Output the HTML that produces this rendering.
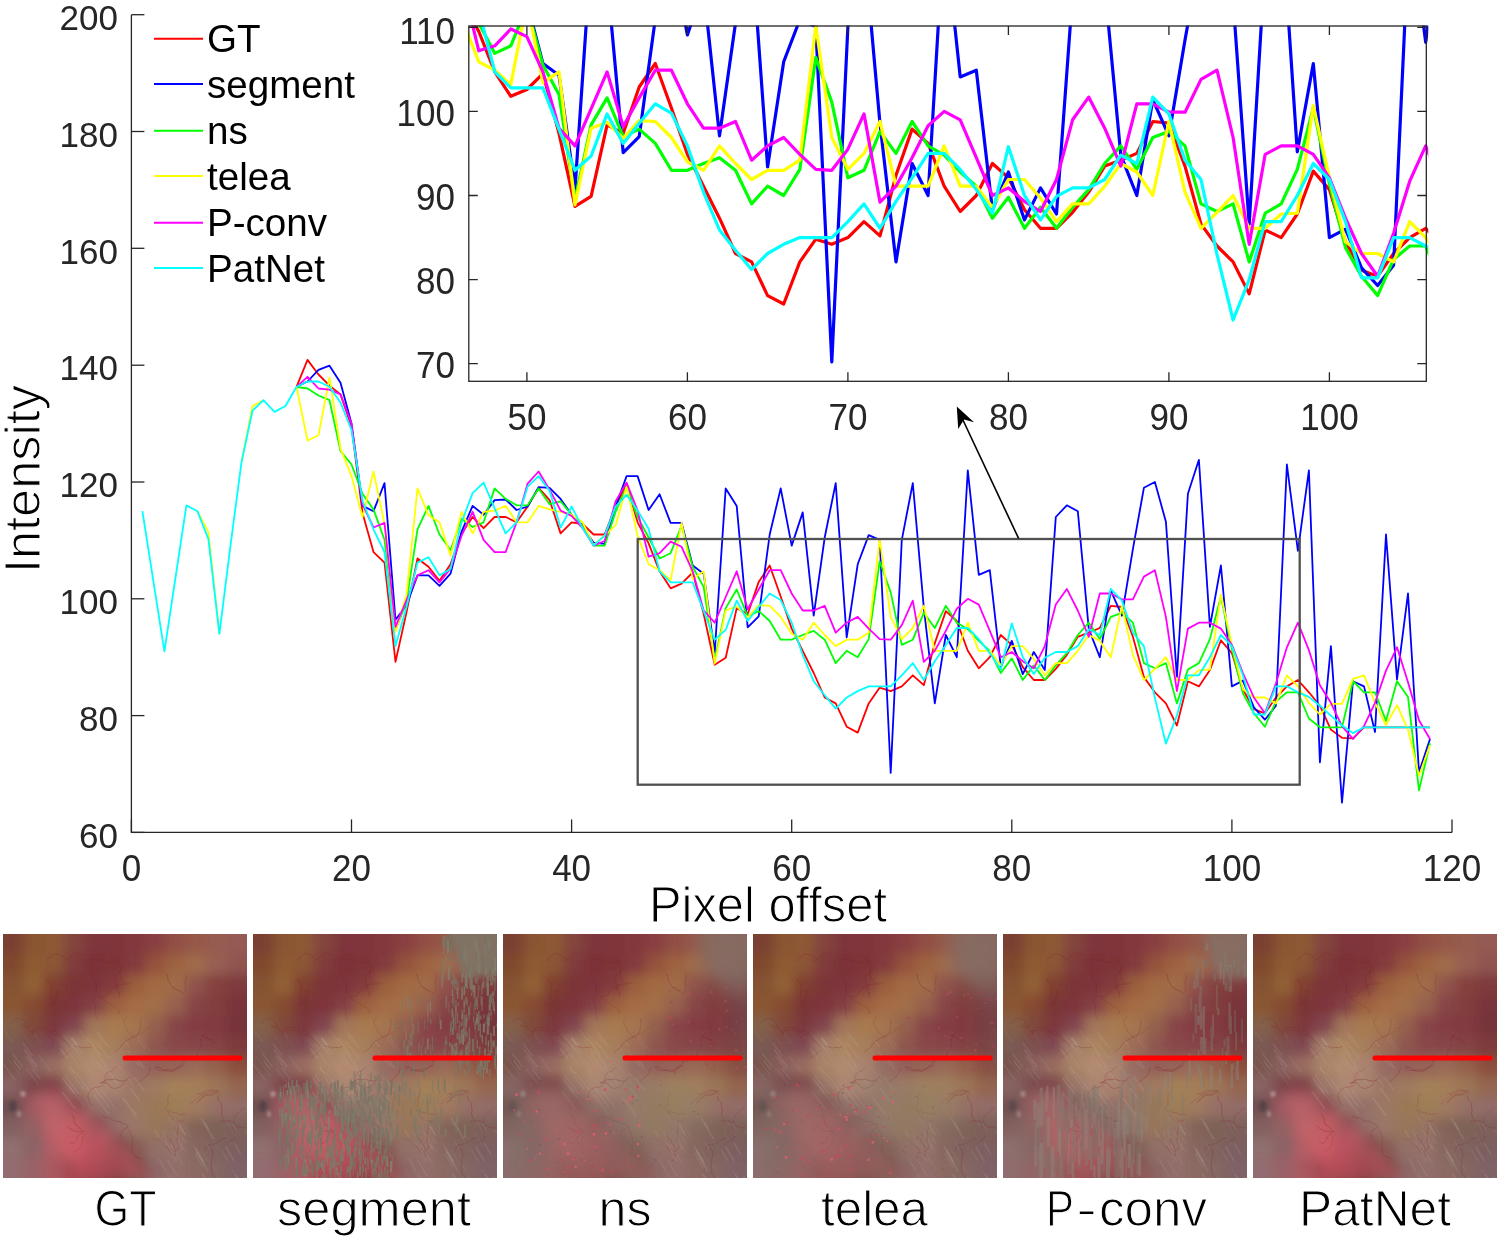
<!DOCTYPE html>
<html><head><meta charset="utf-8"><style>
html,body{margin:0;padding:0;background:#fff;}
svg{display:block;will-change:transform;}
</style></head><body>
<svg width="1500" height="1238" viewBox="0 0 1500 1238">
<defs>

<filter id="gb" x="-10%" y="-10%" width="120%" height="120%"><feGaussianBlur stdDeviation="6"/></filter>
<filter id="gb3" x="-20%" y="-20%" width="140%" height="140%"><feGaussianBlur stdDeviation="3"/></filter>
<filter id="gb2" x="-20%" y="-20%" width="140%" height="140%"><feGaussianBlur stdDeviation="1.5"/></filter>
<filter id="gb05" x="-5%" y="-5%" width="110%" height="110%"><feGaussianBlur stdDeviation="0.4"/></filter>
<filter id="gb6" x="-20%" y="-20%" width="140%" height="140%"><feGaussianBlur stdDeviation="6"/></filter>
<filter id="gb10" x="-30%" y="-30%" width="160%" height="160%"><feGaussianBlur stdDeviation="10"/></filter>
<clipPath id="tc"><rect x="0" y="0" width="244" height="244"/></clipPath>
<linearGradient id="pinkg" x1="0" y1="0" x2="0.6" y2="1"><stop offset="0" stop-color="#b8646c"/><stop offset="0.6" stop-color="#d2606a"/><stop offset="1" stop-color="#c45060"/></linearGradient>
<g id="tissue" clip-path="url(#tc)"><use href="#tissuebase"/><g filter="url(#gb6)"><path d="M28,160 L52,153 L105,196 L150,244 L80,244 L50,210 Z" fill="url(#pinkg)" opacity="0.5"/><path d="M46,150 L104,192 L152,244" stroke="#7e3440" stroke-width="5" fill="none" opacity="0.45"/><path d="M18,152 L45,205 L72,244" stroke="#8a4050" stroke-width="3" fill="none" opacity="0.4"/></g><path d="M80.9,105.6 l11.4,15.3" stroke="#f0e6e6" stroke-width="0.9" opacity="0.08"/><path d="M84.3,99.1 l10.0,13.3" stroke="#f0e6e6" stroke-width="0.8" opacity="0.07"/><path d="M60.6,101.3 l9.1,12.2" stroke="#f0e6e6" stroke-width="1.8" opacity="0.05"/><path d="M72.9,138.9 l14.5,19.3" stroke="#f0e6e6" stroke-width="1.5" opacity="0.07"/><path d="M133.1,98.3 l13.6,18.1" stroke="#f0e6e6" stroke-width="1.1" opacity="0.05"/><path d="M64.4,116.6 l13.1,17.5" stroke="#f0e6e6" stroke-width="1.0" opacity="0.08"/><path d="M106.1,121.1 l10.4,13.8" stroke="#f0e6e6" stroke-width="0.9" opacity="0.04"/><path d="M71.5,142.6 l9.2,12.2" stroke="#f0e6e6" stroke-width="1.2" opacity="0.08"/><path d="M91.3,116.0 l12.9,17.2" stroke="#f0e6e6" stroke-width="1.6" opacity="0.06"/><path d="M101.0,131.8 l13.7,18.3" stroke="#f0e6e6" stroke-width="1.7" opacity="0.06"/><path d="M133.4,103.3 l9.1,12.1" stroke="#f0e6e6" stroke-width="1.7" opacity="0.05"/><path d="M94.1,97.7 l11.6,15.5" stroke="#f0e6e6" stroke-width="1.7" opacity="0.08"/><path d="M125.0,117.0 l11.9,15.9" stroke="#f0e6e6" stroke-width="1.5" opacity="0.08"/><path d="M91.5,153.8 l14.4,19.2" stroke="#f0e6e6" stroke-width="1.4" opacity="0.09"/><path d="M59.9,144.1 l11.4,15.2" stroke="#f0e6e6" stroke-width="2.0" opacity="0.10"/><path d="M77.8,122.0 l11.6,15.5" stroke="#f0e6e6" stroke-width="0.8" opacity="0.07"/><path d="M68.4,103.2 l5.4,7.2" stroke="#f0e6e6" stroke-width="1.7" opacity="0.05"/><path d="M74.8,122.4 l13.7,18.3" stroke="#f0e6e6" stroke-width="0.9" opacity="0.07"/><path d="M99.0,156.8 l13.2,17.5" stroke="#f0e6e6" stroke-width="1.8" opacity="0.06"/><path d="M88.2,120.1 l13.8,18.4" stroke="#f0e6e6" stroke-width="1.9" opacity="0.05"/><path d="M69.1,111.2 l7.2,9.6" stroke="#f0e6e6" stroke-width="1.4" opacity="0.08"/><path d="M76.0,95.3 l9.1,12.1" stroke="#f0e6e6" stroke-width="1.2" opacity="0.08"/><path d="M131.2,143.3 l10.1,13.4" stroke="#f0e6e6" stroke-width="1.5" opacity="0.09"/><path d="M59.3,158.0 l12.8,17.0" stroke="#f0e6e6" stroke-width="1.8" opacity="0.10"/><path d="M86.4,122.9 l5.9,7.8" stroke="#f0e6e6" stroke-width="1.6" opacity="0.04"/><path d="M60.4,109.6 l6.5,8.6" stroke="#f0e6e6" stroke-width="1.2" opacity="0.04"/><path d="M55.0,105.6 l5.8,7.8" stroke="#f0e6e6" stroke-width="1.2" opacity="0.04"/><path d="M124.9,138.0 l6.3,8.4" stroke="#f0e6e6" stroke-width="1.1" opacity="0.06"/><path d="M84.1,103.6 l13.5,17.9" stroke="#f0e6e6" stroke-width="2.0" opacity="0.07"/><path d="M93.7,101.0 l5.8,7.8" stroke="#f0e6e6" stroke-width="1.2" opacity="0.06"/><path d="M121.3,106.3 l5.0,6.7" stroke="#f0e6e6" stroke-width="1.9" opacity="0.08"/><path d="M66.7,133.0 l5.1,6.8" stroke="#f0e6e6" stroke-width="1.4" opacity="0.11"/><path d="M124.1,143.7 l7.5,10.0" stroke="#f0e6e6" stroke-width="1.2" opacity="0.05"/><path d="M116.8,132.3 l12.7,17.0" stroke="#f0e6e6" stroke-width="1.2" opacity="0.06"/><path d="M119.9,163.9 l13.5,18.0" stroke="#f0e6e6" stroke-width="1.8" opacity="0.10"/><path d="M114.2,110.9 l10.1,13.4" stroke="#f0e6e6" stroke-width="1.2" opacity="0.04"/><path d="M57.2,114.6 l7.4,9.9" stroke="#f0e6e6" stroke-width="1.6" opacity="0.11"/><path d="M90.8,160.6 l14.9,19.8" stroke="#f0e6e6" stroke-width="1.9" opacity="0.07"/><path d="M72.6,110.9 l6.8,9.1" stroke="#f0e6e6" stroke-width="1.0" opacity="0.08"/><path d="M127.0,153.8 l9.7,12.9" stroke="#f0e6e6" stroke-width="1.6" opacity="0.10"/><path d="M61.8,141.2 l14.1,18.8" stroke="#f0e6e6" stroke-width="1.7" opacity="0.09"/><path d="M93.2,107.5 l12.8,17.1" stroke="#f0e6e6" stroke-width="1.2" opacity="0.10"/><path d="M132.7,122.7 l8.9,11.9" stroke="#f0e6e6" stroke-width="1.9" opacity="0.09"/><path d="M68.6,103.9 l6.3,8.5" stroke="#f0e6e6" stroke-width="1.9" opacity="0.10"/><path d="M66.7,152.9 l14.8,19.7" stroke="#f0e6e6" stroke-width="1.6" opacity="0.06"/><path d="M201.6,188.4 l4.1,7.0" stroke="#f0e6e6" stroke-width="2.0" opacity="0.09"/><path d="M199.5,239.8 l7.7,13.1" stroke="#f0e6e6" stroke-width="1.8" opacity="0.10"/><path d="M169.8,196.1 l6.5,11.0" stroke="#f0e6e6" stroke-width="1.1" opacity="0.08"/><path d="M174.4,206.8 l5.1,8.7" stroke="#f0e6e6" stroke-width="1.9" opacity="0.06"/><path d="M193.1,217.3 l11.7,19.9" stroke="#f0e6e6" stroke-width="1.3" opacity="0.10"/><path d="M197.2,214.0 l8.4,14.4" stroke="#f0e6e6" stroke-width="0.8" opacity="0.07"/><path d="M167.2,180.3 l10.8,18.3" stroke="#f0e6e6" stroke-width="1.0" opacity="0.07"/><path d="M218.2,215.6 l6.8,11.5" stroke="#f0e6e6" stroke-width="1.4" opacity="0.08"/><path d="M223.7,186.8 l8.8,14.9" stroke="#f0e6e6" stroke-width="1.1" opacity="0.06"/><path d="M222.6,212.5 l8.8,14.9" stroke="#f0e6e6" stroke-width="1.7" opacity="0.10"/><path d="M191.7,219.2 l8.3,14.1" stroke="#f0e6e6" stroke-width="1.4" opacity="0.09"/><path d="M192.5,214.1 l8.1,13.7" stroke="#f0e6e6" stroke-width="1.9" opacity="0.09"/><path d="M232.4,240.3 l6.2,10.6" stroke="#f0e6e6" stroke-width="1.5" opacity="0.11"/><path d="M229.0,188.8 l5.0,8.6" stroke="#f0e6e6" stroke-width="1.3" opacity="0.05"/><path d="M172.6,184.7 l9.7,16.5" stroke="#f0e6e6" stroke-width="1.7" opacity="0.10"/><path d="M164.5,225.8 l9.6,16.3" stroke="#f0e6e6" stroke-width="1.0" opacity="0.10"/><path d="M240.9,194.1 l12.1,20.6" stroke="#f0e6e6" stroke-width="1.3" opacity="0.07"/><path d="M243.0,233.3 l5.4,9.1" stroke="#f0e6e6" stroke-width="1.3" opacity="0.08"/><path d="M181.9,192.5 l6.7,11.4" stroke="#f0e6e6" stroke-width="1.7" opacity="0.04"/><path d="M202.1,208.2 l4.2,7.1" stroke="#f0e6e6" stroke-width="1.2" opacity="0.08"/><path d="M198.2,184.1 l12.4,21.0" stroke="#f0e6e6" stroke-width="1.7" opacity="0.11"/><path d="M159.8,197.0 l4.3,7.4" stroke="#f0e6e6" stroke-width="1.7" opacity="0.06"/><path d="M162.2,207.0 l11.7,20.0" stroke="#f0e6e6" stroke-width="1.8" opacity="0.06"/><path d="M164.0,238.8 l8.9,15.0" stroke="#f0e6e6" stroke-width="1.6" opacity="0.05"/><path d="M155.4,224.0 l7.6,12.9" stroke="#f0e6e6" stroke-width="0.9" opacity="0.11"/><path d="M209.6,231.3 l4.7,8.0" stroke="#f0e6e6" stroke-width="1.8" opacity="0.04"/><path d="M231.1,209.0 l6.9,11.7" stroke="#f0e6e6" stroke-width="1.5" opacity="0.10"/><path d="M175.2,188.3 l8.5,14.4" stroke="#f0e6e6" stroke-width="1.1" opacity="0.05"/><path d="M165.2,183.2 l5.7,9.7" stroke="#f0e6e6" stroke-width="1.2" opacity="0.06"/><path d="M221.4,198.6 l8.3,14.0" stroke="#f0e6e6" stroke-width="1.0" opacity="0.06"/><path d="M151.7,196.0 l4.1,7.0" stroke="#f0e6e6" stroke-width="1.7" opacity="0.08"/><path d="M167.8,210.4 l11.9,20.3" stroke="#f0e6e6" stroke-width="0.9" opacity="0.10"/><path d="M190.6,211.7 l11.1,18.9" stroke="#f0e6e6" stroke-width="1.3" opacity="0.08"/><path d="M214.6,242.9 l6.9,11.8" stroke="#f0e6e6" stroke-width="1.8" opacity="0.09"/><path d="M209.8,205.9 l7.0,11.8" stroke="#f0e6e6" stroke-width="0.9" opacity="0.05"/><path d="M156.6,227.4 l6.2,10.5" stroke="#f0e6e6" stroke-width="1.0" opacity="0.05"/><path d="M229.1,235.7 l9.7,16.5" stroke="#f0e6e6" stroke-width="1.1" opacity="0.06"/><path d="M177.5,209.4 l5.3,9.1" stroke="#f0e6e6" stroke-width="1.3" opacity="0.06"/><path d="M240.4,242.2 l8.7,14.7" stroke="#f0e6e6" stroke-width="1.1" opacity="0.11"/><path d="M179.1,202.8 l4.0,6.8" stroke="#f0e6e6" stroke-width="1.3" opacity="0.07"/><path d="M20.1,100.0 l9.9,13.3" stroke="#f0e6e6" stroke-width="0.8" opacity="0.06"/><path d="M3.6,110.0 l5.2,7.0" stroke="#f0e6e6" stroke-width="0.8" opacity="0.06"/><path d="M9.3,119.3 l10.2,13.6" stroke="#f0e6e6" stroke-width="1.7" opacity="0.09"/><path d="M28.6,134.0 l8.8,11.7" stroke="#f0e6e6" stroke-width="1.2" opacity="0.11"/><path d="M6.0,126.2 l11.4,15.1" stroke="#f0e6e6" stroke-width="0.9" opacity="0.10"/><path d="M35.7,121.4 l12.3,16.4" stroke="#f0e6e6" stroke-width="1.8" opacity="0.05"/><path d="M21.0,115.2 l13.3,17.8" stroke="#f0e6e6" stroke-width="1.8" opacity="0.10"/><path d="M23.4,134.6 l11.8,15.7" stroke="#f0e6e6" stroke-width="1.6" opacity="0.06"/><path d="M1.2,96.7 l8.5,11.3" stroke="#f0e6e6" stroke-width="0.9" opacity="0.10"/><path d="M22.3,121.4 l11.2,14.9" stroke="#f0e6e6" stroke-width="1.6" opacity="0.07"/><path d="M0.1,129.9 l12.4,16.6" stroke="#f0e6e6" stroke-width="1.4" opacity="0.08"/><path d="M26.4,93.3 l12.3,16.4" stroke="#f0e6e6" stroke-width="1.1" opacity="0.05"/><path d="M10.6,126.5 l6.9,9.2" stroke="#f0e6e6" stroke-width="1.7" opacity="0.11"/><path d="M19.8,109.1 l9.7,12.9" stroke="#f0e6e6" stroke-width="1.6" opacity="0.09"/><path d="M24.7,122.1 l5.6,7.5" stroke="#f0e6e6" stroke-width="1.0" opacity="0.06"/><g filter="url(#gb05)"><path d="M130.7,102.8 L128.1,101.0 L125.3,97.9 L123.8,95.0 L122.1,91.7 L120.8,89.3 L120.9,86.3 L124.0,82.6" stroke="#80202c" stroke-width="0.51" fill="none" stroke-linejoin="round" opacity="0.29"/><path d="M132.8,104.7 L134.1,100.1 L136.2,98.4 L137.5,94.2 L137.5,90.8 L138.0,86.8 L137.4,84.0" stroke="#80202c" stroke-width="0.68" fill="none" stroke-linejoin="round" opacity="0.30"/><path d="M129.4,103.0 L132.4,101.2 L135.9,100.5 L138.5,99.4 L141.2,97.5 L143.5,94.9 L146.4,94.2 L149.1,90.8" stroke="#80202c" stroke-width="0.63" fill="none" stroke-linejoin="round" opacity="0.21"/><path d="M132.2,102.5 L127.8,104.0 L125.7,105.5 L122.0,107.2 L118.9,111.1 L117.1,113.8 L113.5,116.4 L111.5,118.0" stroke="#80202c" stroke-width="0.88" fill="none" stroke-linejoin="round" opacity="0.28"/><path d="M216.3,157.3 L212.3,156.6 L207.9,158.0 L203.4,159.6 L200.6,160.4 L197.6,161.6 L194.4,164.5 L191.3,166.3 L189.0,169.2 L186.8,170.9" stroke="#80202c" stroke-width="0.82" fill="none" stroke-linejoin="round" opacity="0.22"/><path d="M216.9,160.3 L212.7,157.6 L210.2,156.2 L207.5,156.0 L204.8,156.4 L202.0,158.0 L197.7,159.9 L194.2,160.1" stroke="#80202c" stroke-width="0.71" fill="none" stroke-linejoin="round" opacity="0.30"/><path d="M214.0,157.4 L211.4,159.5 L207.9,161.0 L203.2,161.0 L199.2,163.6 L196.2,166.3 L194.0,168.8" stroke="#80202c" stroke-width="0.91" fill="none" stroke-linejoin="round" opacity="0.39"/><path d="M214.6,161.6 L215.0,165.3 L218.1,168.9 L218.6,172.7 L219.1,176.3 L218.4,179.3 L219.6,184.1 L222.9,187.2" stroke="#80202c" stroke-width="0.85" fill="none" stroke-linejoin="round" opacity="0.37"/><path d="M71.7,112.0 L76.4,112.8 L79.4,113.9 L82.5,113.4 L86.8,113.6 L89.1,112.3" stroke="#80202c" stroke-width="0.76" fill="none" stroke-linejoin="round" opacity="0.32"/><path d="M68.3,115.6 L64.4,118.6 L62.5,121.3 L59.7,122.8 L56.3,124.5" stroke="#80202c" stroke-width="0.51" fill="none" stroke-linejoin="round" opacity="0.28"/><path d="M67.3,113.2 L66.2,110.7 L63.7,108.2 L60.5,106.2 L57.7,102.9 L55.0,100.8 L51.7,100.9 L49.4,99.7 L46.7,98.4 L44.6,96.2" stroke="#80202c" stroke-width="0.73" fill="none" stroke-linejoin="round" opacity="0.25"/><path d="M165.7,175.7 L169.5,178.6 L173.5,178.8 L175.6,180.3 L179.6,180.2 L183.8,179.6" stroke="#80202c" stroke-width="0.59" fill="none" stroke-linejoin="round" opacity="0.29"/><path d="M163.9,172.7 L165.1,169.6 L164.7,164.7 L165.4,162.3 L167.1,159.2" stroke="#80202c" stroke-width="0.69" fill="none" stroke-linejoin="round" opacity="0.27"/><path d="M162.0,173.7 L164.8,177.5 L167.0,181.3 L169.8,184.7 L173.6,187.2 L177.8,187.3 L181.4,185.8" stroke="#80202c" stroke-width="0.72" fill="none" stroke-linejoin="round" opacity="0.26"/><path d="M97.2,149.5 L99.7,148.8 L101.3,146.6 L104.3,145.6 L109.0,145.6 L112.1,145.0 L115.8,146.6 L120.1,147.0 L123.2,146.5 L126.1,143.2" stroke="#80202c" stroke-width="0.96" fill="none" stroke-linejoin="round" opacity="0.33"/><path d="M97.1,148.4 L100.8,148.2 L105.0,149.7 L107.8,153.2 L111.3,154.7 L115.9,153.3 L119.5,151.0 L121.0,148.3" stroke="#80202c" stroke-width="0.93" fill="none" stroke-linejoin="round" opacity="0.29"/><path d="M100.6,150.1 L102.2,147.4 L102.1,144.9 L102.2,141.5 L105.3,138.0 L108.4,137.4 L110.4,135.5 L113.4,132.5" stroke="#80202c" stroke-width="0.72" fill="none" stroke-linejoin="round" opacity="0.25"/><path d="M100.7,151.0 L96.8,153.0 L92.3,153.5 L89.4,154.7 L87.0,156.8 L85.3,159.9 L85.0,163.0 L86.1,167.7 L87.7,169.8 L90.4,171.4" stroke="#80202c" stroke-width="0.76" fill="none" stroke-linejoin="round" opacity="0.33"/><path d="M47.9,67.6 L47.7,64.5 L47.2,61.1 L48.4,58.3 L47.4,54.4 L48.0,51.5 L46.6,48.0 L43.7,45.3" stroke="#80202c" stroke-width="0.89" fill="none" stroke-linejoin="round" opacity="0.33"/><path d="M45.8,71.3 L49.0,70.1 L51.0,67.8 L52.4,64.1 L54.1,61.6 L53.8,58.2 L54.2,55.3" stroke="#80202c" stroke-width="0.66" fill="none" stroke-linejoin="round" opacity="0.24"/><path d="M177.4,57.6 L174.9,56.1 L171.4,53.9 L168.6,52.5 L166.7,48.8 L165.3,46.6 L164.3,42.0 L163.4,39.6" stroke="#80202c" stroke-width="0.88" fill="none" stroke-linejoin="round" opacity="0.36"/><path d="M179.3,59.4 L177.4,57.3 L174.7,56.6 L171.6,55.3 L169.5,53.4" stroke="#80202c" stroke-width="0.53" fill="none" stroke-linejoin="round" opacity="0.23"/><path d="M179.4,60.4 L181.2,58.2 L182.6,55.6 L182.6,52.9 L182.0,48.6 L183.1,44.2 L183.0,39.6" stroke="#80202c" stroke-width="0.52" fill="none" stroke-linejoin="round" opacity="0.38"/><path d="M152.6,134.3 L156.6,136.5 L161.0,136.7 L164.3,135.4 L168.8,136.0 L171.7,135.0 L175.1,133.3 L177.4,131.7 L179.8,128.1 L182.2,127.1" stroke="#80202c" stroke-width="0.78" fill="none" stroke-linejoin="round" opacity="0.35"/><path d="M152.0,132.7 L156.6,133.5 L160.1,135.7 L163.0,136.7 L166.4,137.1 L169.3,137.6 L173.6,135.0 L176.6,133.0 L180.7,131.1" stroke="#80202c" stroke-width="0.92" fill="none" stroke-linejoin="round" opacity="0.36"/><path d="M147.4,134.2 L146.1,137.5 L145.1,139.9 L143.6,142.2 L140.1,144.9 L138.0,146.5 L135.3,148.6" stroke="#80202c" stroke-width="0.98" fill="none" stroke-linejoin="round" opacity="0.23"/><path d="M61.4,26.9 L65.4,24.5 L68.5,21.1 L72.3,19.4 L75.3,19.0 L79.1,20.4" stroke="#80202c" stroke-width="0.63" fill="none" stroke-linejoin="round" opacity="0.26"/><path d="M62.4,24.7 L58.8,21.6 L55.8,20.6 L52.7,19.6 L49.9,20.6 L46.5,24.1 L42.5,26.6" stroke="#80202c" stroke-width="0.58" fill="none" stroke-linejoin="round" opacity="0.36"/><path d="M202.3,217.1 L203.0,213.3 L204.9,211.2 L208.9,210.6 L213.2,209.3 L217.2,206.3 L220.2,204.6 L223.7,204.1" stroke="#80202c" stroke-width="0.59" fill="none" stroke-linejoin="round" opacity="0.35"/><path d="M206.9,213.5 L209.6,217.3 L209.7,222.1 L208.4,226.2 L208.6,229.5 L208.3,233.0 L208.5,235.6 L208.9,239.6 L210.7,241.5 L212.7,244.1" stroke="#80202c" stroke-width="0.76" fill="none" stroke-linejoin="round" opacity="0.31"/><path d="M125.5,193.2 L123.9,190.8 L119.6,189.5 L116.6,187.4 L113.8,187.5 L110.7,186.8 L106.8,183.8 L102.2,183.7 L98.9,181.5" stroke="#80202c" stroke-width="0.79" fill="none" stroke-linejoin="round" opacity="0.32"/><path d="M125.0,193.0 L121.6,194.9 L119.2,196.8 L117.9,201.1 L119.4,204.7" stroke="#80202c" stroke-width="0.97" fill="none" stroke-linejoin="round" opacity="0.23"/><path d="M125.6,195.0 L127.4,198.7 L128.4,201.1 L129.7,206.0 L129.4,209.6 L129.0,213.1 L128.9,217.8 L131.0,221.3 L135.3,224.0 L139.3,224.9" stroke="#80202c" stroke-width="0.56" fill="none" stroke-linejoin="round" opacity="0.38"/><path d="M28.6,97.3 L32.0,96.3 L35.8,96.8 L39.8,95.9 L42.6,97.2 L44.0,99.3 L46.5,101.2 L49.2,105.2 L50.0,108.4 L49.1,111.6" stroke="#80202c" stroke-width="0.62" fill="none" stroke-linejoin="round" opacity="0.38"/><path d="M31.2,101.0 L27.9,97.8 L25.6,93.7 L23.1,90.2 L21.6,87.3 L18.4,84.8 L13.6,84.5 L11.3,85.5 L8.6,89.5" stroke="#80202c" stroke-width="0.67" fill="none" stroke-linejoin="round" opacity="0.23"/><path d="M27.2,101.2 L29.6,100.0 L31.8,95.8 L34.0,93.9 L37.8,93.5 L42.5,94.1 L46.2,96.2 L49.2,97.2 L51.8,97.0 L55.8,99.5" stroke="#80202c" stroke-width="0.88" fill="none" stroke-linejoin="round" opacity="0.22"/><path d="M30.8,99.9 L28.5,96.1 L25.8,94.3 L23.5,93.0 L20.4,92.5 L17.3,91.0" stroke="#80202c" stroke-width="0.66" fill="none" stroke-linejoin="round" opacity="0.39"/><path d="M93.7,61.5 L91.1,64.2 L90.4,67.8 L92.0,71.4 L92.6,75.9 L92.7,79.1 L93.1,82.9 L94.9,86.9" stroke="#80202c" stroke-width="0.53" fill="none" stroke-linejoin="round" opacity="0.27"/><path d="M96.2,62.0 L99.8,65.2 L102.7,67.9 L107.1,69.1 L109.0,71.5 L113.4,73.5 L116.0,76.2 L116.4,80.1" stroke="#80202c" stroke-width="0.55" fill="none" stroke-linejoin="round" opacity="0.27"/><path d="M97.6,62.4 L102.3,62.4 L104.7,60.6 L107.4,56.7 L109.3,53.8 L112.1,52.5 L115.5,50.7 L119.8,50.1 L123.2,50.3 L126.0,49.8" stroke="#80202c" stroke-width="0.92" fill="none" stroke-linejoin="round" opacity="0.33"/><path d="M93.0,59.6 L93.2,56.8 L93.2,52.1 L92.2,49.3 L89.6,45.9 L89.2,43.0 L87.3,40.5" stroke="#80202c" stroke-width="0.66" fill="none" stroke-linejoin="round" opacity="0.30"/><path d="M202.7,98.6 L201.1,100.9 L198.9,103.0 L197.9,105.7 L197.7,108.9 L198.4,111.6 L197.4,114.6 L194.6,117.0 L193.8,121.6 L193.5,124.6" stroke="#80202c" stroke-width="0.99" fill="none" stroke-linejoin="round" opacity="0.26"/><path d="M198.5,101.4 L202.8,103.6 L206.4,105.1 L209.1,107.4 L213.1,108.9" stroke="#80202c" stroke-width="0.94" fill="none" stroke-linejoin="round" opacity="0.35"/><path d="M118.4,28.1 L115.4,26.6 L113.2,25.0 L109.4,22.7 L106.6,19.7" stroke="#80202c" stroke-width="0.63" fill="none" stroke-linejoin="round" opacity="0.28"/><path d="M120.7,29.5 L116.1,29.7 L113.1,28.1 L108.6,29.0 L106.1,28.0 L103.0,27.9 L98.4,26.2 L95.1,26.5 L91.7,25.1 L88.0,25.1" stroke="#80202c" stroke-width="0.51" fill="none" stroke-linejoin="round" opacity="0.36"/><path d="M119.1,31.5 L117.6,35.4 L116.8,39.7 L118.4,44.4 L119.7,46.7 L122.3,49.0 L125.9,49.1 L130.1,48.8" stroke="#80202c" stroke-width="0.68" fill="none" stroke-linejoin="round" opacity="0.25"/><path d="M121.4,32.6 L119.1,37.0 L115.7,38.5 L112.7,42.3 L112.4,46.8 L113.8,50.6 L114.1,55.2 L116.2,58.7 L116.6,63.2" stroke="#80202c" stroke-width="0.71" fill="none" stroke-linejoin="round" opacity="0.40"/><path d="M231.7,189.8 L228.9,187.8 L225.4,186.9 L223.0,187.3 L219.8,186.9 L216.6,187.6" stroke="#80202c" stroke-width="0.74" fill="none" stroke-linejoin="round" opacity="0.29"/><path d="M231.0,189.2 L230.4,186.6 L231.6,182.0 L233.3,179.7 L236.9,177.9 L238.0,175.6 L241.6,173.6" stroke="#80202c" stroke-width="0.63" fill="none" stroke-linejoin="round" opacity="0.22"/><path d="M228.4,191.7 L229.2,194.6 L230.8,198.1 L231.8,202.2 L230.8,204.7 L227.6,206.8 L224.6,208.1" stroke="#80202c" stroke-width="0.75" fill="none" stroke-linejoin="round" opacity="0.24"/><path d="M232.0,191.0 L234.7,192.7 L237.5,193.3 L240.1,193.8 L242.9,194.2" stroke="#80202c" stroke-width="0.75" fill="none" stroke-linejoin="round" opacity="0.30"/><path d="M81.4,198.0 L78.1,195.8 L75.0,192.5 L72.1,190.4 L71.4,187.8 L71.0,183.7 L68.2,180.8" stroke="#80202c" stroke-width="0.84" fill="none" stroke-linejoin="round" opacity="0.39"/><path d="M82.9,200.1 L80.7,201.9 L79.1,205.1 L79.3,207.8 L78.7,211.1 L76.7,214.4 L73.8,215.8 L71.3,217.7" stroke="#80202c" stroke-width="0.53" fill="none" stroke-linejoin="round" opacity="0.26"/><path d="M80.0,199.0 L76.9,200.3 L74.3,203.0 L73.6,205.9 L72.1,208.3 L69.6,209.3 L66.3,208.2" stroke="#80202c" stroke-width="0.78" fill="none" stroke-linejoin="round" opacity="0.28"/><path d="M79.4,197.7 L74.6,197.5 L70.5,196.7 L66.5,194.1 L63.6,191.4" stroke="#80202c" stroke-width="0.81" fill="none" stroke-linejoin="round" opacity="0.34"/><path d="M172.5,217.2 L175.5,214.0 L176.0,211.1 L174.0,207.1 L174.4,203.0 L174.1,198.4 L175.3,194.7 L175.3,191.5 L174.9,188.2 L174.0,184.2" stroke="#80202c" stroke-width="0.97" fill="none" stroke-linejoin="round" opacity="0.21"/><path d="M172.2,217.7 L168.1,215.3 L165.8,214.2 L162.0,213.0 L159.0,209.1 L156.7,206.4 L152.8,205.1 L149.9,205.4" stroke="#80202c" stroke-width="0.51" fill="none" stroke-linejoin="round" opacity="0.20"/><path d="M172.7,222.8 L170.7,220.9 L168.3,218.8 L165.8,216.1 L163.9,211.7" stroke="#80202c" stroke-width="0.68" fill="none" stroke-linejoin="round" opacity="0.35"/><path d="M172.9,221.6 L172.2,217.3 L171.1,212.6 L168.5,208.5 L167.8,206.0 L164.5,203.6 L163.2,201.2" stroke="#80202c" stroke-width="0.66" fill="none" stroke-linejoin="round" opacity="0.35"/></g><g filter="url(#gb2)" opacity="0.45"><ellipse cx="10" cy="172" rx="4" ry="6" fill="#3e3040"/><ellipse cx="20" cy="160" rx="2.5" ry="3" fill="#e8d8e0"/><ellipse cx="16" cy="180" rx="2" ry="3" fill="#d8c8d0"/></g></g>
<g id="tissuebase"><g filter="url(#gb)"><rect x="-20.33" y="-20.33" width="20.93" height="20.93" fill="#7a4030"/><rect x="0.00" y="-20.33" width="20.93" height="20.93" fill="#7a4030"/><rect x="20.33" y="-20.33" width="20.93" height="20.93" fill="#8a5530"/><rect x="40.67" y="-20.33" width="20.93" height="20.93" fill="#8e5834"/><rect x="61.00" y="-20.33" width="20.93" height="20.93" fill="#84443c"/><rect x="81.33" y="-20.33" width="20.93" height="20.93" fill="#7e363a"/><rect x="101.67" y="-20.33" width="20.93" height="20.93" fill="#80363b"/><rect x="122.00" y="-20.33" width="20.93" height="20.93" fill="#84383e"/><rect x="142.33" y="-20.33" width="20.93" height="20.93" fill="#8a4040"/><rect x="162.67" y="-20.33" width="20.93" height="20.93" fill="#925044"/><rect x="183.00" y="-20.33" width="20.93" height="20.93" fill="#96584a"/><rect x="203.33" y="-20.33" width="20.93" height="20.93" fill="#965c50"/><rect x="223.67" y="-20.33" width="20.93" height="20.93" fill="#945a52"/><rect x="244.00" y="-20.33" width="20.93" height="20.93" fill="#945a52"/><rect x="-20.33" y="0.00" width="20.93" height="20.93" fill="#7a4030"/><rect x="0.00" y="0.00" width="20.93" height="20.93" fill="#7a4030"/><rect x="20.33" y="0.00" width="20.93" height="20.93" fill="#8a5530"/><rect x="40.67" y="0.00" width="20.93" height="20.93" fill="#8e5834"/><rect x="61.00" y="0.00" width="20.93" height="20.93" fill="#84443c"/><rect x="81.33" y="0.00" width="20.93" height="20.93" fill="#7e363a"/><rect x="101.67" y="0.00" width="20.93" height="20.93" fill="#80363b"/><rect x="122.00" y="0.00" width="20.93" height="20.93" fill="#84383e"/><rect x="142.33" y="0.00" width="20.93" height="20.93" fill="#8a4040"/><rect x="162.67" y="0.00" width="20.93" height="20.93" fill="#925044"/><rect x="183.00" y="0.00" width="20.93" height="20.93" fill="#96584a"/><rect x="203.33" y="0.00" width="20.93" height="20.93" fill="#965c50"/><rect x="223.67" y="0.00" width="20.93" height="20.93" fill="#945a52"/><rect x="244.00" y="0.00" width="20.93" height="20.93" fill="#945a52"/><rect x="-20.33" y="20.33" width="20.93" height="20.93" fill="#80482e"/><rect x="0.00" y="20.33" width="20.93" height="20.93" fill="#80482e"/><rect x="20.33" y="20.33" width="20.93" height="20.93" fill="#8e5a32"/><rect x="40.67" y="20.33" width="20.93" height="20.93" fill="#8c5636"/><rect x="61.00" y="20.33" width="20.93" height="20.93" fill="#803a3a"/><rect x="81.33" y="20.33" width="20.93" height="20.93" fill="#7c3238"/><rect x="101.67" y="20.33" width="20.93" height="20.93" fill="#7e3439"/><rect x="122.00" y="20.33" width="20.93" height="20.93" fill="#843a3e"/><rect x="142.33" y="20.33" width="20.93" height="20.93" fill="#94523e"/><rect x="162.67" y="20.33" width="20.93" height="20.93" fill="#9e6440"/><rect x="183.00" y="20.33" width="20.93" height="20.93" fill="#a06c4c"/><rect x="203.33" y="20.33" width="20.93" height="20.93" fill="#985e52"/><rect x="223.67" y="20.33" width="20.93" height="20.93" fill="#905450"/><rect x="244.00" y="20.33" width="20.93" height="20.93" fill="#905450"/><rect x="-20.33" y="40.67" width="20.93" height="20.93" fill="#865230"/><rect x="0.00" y="40.67" width="20.93" height="20.93" fill="#865230"/><rect x="20.33" y="40.67" width="20.93" height="20.93" fill="#926034"/><rect x="40.67" y="40.67" width="20.93" height="20.93" fill="#804032"/><rect x="61.00" y="40.67" width="20.93" height="20.93" fill="#7c3438"/><rect x="81.33" y="40.67" width="20.93" height="20.93" fill="#7e343a"/><rect x="101.67" y="40.67" width="20.93" height="20.93" fill="#843a3e"/><rect x="122.00" y="40.67" width="20.93" height="20.93" fill="#9a5e3c"/><rect x="142.33" y="40.67" width="20.93" height="20.93" fill="#a26a42"/><rect x="162.67" y="40.67" width="20.93" height="20.93" fill="#a06c48"/><rect x="183.00" y="40.67" width="20.93" height="20.93" fill="#90524c"/><rect x="203.33" y="40.67" width="20.93" height="20.93" fill="#84403e"/><rect x="223.67" y="40.67" width="20.93" height="20.93" fill="#7e3a3c"/><rect x="244.00" y="40.67" width="20.93" height="20.93" fill="#7e3a3c"/><rect x="-20.33" y="61.00" width="20.93" height="20.93" fill="#8a5632"/><rect x="0.00" y="61.00" width="20.93" height="20.93" fill="#8a5632"/><rect x="20.33" y="61.00" width="20.93" height="20.93" fill="#864c32"/><rect x="40.67" y="61.00" width="20.93" height="20.93" fill="#7a3434"/><rect x="61.00" y="61.00" width="20.93" height="20.93" fill="#7e363a"/><rect x="81.33" y="61.00" width="20.93" height="20.93" fill="#844044"/><rect x="101.67" y="61.00" width="20.93" height="20.93" fill="#9c6040"/><rect x="122.00" y="61.00" width="20.93" height="20.93" fill="#a46c44"/><rect x="142.33" y="61.00" width="20.93" height="20.93" fill="#a26e48"/><rect x="162.67" y="61.00" width="20.93" height="20.93" fill="#96604e"/><rect x="183.00" y="61.00" width="20.93" height="20.93" fill="#864446"/><rect x="203.33" y="61.00" width="20.93" height="20.93" fill="#823c3e"/><rect x="223.67" y="61.00" width="20.93" height="20.93" fill="#78363a"/><rect x="244.00" y="61.00" width="20.93" height="20.93" fill="#78363a"/><rect x="-20.33" y="81.33" width="20.93" height="20.93" fill="#846048"/><rect x="0.00" y="81.33" width="20.93" height="20.93" fill="#846048"/><rect x="20.33" y="81.33" width="20.93" height="20.93" fill="#80483a"/><rect x="40.67" y="81.33" width="20.93" height="20.93" fill="#7c383c"/><rect x="61.00" y="81.33" width="20.93" height="20.93" fill="#824450"/><rect x="81.33" y="81.33" width="20.93" height="20.93" fill="#a2765a"/><rect x="101.67" y="81.33" width="20.93" height="20.93" fill="#a87a50"/><rect x="122.00" y="81.33" width="20.93" height="20.93" fill="#a47650"/><rect x="142.33" y="81.33" width="20.93" height="20.93" fill="#94604e"/><rect x="162.67" y="81.33" width="20.93" height="20.93" fill="#884448"/><rect x="183.00" y="81.33" width="20.93" height="20.93" fill="#843e42"/><rect x="203.33" y="81.33" width="20.93" height="20.93" fill="#823a40"/><rect x="223.67" y="81.33" width="20.93" height="20.93" fill="#76343a"/><rect x="244.00" y="81.33" width="20.93" height="20.93" fill="#76343a"/><rect x="-20.33" y="101.67" width="20.93" height="20.93" fill="#7a5a52"/><rect x="0.00" y="101.67" width="20.93" height="20.93" fill="#7a5a52"/><rect x="20.33" y="101.67" width="20.93" height="20.93" fill="#7e5050"/><rect x="40.67" y="101.67" width="20.93" height="20.93" fill="#804a52"/><rect x="61.00" y="101.67" width="20.93" height="20.93" fill="#a6806a"/><rect x="81.33" y="101.67" width="20.93" height="20.93" fill="#aa845e"/><rect x="101.67" y="101.67" width="20.93" height="20.93" fill="#a67e5c"/><rect x="122.00" y="101.67" width="20.93" height="20.93" fill="#9c6c56"/><rect x="142.33" y="101.67" width="20.93" height="20.93" fill="#8e5650"/><rect x="162.67" y="101.67" width="20.93" height="20.93" fill="#88464a"/><rect x="183.00" y="101.67" width="20.93" height="20.93" fill="#86444a"/><rect x="203.33" y="101.67" width="20.93" height="20.93" fill="#844244"/><rect x="223.67" y="101.67" width="20.93" height="20.93" fill="#7e3a3e"/><rect x="244.00" y="101.67" width="20.93" height="20.93" fill="#7e3a3e"/><rect x="-20.33" y="122.00" width="20.93" height="20.93" fill="#7a5650"/><rect x="0.00" y="122.00" width="20.93" height="20.93" fill="#7a5650"/><rect x="20.33" y="122.00" width="20.93" height="20.93" fill="#8c625e"/><rect x="40.67" y="122.00" width="20.93" height="20.93" fill="#9a6e62"/><rect x="61.00" y="122.00" width="20.93" height="20.93" fill="#aa8468"/><rect x="81.33" y="122.00" width="20.93" height="20.93" fill="#b38b6f"/><rect x="101.67" y="122.00" width="20.93" height="20.93" fill="#ab836f"/><rect x="122.00" y="122.00" width="20.93" height="20.93" fill="#966a62"/><rect x="142.33" y="122.00" width="20.93" height="20.93" fill="#945e58"/><rect x="162.67" y="122.00" width="20.93" height="20.93" fill="#966458"/><rect x="183.00" y="122.00" width="20.93" height="20.93" fill="#9a6a58"/><rect x="203.33" y="122.00" width="20.93" height="20.93" fill="#94604c"/><rect x="223.67" y="122.00" width="20.93" height="20.93" fill="#8c4e3c"/><rect x="244.00" y="122.00" width="20.93" height="20.93" fill="#8c4e3c"/><rect x="-20.33" y="142.33" width="20.93" height="20.93" fill="#8a6464"/><rect x="0.00" y="142.33" width="20.93" height="20.93" fill="#8a6464"/><rect x="20.33" y="142.33" width="20.93" height="20.93" fill="#7c4448"/><rect x="40.67" y="142.33" width="20.93" height="20.93" fill="#7e4246"/><rect x="61.00" y="142.33" width="20.93" height="20.93" fill="#9c7668"/><rect x="81.33" y="142.33" width="20.93" height="20.93" fill="#ad8773"/><rect x="101.67" y="142.33" width="20.93" height="20.93" fill="#a98371"/><rect x="122.00" y="142.33" width="20.93" height="20.93" fill="#9c7464"/><rect x="142.33" y="142.33" width="20.93" height="20.93" fill="#a07a60"/><rect x="162.67" y="142.33" width="20.93" height="20.93" fill="#a48058"/><rect x="183.00" y="142.33" width="20.93" height="20.93" fill="#a47e58"/><rect x="203.33" y="142.33" width="20.93" height="20.93" fill="#9c7656"/><rect x="223.67" y="142.33" width="20.93" height="20.93" fill="#946650"/><rect x="244.00" y="142.33" width="20.93" height="20.93" fill="#946650"/><rect x="-20.33" y="162.67" width="20.93" height="20.93" fill="#705050"/><rect x="0.00" y="162.67" width="20.93" height="20.93" fill="#705050"/><rect x="20.33" y="162.67" width="20.93" height="20.93" fill="#a05c62"/><rect x="40.67" y="162.67" width="20.93" height="20.93" fill="#a85c62"/><rect x="61.00" y="162.67" width="20.93" height="20.93" fill="#844a50"/><rect x="81.33" y="162.67" width="20.93" height="20.93" fill="#98746c"/><rect x="101.67" y="162.67" width="20.93" height="20.93" fill="#947068"/><rect x="122.00" y="162.67" width="20.93" height="20.93" fill="#9c7864"/><rect x="142.33" y="162.67" width="20.93" height="20.93" fill="#9a7856"/><rect x="162.67" y="162.67" width="20.93" height="20.93" fill="#9e7e56"/><rect x="183.00" y="162.67" width="20.93" height="20.93" fill="#a07a5e"/><rect x="203.33" y="162.67" width="20.93" height="20.93" fill="#967068"/><rect x="223.67" y="162.67" width="20.93" height="20.93" fill="#926c68"/><rect x="244.00" y="162.67" width="20.93" height="20.93" fill="#926c68"/><rect x="-20.33" y="183.00" width="20.93" height="20.93" fill="#846060"/><rect x="0.00" y="183.00" width="20.93" height="20.93" fill="#846060"/><rect x="20.33" y="183.00" width="20.93" height="20.93" fill="#946264"/><rect x="40.67" y="183.00" width="20.93" height="20.93" fill="#b66468"/><rect x="61.00" y="183.00" width="20.93" height="20.93" fill="#b8585e"/><rect x="81.33" y="183.00" width="20.93" height="20.93" fill="#824c50"/><rect x="101.67" y="183.00" width="20.93" height="20.93" fill="#94706a"/><rect x="122.00" y="183.00" width="20.93" height="20.93" fill="#9a7668"/><rect x="142.33" y="183.00" width="20.93" height="20.93" fill="#98765a"/><rect x="162.67" y="183.00" width="20.93" height="20.93" fill="#947262"/><rect x="183.00" y="183.00" width="20.93" height="20.93" fill="#846458"/><rect x="203.33" y="183.00" width="20.93" height="20.93" fill="#7e6256"/><rect x="223.67" y="183.00" width="20.93" height="20.93" fill="#7e605a"/><rect x="244.00" y="183.00" width="20.93" height="20.93" fill="#7e605a"/><rect x="-20.33" y="203.33" width="20.93" height="20.93" fill="#907070"/><rect x="0.00" y="203.33" width="20.93" height="20.93" fill="#907070"/><rect x="20.33" y="203.33" width="20.93" height="20.93" fill="#8c6266"/><rect x="40.67" y="203.33" width="20.93" height="20.93" fill="#b46066"/><rect x="61.00" y="203.33" width="20.93" height="20.93" fill="#c0585e"/><rect x="81.33" y="203.33" width="20.93" height="20.93" fill="#a84a52"/><rect x="101.67" y="203.33" width="20.93" height="20.93" fill="#7e4b46"/><rect x="122.00" y="203.33" width="20.93" height="20.93" fill="#885d52"/><rect x="142.33" y="203.33" width="20.93" height="20.93" fill="#927068"/><rect x="162.67" y="203.33" width="20.93" height="20.93" fill="#94726a"/><rect x="183.00" y="203.33" width="20.93" height="20.93" fill="#86665e"/><rect x="203.33" y="203.33" width="20.93" height="20.93" fill="#80625e"/><rect x="223.67" y="203.33" width="20.93" height="20.93" fill="#7c5e5e"/><rect x="244.00" y="203.33" width="20.93" height="20.93" fill="#7c5e5e"/><rect x="-20.33" y="223.67" width="20.93" height="20.93" fill="#926c70"/><rect x="0.00" y="223.67" width="20.93" height="20.93" fill="#926c70"/><rect x="20.33" y="223.67" width="20.93" height="20.93" fill="#9a6268"/><rect x="40.67" y="223.67" width="20.93" height="20.93" fill="#aa5860"/><rect x="61.00" y="223.67" width="20.93" height="20.93" fill="#a84850"/><rect x="81.33" y="223.67" width="20.93" height="20.93" fill="#96424a"/><rect x="101.67" y="223.67" width="20.93" height="20.93" fill="#7e413c"/><rect x="122.00" y="223.67" width="20.93" height="20.93" fill="#80534a"/><rect x="142.33" y="223.67" width="20.93" height="20.93" fill="#8e6a68"/><rect x="162.67" y="223.67" width="20.93" height="20.93" fill="#926e6a"/><rect x="183.00" y="223.67" width="20.93" height="20.93" fill="#8a6a62"/><rect x="203.33" y="223.67" width="20.93" height="20.93" fill="#846662"/><rect x="223.67" y="223.67" width="20.93" height="20.93" fill="#7e6266"/><rect x="244.00" y="223.67" width="20.93" height="20.93" fill="#7e6266"/><rect x="-20.33" y="244.00" width="20.93" height="20.93" fill="#926c70"/><rect x="0.00" y="244.00" width="20.93" height="20.93" fill="#926c70"/><rect x="20.33" y="244.00" width="20.93" height="20.93" fill="#9a6268"/><rect x="40.67" y="244.00" width="20.93" height="20.93" fill="#aa5860"/><rect x="61.00" y="244.00" width="20.93" height="20.93" fill="#a84850"/><rect x="81.33" y="244.00" width="20.93" height="20.93" fill="#96424a"/><rect x="101.67" y="244.00" width="20.93" height="20.93" fill="#7e413c"/><rect x="122.00" y="244.00" width="20.93" height="20.93" fill="#80534a"/><rect x="142.33" y="244.00" width="20.93" height="20.93" fill="#8e6a68"/><rect x="162.67" y="244.00" width="20.93" height="20.93" fill="#926e6a"/><rect x="183.00" y="244.00" width="20.93" height="20.93" fill="#8a6a62"/><rect x="203.33" y="244.00" width="20.93" height="20.93" fill="#846662"/><rect x="223.67" y="244.00" width="20.93" height="20.93" fill="#7e6266"/><rect x="244.00" y="244.00" width="20.93" height="20.93" fill="#7e6266"/></g></g>
</defs>
<rect width="1500" height="1238" fill="#fff"/>
<g fill="none" stroke-width="1.8" stroke-linejoin="round">
<polyline stroke="#ff0000" points="296.5,386.8 307.5,359.9 318.5,374.5 329.5,385.6 340.5,394.4 351.5,426.5 362.5,512.9 373.5,552.1 384.5,562.6 395.5,661.9 406.5,612.2 417.5,558.5 428.5,566.7 439.5,580.7 450.5,564.3 461.6,533.4 472.6,517.0 483.6,528.1 494.6,517.0 505.6,517.0 516.6,522.3 527.6,506.5 538.6,487.8 549.6,500.1 560.6,533.4 571.6,522.3 582.6,524.0 593.6,534.5 604.6,534.5 615.6,506.5 626.6,483.7 637.6,522.3 648.6,543.3 659.6,571.3 670.6,588.3 681.6,583.6 692.7,572.5 703.7,614.0 714.7,664.8 725.7,657.8 736.7,608.1 747.7,614.0 758.7,581.9 769.7,565.5 780.7,596.5 791.7,628.6 802.7,650.8 813.7,673.0 824.7,697.5 835.7,703.4 846.7,726.7 857.7,732.6 868.7,703.4 879.7,687.6 890.7,691.1 901.8,686.4 912.8,675.3 923.8,685.2 934.8,643.2 945.8,611.1 956.8,621.0 967.8,650.8 978.8,668.3 989.8,657.2 1000.8,635.0 1011.8,644.9 1022.8,667.1 1033.8,680.0 1044.8,680.0 1055.8,668.9 1066.8,654.9 1077.8,636.8 1088.8,632.7 1099.8,628.0 1110.8,605.8 1121.9,607.0 1132.9,636.8 1143.9,677.1 1154.9,692.3 1165.9,703.4 1176.9,725.5 1187.9,681.2 1198.9,686.4 1209.9,670.1 1220.9,640.3 1231.9,653.1 1242.9,689.3 1253.9,709.2 1264.9,713.3 1275.9,697.5 1286.9,686.4 1297.9,680.0 1308.9,692.3 1319.9,705.7 1330.9,729.6 1342.0,737.8 1353.0,738.4 1364.0,727.3 1375.0,727.3 1386.0,727.3 1397.0,727.3 1408.0,727.3 1419.0,727.3 1430.0,727.3"/>
<polyline stroke="#0000ff" points="296.5,386.8 307.5,381.5 318.5,369.8 329.5,365.7 340.5,382.7 351.5,423.6 362.5,505.9 373.5,511.2 384.5,483.1 395.5,619.8 406.5,605.2 417.5,575.4 428.5,575.4 439.5,585.9 450.5,573.7 461.6,531.6 472.6,505.9 483.6,514.7 494.6,500.1 505.6,499.5 516.6,510.0 527.6,506.5 538.6,487.2 549.6,487.8 560.6,498.9 571.6,514.7 582.6,526.4 593.6,542.7 604.6,543.9 615.6,506.5 626.6,476.1 637.6,476.1 648.6,510.0 659.6,494.2 670.6,522.9 681.6,522.9 692.7,565.5 703.7,573.7 714.7,652.5 725.7,488.4 736.7,505.9 747.7,627.4 758.7,616.3 769.7,534.5 780.7,488.4 791.7,545.6 802.7,512.4 813.7,615.7 824.7,537.5 835.7,483.1 846.7,637.4 857.7,564.3 868.7,535.1 879.7,539.8 890.7,772.9 901.8,539.8 912.8,483.1 923.8,607.6 934.8,703.4 945.8,635.0 956.8,657.2 967.8,470.3 978.8,574.9 989.8,570.2 1000.8,667.1 1011.8,640.9 1022.8,674.1 1033.8,652.0 1044.8,670.1 1055.8,517.0 1066.8,505.3 1077.8,511.2 1088.8,629.2 1099.8,657.2 1110.8,590.6 1121.9,615.7 1132.9,549.2 1143.9,487.8 1154.9,482.0 1165.9,521.7 1176.9,677.1 1187.9,493.7 1198.9,459.8 1209.9,626.8 1220.9,565.5 1231.9,686.4 1242.9,680.6 1253.9,707.4 1264.9,719.7 1275.9,705.7 1286.9,464.5 1297.9,550.9 1308.9,470.3 1319.9,762.3 1330.9,646.1 1342.0,802.7 1353.0,681.2 1364.0,686.4 1375.0,732.0 1386.0,534.5 1397.0,679.4 1408.0,593.5 1419.0,772.3 1430.0,739.0"/>
<polyline stroke="#00ff00" points="296.5,386.8 307.5,388.5 318.5,395.5 329.5,400.2 340.5,451.0 351.5,464.5 362.5,493.7 373.5,509.4 384.5,539.8 395.5,630.3 406.5,601.7 417.5,529.3 428.5,505.9 439.5,534.5 450.5,550.3 461.6,518.8 472.6,527.0 483.6,522.3 494.6,488.4 505.6,498.9 516.6,505.3 527.6,505.3 538.6,488.4 549.6,504.2 560.6,501.3 571.6,514.7 582.6,526.4 593.6,545.6 604.6,545.6 615.6,511.8 626.6,486.7 637.6,517.0 648.6,537.5 659.6,558.5 670.6,553.2 681.6,525.8 692.7,566.7 703.7,587.1 714.7,660.1 725.7,608.1 736.7,589.5 747.7,616.3 758.7,611.1 769.7,621.0 780.7,639.7 791.7,639.7 802.7,635.0 813.7,630.9 824.7,639.7 835.7,663.1 846.7,650.8 857.7,657.2 868.7,639.1 879.7,561.4 890.7,592.4 901.8,644.9 912.8,639.7 923.8,612.8 934.8,628.0 945.8,605.8 956.8,622.7 967.8,629.2 978.8,640.9 989.8,650.8 1000.8,673.0 1011.8,658.4 1022.8,680.0 1033.8,665.4 1044.8,680.0 1055.8,665.4 1066.8,653.1 1077.8,635.0 1088.8,622.7 1099.8,639.1 1110.8,616.9 1121.9,612.8 1132.9,622.7 1143.9,663.1 1154.9,668.3 1165.9,663.1 1176.9,703.4 1187.9,669.5 1198.9,663.1 1209.9,639.1 1220.9,596.5 1231.9,649.0 1242.9,693.4 1253.9,713.3 1264.9,726.7 1275.9,701.6 1286.9,692.3 1297.9,692.3 1308.9,718.5 1319.9,727.3 1330.9,727.3 1342.0,727.3 1353.0,681.2 1364.0,692.3 1375.0,692.3 1386.0,720.9 1397.0,681.2 1408.0,696.9 1419.0,790.4 1430.0,743.1"/>
<polyline stroke="#ffff00" points="197.4,511.2 208.4,532.2 219.4,633.8"/>
<polyline stroke="#ffff00" points="241.5,462.1 252.5,406.0 263.5,400.2"/>
<polyline stroke="#ffff00" points="296.5,386.8 307.5,440.5 318.5,435.3 329.5,377.4 340.5,448.7 351.5,476.1 362.5,517.0 373.5,471.5 384.5,524.0 395.5,632.1 406.5,594.7 417.5,488.4 428.5,515.3 439.5,522.3 450.5,555.6 461.6,511.8 472.6,533.4 483.6,511.8 494.6,510.6 505.6,505.9 516.6,522.3 527.6,522.3 538.6,505.9 549.6,509.4 560.6,511.8 571.6,514.7 582.6,522.3 593.6,545.1 604.6,535.7 615.6,525.2 626.6,486.7 637.6,535.7 648.6,564.3 659.6,570.2 670.6,580.1 681.6,522.9 692.7,578.9 703.7,571.3 714.7,663.6 725.7,610.5 736.7,606.4 747.7,617.5 758.7,605.2 769.7,605.8 780.7,616.9 791.7,633.8 802.7,639.7 813.7,622.7 824.7,635.0 835.7,646.1 846.7,639.7 857.7,639.7 868.7,632.7 879.7,539.2 890.7,616.9 901.8,639.1 912.8,628.0 923.8,605.8 934.8,650.8 945.8,650.8 956.8,650.8 967.8,622.7 978.8,650.8 989.8,650.8 1000.8,665.4 1011.8,646.1 1022.8,646.1 1033.8,659.0 1044.8,675.3 1055.8,663.1 1066.8,663.1 1077.8,650.8 1088.8,635.0 1099.8,640.9 1110.8,657.2 1121.9,605.8 1132.9,654.9 1143.9,680.0 1154.9,668.9 1165.9,657.2 1176.9,680.0 1187.9,680.0 1198.9,670.1 1209.9,669.5 1220.9,594.7 1231.9,644.9 1242.9,689.3 1253.9,697.5 1264.9,697.5 1275.9,703.4 1286.9,675.3 1297.9,686.4 1308.9,702.8 1319.9,714.5 1330.9,703.9 1342.0,703.9 1353.0,678.8 1364.0,675.3 1375.0,702.8 1386.0,725.0 1397.0,705.1 1408.0,729.6 1419.0,775.8 1430.0,745.4"/>
<polyline stroke="#ff00ff" points="296.5,386.8 307.5,376.8 318.5,388.5 329.5,389.7 340.5,394.4 351.5,423.6 362.5,504.2 373.5,527.5 384.5,522.9 395.5,626.8 406.5,600.0 417.5,575.4 428.5,570.2 439.5,582.4 450.5,568.4 461.6,535.7 472.6,511.8 483.6,539.8 494.6,552.1 505.6,552.1 516.6,522.3 527.6,483.7 538.6,471.5 549.6,489.6 560.6,510.6 571.6,515.9 582.6,528.1 593.6,545.6 604.6,541.0 615.6,501.3 626.6,482.6 637.6,510.6 648.6,556.7 659.6,553.2 670.6,541.6 681.6,546.8 692.7,571.3 703.7,610.5 714.7,622.7 725.7,597.0 736.7,571.3 747.7,609.3 758.7,589.5 769.7,570.2 780.7,570.2 791.7,593.5 802.7,610.5 813.7,610.5 824.7,605.8 835.7,632.7 846.7,622.7 857.7,616.9 868.7,628.6 879.7,639.1 890.7,639.7 901.8,625.1 912.8,600.6 923.8,661.9 934.8,650.8 945.8,630.9 956.8,608.7 967.8,598.8 978.8,604.6 989.8,630.9 1000.8,657.2 1011.8,652.0 1022.8,661.3 1033.8,668.3 1044.8,646.1 1055.8,604.6 1066.8,588.9 1077.8,610.5 1088.8,636.8 1099.8,593.5 1110.8,593.5 1121.9,599.4 1132.9,599.4 1143.9,576.6 1154.9,570.2 1165.9,616.9 1176.9,691.1 1187.9,628.6 1198.9,622.7 1209.9,622.7 1220.9,628.6 1231.9,644.9 1242.9,673.0 1253.9,697.5 1264.9,713.3 1275.9,683.5 1286.9,647.3 1297.9,622.7 1308.9,650.2 1319.9,685.2 1330.9,702.8 1342.0,726.1 1353.0,739.0 1364.0,726.1 1375.0,702.8 1386.0,670.6 1397.0,647.3 1408.0,682.3 1419.0,720.3 1430.0,739.0"/>
<polyline stroke="#00ffff" points="142.4,511.2 153.4,581.3 164.4,651.4 175.4,578.4 186.4,505.3 197.4,511.2 208.4,539.2 219.4,633.8 230.4,546.2 241.5,462.1 252.5,410.7 263.5,400.2 274.5,411.9 285.5,406.0 296.5,386.8 307.5,381.5 318.5,381.5 329.5,386.8 340.5,402.5 351.5,430.0 362.5,500.7 373.5,529.3 384.5,552.1 395.5,646.1 406.5,607.0 417.5,562.6 428.5,557.3 439.5,575.4 450.5,569.0 461.6,522.3 472.6,493.1 483.6,482.6 494.6,508.3 505.6,533.4 516.6,522.3 527.6,486.7 538.6,476.1 549.6,490.7 560.6,527.5 571.6,506.5 582.6,528.1 593.6,545.6 604.6,535.7 615.6,506.5 626.6,494.8 637.6,510.6 648.6,528.7 659.6,571.3 670.6,582.4 681.6,582.4 692.7,582.4 703.7,611.1 714.7,639.7 725.7,629.8 736.7,600.6 747.7,621.0 758.7,607.0 769.7,593.5 780.7,600.0 791.7,622.7 802.7,654.9 813.7,681.2 824.7,695.2 835.7,708.6 846.7,697.5 857.7,691.1 868.7,686.4 879.7,686.4 890.7,686.4 901.8,675.3 912.8,663.1 923.8,680.0 934.8,661.3 945.8,644.9 956.8,628.0 967.8,628.0 978.8,639.1 989.8,653.1 1000.8,669.5 1011.8,623.3 1022.8,657.2 1033.8,674.1 1044.8,657.8 1055.8,652.0 1066.8,652.0 1077.8,646.1 1088.8,629.2 1099.8,635.0 1110.8,588.9 1121.9,600.6 1132.9,632.7 1143.9,646.1 1154.9,698.1 1165.9,743.7 1176.9,715.6 1187.9,675.3 1198.9,675.3 1209.9,657.2 1220.9,635.0 1231.9,646.1 1242.9,675.3 1253.9,714.5 1264.9,714.5 1275.9,686.4 1286.9,686.4 1297.9,692.3 1308.9,696.9 1319.9,705.7 1330.9,715.6 1342.0,725.5 1353.0,733.1 1364.0,727.3 1375.0,727.3 1386.0,727.3 1397.0,727.3 1408.0,727.3 1419.0,727.3 1430.0,727.3"/>
</g>
<g stroke="#262626" stroke-width="1.3" fill="none">
<path d="M131.4,14.7 V832.4 H1452.0"/>
<path d="M131.4,832.4 h13"/>
<path d="M131.4,715.6 h13"/>
<path d="M131.4,598.8 h13"/>
<path d="M131.4,482.0 h13"/>
<path d="M131.4,365.2 h13"/>
<path d="M131.4,248.3 h13"/>
<path d="M131.4,131.5 h13"/>
<path d="M131.4,14.7 h13"/>
<path d="M131.4,832.4 v-13"/>
<path d="M351.5,832.4 v-13"/>
<path d="M571.6,832.4 v-13"/>
<path d="M791.7,832.4 v-13"/>
<path d="M1011.8,832.4 v-13"/>
<path d="M1231.9,832.4 v-13"/>
<path d="M1452.0,832.4 v-13"/>
</g>
<g fill="#262626" font-size="34" font-family="'Liberation Sans', sans-serif">
<text transform="translate(117.9,847.6) scale(1.03,1.05)" text-anchor="end">60</text>
<text transform="translate(117.9,730.8) scale(1.03,1.05)" text-anchor="end">80</text>
<text transform="translate(117.9,614.0) scale(1.03,1.05)" text-anchor="end">100</text>
<text transform="translate(117.9,497.2) scale(1.03,1.05)" text-anchor="end">120</text>
<text transform="translate(117.9,380.4) scale(1.03,1.05)" text-anchor="end">140</text>
<text transform="translate(117.9,263.5) scale(1.03,1.05)" text-anchor="end">160</text>
<text transform="translate(117.9,146.7) scale(1.03,1.05)" text-anchor="end">180</text>
<text transform="translate(117.9,29.9) scale(1.03,1.05)" text-anchor="end">200</text>
<text transform="translate(131.4,880.6) scale(1.03,1.06)" text-anchor="middle">0</text>
<text transform="translate(351.5,880.6) scale(1.03,1.06)" text-anchor="middle">20</text>
<text transform="translate(571.6,880.6) scale(1.03,1.06)" text-anchor="middle">40</text>
<text transform="translate(791.7,880.6) scale(1.03,1.06)" text-anchor="middle">60</text>
<text transform="translate(1011.8,880.6) scale(1.03,1.06)" text-anchor="middle">80</text>
<text transform="translate(1231.9,880.6) scale(1.03,1.06)" text-anchor="middle">100</text>
<text transform="translate(1452.0,880.6) scale(1.03,1.06)" text-anchor="middle">120</text>
</g>
<text x="649" y="922.2" font-size="50" fill="#000" stroke="#fff" stroke-width="1.1" font-family="'Liberation Sans', sans-serif" textLength="238" lengthAdjust="spacingAndGlyphs">Pixel offset</text>
<text transform="translate(40,573) rotate(-90)" font-size="50" fill="#000" stroke="#fff" stroke-width="1.1" font-family="'Liberation Sans', sans-serif" textLength="188" lengthAdjust="spacingAndGlyphs">Intensity</text>
<g stroke-width="1.9">
<path stroke="#ff0000" d="M154,38.7 H203"/>
<path stroke="#0000ff" d="M154,84 H203"/>
<path stroke="#00ff00" d="M154,130.7 H203"/>
<path stroke="#ffff00" d="M154,176 H203"/>
<path stroke="#ff00ff" d="M154,222.7 H203"/>
<path stroke="#00ffff" d="M154,268 H203"/>
</g>
<g fill="#000" font-size="38.6" font-family="'Liberation Sans', sans-serif">
<text x="207" y="52">GT</text>
<text x="207" y="97.5">segment</text>
<text x="207" y="144">ns</text>
<text x="207" y="189.5">telea</text>
<text x="207" y="236">P-conv</text>
<text x="207" y="281.5">PatNet</text>
</g>
<rect x="637.7" y="539" width="662" height="245.7" fill="none" stroke="#505050" stroke-width="2.3"/>
<path d="M1018.6,538.4 L962,418" stroke="#000" stroke-width="1.6" fill="none"/>
<path d="M956.8,406.5 L974,422.3 L964,419.5 L958.2,429.1 Z" fill="#000"/>
<rect x="468.8" y="26.0" width="957.5" height="355.3" fill="#fff"/>
<clipPath id="ic"><rect x="467.8" y="25.5" width="960.5" height="356.8"/></clipPath>
<g fill="none" stroke-width="3.2" stroke-linejoin="round" clip-path="url(#ic)">
<polyline stroke="#ff0000" points="446.6,-54.3 462.7,1.2 478.8,31.5 494.8,71.9 510.8,96.3 526.9,89.5 542.9,73.6 559.0,133.3 575.0,206.4 591.1,196.3 607.1,124.9 623.2,133.3 639.2,87.0 655.3,63.5 671.4,108.0 687.4,154.3 703.5,186.2 719.5,218.2 735.5,253.5 751.6,261.9 767.6,295.6 783.7,304.0 799.8,261.9 815.8,239.2 831.8,244.3 847.9,237.6 864.0,221.6 880.0,235.9 896.0,175.3 912.1,129.1 928.1,143.4 944.2,186.2 960.2,211.5 976.3,195.5 992.4,163.5 1008.4,177.8 1024.5,209.8 1040.5,228.3 1056.5,228.3 1072.6,212.3 1088.7,192.1 1104.7,166.1 1120.8,160.2 1136.8,153.4 1152.8,121.5 1168.9,123.2 1185.0,166.1 1201.0,224.1 1217.0,246.0 1233.1,261.9 1249.2,293.9 1265.2,230.0 1281.2,237.6 1297.3,214.0 1313.3,171.1 1329.4,189.6 1345.5,241.8 1361.5,270.3 1377.6,276.2 1393.6,253.5 1409.7,237.6 1425.7,228.3 1441.8,246.0"/>
<polyline stroke="#0000ff" points="446.6,-65.2 462.7,-65.2 478.8,-16.4 494.8,-39.1 510.8,2.1 526.9,2.1 542.9,63.5 559.0,75.2 575.0,188.8 591.1,-47.5 607.1,-22.3 623.2,152.6 639.2,136.6 655.3,18.9 671.4,-47.5 687.4,34.9 703.5,-13.1 719.5,135.8 735.5,23.1 751.6,-55.1 767.6,166.9 783.7,61.8 799.8,19.7 815.8,26.5 831.8,362.0 847.9,26.5 864.0,-55.1 880.0,124.0 896.0,261.9 912.1,163.5 928.1,195.5 944.2,-73.6 960.2,76.9 976.3,70.2 992.4,209.8 1008.4,172.0 1024.5,219.9 1040.5,187.9 1056.5,214.0 1072.6,-6.3 1088.7,-23.2 1104.7,-14.8 1120.8,155.1 1136.8,195.5 1152.8,99.6 1168.9,135.8 1185.0,39.9 1201.0,-48.4 1217.0,-56.8 1233.1,0.4 1249.2,224.1 1265.2,-40.0 1281.2,-88.8 1297.3,151.8 1313.3,63.5 1329.4,237.6 1345.5,229.1 1361.5,267.8 1377.6,285.5 1393.6,265.3 1409.7,-82.0 1425.7,42.4 1441.8,-73.6"/>
<polyline stroke="#00ff00" points="446.6,-50.1 462.7,-6.3 478.8,23.1 494.8,53.4 510.8,45.8 526.9,6.3 542.9,65.1 559.0,94.6 575.0,199.7 591.1,124.9 607.1,97.9 623.2,136.6 639.2,129.1 655.3,143.4 671.4,170.3 687.4,170.3 703.5,163.5 719.5,157.7 735.5,170.3 751.6,203.9 767.6,186.2 783.7,195.5 799.8,169.4 815.8,57.6 831.8,102.1 847.9,177.8 864.0,170.3 880.0,131.6 896.0,153.4 912.1,121.5 928.1,145.9 944.2,155.1 960.2,172.0 976.3,186.2 992.4,218.2 1008.4,197.2 1024.5,228.3 1040.5,207.3 1056.5,228.3 1072.6,207.3 1088.7,189.6 1104.7,163.5 1120.8,145.9 1136.8,169.4 1152.8,137.5 1168.9,131.6 1185.0,145.9 1201.0,203.9 1217.0,211.5 1233.1,203.9 1249.2,261.9 1265.2,213.2 1281.2,203.9 1297.3,169.4 1313.3,108.0 1329.4,183.7 1345.5,247.6 1361.5,276.2 1377.6,295.6 1393.6,259.4 1409.7,246.0 1425.7,246.0 1441.8,283.8"/>
<polyline stroke="#ffff00" points="446.6,-50.1 462.7,20.6 478.8,61.8 494.8,70.2 510.8,84.5 526.9,2.1 542.9,82.8 559.0,71.9 575.0,204.8 591.1,128.2 607.1,122.3 623.2,138.3 639.2,120.7 655.3,121.5 671.4,137.5 687.4,161.9 703.5,170.3 719.5,145.9 735.5,163.5 751.6,179.5 767.6,170.3 783.7,170.3 799.8,160.2 815.8,25.6 831.8,137.5 847.9,169.4 864.0,153.4 880.0,121.5 896.0,186.2 912.1,186.2 928.1,186.2 944.2,145.9 960.2,186.2 976.3,186.2 992.4,207.3 1008.4,179.5 1024.5,179.5 1040.5,198.0 1056.5,221.6 1072.6,203.9 1088.7,203.9 1104.7,186.2 1120.8,163.5 1136.8,172.0 1152.8,195.5 1168.9,121.5 1185.0,192.1 1201.0,228.3 1217.0,212.3 1233.1,195.5 1249.2,228.3 1265.2,228.3 1281.2,214.0 1297.3,213.2 1313.3,105.5 1329.4,177.8 1345.5,241.8 1361.5,253.5 1377.6,253.5 1393.6,261.9 1409.7,221.6 1425.7,237.6 1441.8,261.1"/>
<polyline stroke="#ff00ff" points="446.6,-56.0 462.7,-15.6 478.8,50.8 494.8,45.8 510.8,29.0 526.9,36.6 542.9,71.9 559.0,128.2 575.0,145.9 591.1,108.9 607.1,71.9 623.2,126.5 639.2,97.9 655.3,70.2 671.4,70.2 687.4,103.8 703.5,128.2 719.5,128.2 735.5,121.5 751.6,160.2 767.6,145.9 783.7,137.5 799.8,154.3 815.8,169.4 831.8,170.3 847.9,149.2 864.0,113.9 880.0,202.2 896.0,186.2 912.1,157.7 928.1,125.7 944.2,111.4 960.2,119.8 976.3,157.7 992.4,195.5 1008.4,187.9 1024.5,201.4 1040.5,211.5 1056.5,179.5 1072.6,119.8 1088.7,97.1 1104.7,128.2 1120.8,166.1 1136.8,103.8 1152.8,103.8 1168.9,112.2 1185.0,112.2 1201.0,79.4 1217.0,70.2 1233.1,137.5 1249.2,244.3 1265.2,154.3 1281.2,145.9 1297.3,145.9 1313.3,154.3 1329.4,177.8 1345.5,218.2 1361.5,253.5 1377.6,276.2 1393.6,233.3 1409.7,181.2 1425.7,145.9 1441.8,185.4"/>
<polyline stroke="#00ffff" points="446.6,-38.3 462.7,-15.6 478.8,10.5 494.8,71.9 510.8,87.9 526.9,87.9 542.9,87.9 559.0,129.1 575.0,170.3 591.1,156.0 607.1,113.9 623.2,143.4 639.2,123.2 655.3,103.8 671.4,113.1 687.4,145.9 703.5,192.1 719.5,230.0 735.5,250.2 751.6,269.5 767.6,253.5 783.7,244.3 799.8,237.6 815.8,237.6 831.8,237.6 847.9,221.6 864.0,203.9 880.0,228.3 896.0,201.4 912.1,177.8 928.1,153.4 944.2,153.4 960.2,169.4 976.3,189.6 992.4,213.2 1008.4,146.7 1024.5,195.5 1040.5,219.9 1056.5,196.3 1072.6,187.9 1088.7,187.9 1104.7,179.5 1120.8,155.1 1136.8,163.5 1152.8,97.1 1168.9,113.9 1185.0,160.2 1201.0,179.5 1217.0,254.4 1233.1,320.0 1249.2,279.6 1265.2,221.6 1281.2,221.6 1297.3,195.5 1313.3,163.5 1329.4,179.5 1345.5,221.6 1361.5,277.9 1377.6,277.9 1393.6,237.6 1409.7,237.6 1425.7,246.0 1441.8,252.7"/>
</g>
<g stroke="#262626" stroke-width="1.3" fill="none">
<rect x="468.8" y="26.0" width="957.5" height="355.3"/>
<path d="M468.8,363.7 h9 M1426.3,363.7 h-9"/>
<path d="M468.8,279.6 h9 M1426.3,279.6 h-9"/>
<path d="M468.8,195.5 h9 M1426.3,195.5 h-9"/>
<path d="M468.8,111.4 h9 M1426.3,111.4 h-9"/>
<path d="M468.8,27.3 h9 M1426.3,27.3 h-9"/>
<path d="M526.9,381.3 v-9 M526.9,26.0 v9"/>
<path d="M687.4,381.3 v-9 M687.4,26.0 v9"/>
<path d="M847.9,381.3 v-9 M847.9,26.0 v9"/>
<path d="M1008.4,381.3 v-9 M1008.4,26.0 v9"/>
<path d="M1168.9,381.3 v-9 M1168.9,26.0 v9"/>
<path d="M1329.4,381.3 v-9 M1329.4,26.0 v9"/>
</g>
<g fill="#262626" font-size="34" font-family="'Liberation Sans', sans-serif">
<text transform="translate(455,378.3) scale(1.03,1.07)" text-anchor="end">70</text>
<text transform="translate(455,294.2) scale(1.03,1.07)" text-anchor="end">80</text>
<text transform="translate(455,210.1) scale(1.03,1.07)" text-anchor="end">90</text>
<text transform="translate(455,126.0) scale(1.03,1.07)" text-anchor="end">100</text>
<text transform="translate(455,43.9) scale(1.03,1.07)" text-anchor="end">110</text>
<text transform="translate(526.9,430.2) scale(1.03,1.07)" text-anchor="middle">50</text>
<text transform="translate(687.4,430.2) scale(1.03,1.07)" text-anchor="middle">60</text>
<text transform="translate(847.9,430.2) scale(1.03,1.07)" text-anchor="middle">70</text>
<text transform="translate(1008.4,430.2) scale(1.03,1.07)" text-anchor="middle">80</text>
<text transform="translate(1168.9,430.2) scale(1.03,1.07)" text-anchor="middle">90</text>
<text transform="translate(1329.4,430.2) scale(1.03,1.07)" text-anchor="middle">100</text>
</g>
<g transform="translate(3,934)"><use href="#tissue"/><g clip-path="url(#tc)"></g></g>
<path d="M125,1058 H240" stroke="#ff0000" stroke-width="5" stroke-linecap="round"/>
<g transform="translate(253,934)"><use href="#tissue"/><g clip-path="url(#tc)"><g filter="url(#gb3)"><path d="M194,-5 L250,-5 L250,40 L212,44 Z" fill="#7e7666" opacity="0.85"/></g><rect x="240.4" y="43.8" width="1.6" height="5.1" fill="#767262" opacity="0.56"/><rect x="237.8" y="21.9" width="1.5" height="9.6" fill="#7a7666" opacity="0.66"/><rect x="195.1" y="21.0" width="1.4" height="5.8" fill="#7c786a" opacity="0.67"/><rect x="222.0" y="18.9" width="1.5" height="6.6" fill="#7a7666" opacity="0.56"/><rect x="222.9" y="29.6" width="1.5" height="5.3" fill="#827a6a" opacity="0.78"/><rect x="207.2" y="19.6" width="2.0" height="7.3" fill="#767262" opacity="0.81"/><rect x="198.3" y="4.1" width="1.4" height="12.6" fill="#7e7666" opacity="0.67"/><rect x="232.5" y="46.4" width="1.3" height="5.9" fill="#767262" opacity="0.61"/><rect x="225.1" y="34.7" width="0.9" height="4.7" fill="#827a6a" opacity="0.86"/><rect x="233.6" y="24.3" width="1.6" height="4.8" fill="#7a7666" opacity="0.79"/><rect x="190.7" y="1.6" width="1.8" height="3.1" fill="#827a6a" opacity="0.73"/><rect x="231.9" y="31.1" width="1.8" height="7.9" fill="#7c786a" opacity="0.82"/><rect x="193.9" y="7.9" width="1.9" height="11.7" fill="#7a7666" opacity="0.81"/><rect x="235.8" y="6.4" width="2.0" height="7.9" fill="#7a7666" opacity="0.86"/><rect x="217.1" y="33.2" width="1.3" height="3.7" fill="#827a6a" opacity="0.71"/><rect x="204.6" y="12.5" width="1.1" height="10.5" fill="#7a7666" opacity="0.63"/><rect x="241.8" y="43.1" width="1.1" height="4.2" fill="#827a6a" opacity="0.63"/><rect x="196.0" y="0.6" width="1.2" height="13.7" fill="#767262" opacity="0.85"/><rect x="231.5" y="10.8" width="1.4" height="9.3" fill="#827a6a" opacity="0.71"/><rect x="204.0" y="0.8" width="1.1" height="9.5" fill="#7a7666" opacity="0.64"/><rect x="208.5" y="2.4" width="1.8" height="12.8" fill="#7a7666" opacity="0.73"/><rect x="194.3" y="5.4" width="1.1" height="10.3" fill="#7e7666" opacity="0.70"/><rect x="224.7" y="16.3" width="1.7" height="10.4" fill="#86806e" opacity="0.77"/><rect x="217.6" y="13.8" width="1.1" height="8.0" fill="#827a6a" opacity="0.80"/><rect x="211.9" y="13.7" width="1.1" height="7.8" fill="#7e7666" opacity="0.63"/><rect x="235.6" y="20.4" width="1.6" height="6.8" fill="#7e7666" opacity="0.64"/><rect x="229.5" y="20.1" width="1.8" height="13.5" fill="#7c786a" opacity="0.87"/><rect x="211.8" y="12.7" width="0.9" height="7.5" fill="#7c786a" opacity="0.88"/><rect x="221.9" y="1.6" width="1.5" height="11.9" fill="#827a6a" opacity="0.76"/><rect x="221.6" y="21.6" width="1.0" height="3.9" fill="#7c786a" opacity="0.80"/><rect x="209.8" y="11.8" width="1.0" height="10.8" fill="#7a7666" opacity="0.67"/><rect x="241.2" y="33.4" width="1.7" height="8.8" fill="#86806e" opacity="0.60"/><rect x="223.3" y="40.8" width="1.8" height="9.5" fill="#767262" opacity="0.59"/><rect x="238.6" y="34.6" width="2.2" height="12.9" fill="#86806e" opacity="0.72"/><rect x="239.2" y="15.1" width="1.1" height="9.5" fill="#7c786a" opacity="0.87"/><rect x="193.3" y="5.1" width="1.6" height="8.3" fill="#7e7666" opacity="0.70"/><rect x="220.6" y="4.0" width="1.6" height="12.6" fill="#827a6a" opacity="0.69"/><rect x="202.4" y="25.6" width="1.0" height="3.7" fill="#7e7666" opacity="0.65"/><rect x="208.1" y="24.9" width="1.1" height="11.0" fill="#7a7666" opacity="0.83"/><rect x="225.7" y="28.3" width="2.0" height="10.8" fill="#86806e" opacity="0.55"/><rect x="212.7" y="8.7" width="1.2" height="12.9" fill="#7a7666" opacity="0.76"/><rect x="196.9" y="12.5" width="1.5" height="8.4" fill="#7e7666" opacity="0.81"/><rect x="198.8" y="23.2" width="1.1" height="11.6" fill="#7e7666" opacity="0.81"/><rect x="232.6" y="34.0" width="1.3" height="5.8" fill="#86806e" opacity="0.76"/><rect x="211.7" y="40.7" width="1.9" height="12.9" fill="#827a6a" opacity="0.85"/><rect x="191.2" y="29.6" width="0.9" height="10.4" fill="#827a6a" opacity="0.71"/><rect x="207.5" y="15.5" width="2.2" height="12.4" fill="#7a7666" opacity="0.54"/><rect x="233.6" y="39.5" width="1.0" height="13.8" fill="#7a7666" opacity="0.69"/><rect x="210.7" y="16.4" width="1.7" height="11.2" fill="#86806e" opacity="0.62"/><rect x="193.8" y="7.2" width="1.6" height="12.4" fill="#86806e" opacity="0.72"/><rect x="234.0" y="2.2" width="2.1" height="7.6" fill="#7c786a" opacity="0.58"/><rect x="213.5" y="20.3" width="1.8" height="11.3" fill="#827a6a" opacity="0.76"/><rect x="199.8" y="5.9" width="1.0" height="13.4" fill="#767262" opacity="0.81"/><rect x="213.3" y="45.0" width="1.3" height="9.8" fill="#7e7666" opacity="0.86"/><rect x="233.0" y="7.2" width="1.4" height="12.0" fill="#7e7666" opacity="0.74"/><rect x="242.9" y="23.9" width="1.1" height="11.3" fill="#767262" opacity="0.81"/><rect x="189.1" y="32.2" width="1.9" height="13.0" fill="#7c786a" opacity="0.58"/><rect x="195.0" y="5.6" width="1.0" height="12.0" fill="#86806e" opacity="0.64"/><rect x="241.3" y="24.1" width="1.6" height="12.7" fill="#86806e" opacity="0.79"/><rect x="196.7" y="23.0" width="1.1" height="3.6" fill="#7c786a" opacity="0.59"/><rect x="193.9" y="7.4" width="1.5" height="6.4" fill="#767262" opacity="0.71"/><rect x="236.6" y="26.5" width="0.9" height="6.9" fill="#7a7666" opacity="0.78"/><rect x="194.8" y="10.8" width="0.8" height="6.5" fill="#86806e" opacity="0.60"/><rect x="199.8" y="37.5" width="1.8" height="13.0" fill="#827a6a" opacity="0.59"/><rect x="238.5" y="39.8" width="2.1" height="6.7" fill="#767262" opacity="0.65"/><rect x="202.1" y="44.0" width="1.6" height="6.2" fill="#7a7666" opacity="0.78"/><rect x="207.5" y="22.8" width="1.0" height="13.8" fill="#7a7666" opacity="0.63"/><rect x="197.9" y="4.5" width="1.4" height="13.2" fill="#767262" opacity="0.86"/><rect x="229.7" y="14.0" width="1.9" height="7.4" fill="#7c786a" opacity="0.59"/><rect x="238.0" y="28.5" width="1.6" height="7.5" fill="#7c786a" opacity="0.57"/><rect x="217.7" y="29.7" width="1.0" height="11.7" fill="#827a6a" opacity="0.82"/><rect x="206.8" y="34.6" width="1.0" height="3.6" fill="#7a7666" opacity="0.83"/><rect x="215.8" y="30.7" width="1.7" height="12.2" fill="#7a7666" opacity="0.83"/><rect x="229.2" y="29.1" width="1.0" height="8.5" fill="#7a7666" opacity="0.65"/><rect x="223.8" y="17.1" width="1.4" height="3.8" fill="#7e7666" opacity="0.79"/><rect x="190.1" y="16.8" width="1.3" height="3.4" fill="#827a6a" opacity="0.89"/><rect x="212.7" y="13.2" width="0.9" height="11.7" fill="#827a6a" opacity="0.83"/><rect x="237.5" y="6.2" width="1.0" height="8.9" fill="#7c786a" opacity="0.64"/><rect x="235.6" y="6.5" width="1.9" height="9.4" fill="#86806e" opacity="0.76"/><rect x="223.4" y="26.9" width="2.1" height="9.7" fill="#827a6a" opacity="0.74"/><rect x="214.6" y="36.1" width="1.8" height="7.6" fill="#7a7666" opacity="0.70"/><rect x="242.8" y="9.2" width="0.9" height="6.4" fill="#827a6a" opacity="0.82"/><rect x="203.7" y="13.8" width="0.9" height="10.5" fill="#827a6a" opacity="0.59"/><rect x="226.2" y="25.0" width="0.8" height="5.4" fill="#827a6a" opacity="0.77"/><rect x="229.0" y="18.4" width="1.4" height="8.1" fill="#767262" opacity="0.68"/><rect x="189.9" y="4.8" width="2.1" height="11.0" fill="#827a6a" opacity="0.74"/><rect x="197.2" y="1.0" width="1.9" height="3.8" fill="#767262" opacity="0.60"/><rect x="238.1" y="26.2" width="0.9" height="11.7" fill="#7a7666" opacity="0.81"/><rect x="212.0" y="38.4" width="1.9" height="13.6" fill="#827a6a" opacity="0.66"/><rect x="194.8" y="32.5" width="2.2" height="13.5" fill="#86806e" opacity="0.77"/><rect x="188.3" y="41.0" width="1.8" height="12.4" fill="#86806e" opacity="0.61"/><rect x="189.1" y="1.4" width="2.2" height="11.1" fill="#7a7666" opacity="0.69"/><rect x="188.5" y="24.0" width="1.5" height="12.2" fill="#7a7666" opacity="0.61"/><rect x="210.2" y="17.6" width="0.9" height="7.3" fill="#7c786a" opacity="0.76"/><rect x="228.9" y="22.5" width="1.9" height="12.5" fill="#767262" opacity="0.59"/><rect x="223.2" y="7.1" width="1.7" height="10.3" fill="#86806e" opacity="0.63"/><rect x="192.9" y="4.9" width="1.6" height="8.0" fill="#767262" opacity="0.61"/><rect x="215.6" y="37.8" width="1.1" height="5.5" fill="#86806e" opacity="0.76"/><rect x="205.1" y="22.6" width="0.8" height="6.4" fill="#7e7666" opacity="0.56"/><rect x="200.1" y="37.6" width="1.1" height="11.3" fill="#767262" opacity="0.58"/><rect x="233.7" y="33.6" width="2.0" height="12.6" fill="#7a7666" opacity="0.65"/><rect x="211.3" y="8.2" width="1.0" height="9.7" fill="#827a6a" opacity="0.76"/><rect x="192.8" y="3.0" width="1.9" height="12.3" fill="#7a7666" opacity="0.89"/><rect x="208.3" y="38.7" width="1.8" height="9.8" fill="#827a6a" opacity="0.77"/><rect x="236.4" y="5.7" width="1.7" height="11.5" fill="#7c786a" opacity="0.58"/><rect x="231.7" y="36.5" width="1.4" height="6.0" fill="#827a6a" opacity="0.81"/><rect x="218.5" y="31.9" width="1.8" height="11.9" fill="#7a7666" opacity="0.66"/><rect x="210.2" y="33.4" width="1.0" height="9.9" fill="#86806e" opacity="0.55"/><rect x="231.1" y="1.8" width="1.7" height="5.5" fill="#767262" opacity="0.71"/><rect x="192.3" y="20.9" width="1.6" height="9.0" fill="#827a6a" opacity="0.67"/><rect x="213.3" y="97.9" width="1.2" height="5.7" fill="#827a6a" opacity="0.83"/><rect x="208.2" y="79.7" width="2.1" height="5.0" fill="#7c786a" opacity="0.69"/><rect x="205.8" y="102.0" width="1.9" height="8.5" fill="#827a6a" opacity="0.60"/><rect x="239.8" y="108.9" width="1.9" height="3.4" fill="#7a7666" opacity="0.65"/><rect x="238.9" y="57.3" width="1.8" height="5.8" fill="#7e7666" opacity="0.76"/><rect x="215.8" y="93.1" width="1.0" height="11.7" fill="#827a6a" opacity="0.83"/><rect x="211.0" y="53.1" width="0.9" height="4.2" fill="#7c786a" opacity="0.84"/><rect x="201.6" y="133.5" width="0.8" height="12.7" fill="#827a6a" opacity="0.60"/><rect x="241.4" y="46.4" width="1.2" height="10.6" fill="#767262" opacity="0.78"/><rect x="206.6" y="125.4" width="2.1" height="7.5" fill="#7c786a" opacity="0.71"/><rect x="237.3" y="98.9" width="1.4" height="9.2" fill="#827a6a" opacity="0.74"/><rect x="219.4" y="50.9" width="2.2" height="7.5" fill="#827a6a" opacity="0.80"/><rect x="202.2" y="65.9" width="1.5" height="11.9" fill="#767262" opacity="0.62"/><rect x="224.6" y="86.3" width="2.0" height="10.7" fill="#7a7666" opacity="0.78"/><rect x="224.7" y="51.4" width="1.0" height="13.1" fill="#7a7666" opacity="0.72"/><rect x="226.6" y="134.7" width="2.1" height="9.1" fill="#7c786a" opacity="0.65"/><rect x="211.5" y="88.4" width="1.9" height="13.8" fill="#7e7666" opacity="0.69"/><rect x="212.4" y="111.2" width="1.5" height="5.6" fill="#7a7666" opacity="0.77"/><rect x="235.5" y="71.1" width="2.1" height="5.8" fill="#827a6a" opacity="0.75"/><rect x="234.1" y="88.5" width="2.2" height="12.2" fill="#7c786a" opacity="0.70"/><rect x="210.6" y="56.2" width="1.8" height="4.7" fill="#7c786a" opacity="0.73"/><rect x="242.4" y="112.5" width="1.5" height="8.3" fill="#86806e" opacity="0.76"/><rect x="203.2" y="46.7" width="1.4" height="13.2" fill="#7e7666" opacity="0.59"/><rect x="200.6" y="110.0" width="1.1" height="11.6" fill="#7a7666" opacity="0.53"/><rect x="209.2" y="94.9" width="1.7" height="13.6" fill="#767262" opacity="0.53"/><rect x="221.9" y="44.5" width="1.3" height="4.5" fill="#7a7666" opacity="0.79"/><rect x="219.0" y="104.9" width="2.2" height="12.2" fill="#7a7666" opacity="0.72"/><rect x="225.6" y="51.2" width="0.9" height="5.3" fill="#7a7666" opacity="0.69"/><rect x="206.9" y="118.5" width="1.2" height="9.0" fill="#827a6a" opacity="0.65"/><rect x="207.9" y="88.8" width="1.1" height="3.7" fill="#7c786a" opacity="0.72"/><rect x="212.2" y="113.1" width="1.5" height="12.7" fill="#7c786a" opacity="0.79"/><rect x="210.4" y="65.4" width="1.7" height="13.3" fill="#767262" opacity="0.69"/><rect x="231.7" y="87.1" width="1.5" height="5.2" fill="#767262" opacity="0.53"/><rect x="198.4" y="75.3" width="1.7" height="7.9" fill="#86806e" opacity="0.66"/><rect x="210.5" y="67.8" width="1.4" height="5.5" fill="#7e7666" opacity="0.72"/><rect x="233.9" y="127.9" width="1.3" height="5.3" fill="#767262" opacity="0.71"/><rect x="207.8" y="95.3" width="1.8" height="13.6" fill="#7e7666" opacity="0.82"/><rect x="233.3" y="120.7" width="1.5" height="8.3" fill="#86806e" opacity="0.72"/><rect x="242.9" y="89.3" width="1.0" height="3.5" fill="#827a6a" opacity="0.63"/><rect x="226.7" y="127.0" width="1.0" height="4.6" fill="#7a7666" opacity="0.68"/><rect x="228.9" y="101.5" width="1.1" height="7.8" fill="#767262" opacity="0.84"/><rect x="231.0" y="114.5" width="2.0" height="13.6" fill="#7c786a" opacity="0.84"/><rect x="234.9" y="83.7" width="1.7" height="8.0" fill="#86806e" opacity="0.82"/><rect x="223.3" y="83.8" width="1.8" height="4.1" fill="#86806e" opacity="0.83"/><rect x="212.3" y="83.5" width="2.1" height="5.1" fill="#827a6a" opacity="0.78"/><rect x="202.6" y="108.8" width="1.9" height="12.0" fill="#7e7666" opacity="0.76"/><rect x="204.1" y="78.4" width="0.9" height="10.9" fill="#86806e" opacity="0.77"/><rect x="201.5" y="109.2" width="2.1" height="3.7" fill="#7e7666" opacity="0.63"/><rect x="202.4" y="71.8" width="1.1" height="9.7" fill="#86806e" opacity="0.75"/><rect x="208.6" y="122.7" width="1.8" height="5.0" fill="#7c786a" opacity="0.75"/><rect x="217.1" y="41.1" width="1.5" height="5.0" fill="#7c786a" opacity="0.73"/><rect x="210.7" y="135.2" width="1.9" height="5.7" fill="#86806e" opacity="0.55"/><rect x="225.0" y="76.8" width="1.7" height="10.5" fill="#827a6a" opacity="0.60"/><rect x="222.5" y="84.0" width="1.1" height="5.2" fill="#7c786a" opacity="0.64"/><rect x="209.4" y="100.3" width="1.6" height="10.5" fill="#86806e" opacity="0.84"/><rect x="213.8" y="65.6" width="0.9" height="6.7" fill="#7c786a" opacity="0.65"/><rect x="225.7" y="112.7" width="1.8" height="6.2" fill="#7e7666" opacity="0.66"/><rect x="235.7" y="134.9" width="2.0" height="7.8" fill="#7e7666" opacity="0.62"/><rect x="213.7" y="118.2" width="1.2" height="9.7" fill="#767262" opacity="0.70"/><rect x="236.7" y="40.6" width="1.0" height="6.6" fill="#86806e" opacity="0.78"/><rect x="227.4" y="61.8" width="1.7" height="9.1" fill="#827a6a" opacity="0.52"/><rect x="228.4" y="100.9" width="1.2" height="6.4" fill="#86806e" opacity="0.56"/><rect x="211.2" y="98.5" width="1.2" height="9.0" fill="#7a7666" opacity="0.67"/><rect x="201.8" y="91.9" width="2.0" height="4.2" fill="#7e7666" opacity="0.53"/><rect x="198.8" y="55.0" width="1.3" height="7.1" fill="#86806e" opacity="0.81"/><rect x="206.4" y="131.1" width="1.7" height="7.3" fill="#7e7666" opacity="0.74"/><rect x="237.1" y="120.8" width="1.2" height="5.6" fill="#7c786a" opacity="0.61"/><rect x="237.6" y="107.0" width="1.8" height="12.0" fill="#7e7666" opacity="0.78"/><rect x="223.2" y="78.0" width="1.0" height="13.0" fill="#767262" opacity="0.79"/><rect x="226.3" y="130.5" width="1.9" height="6.7" fill="#827a6a" opacity="0.68"/><rect x="220.4" y="51.1" width="2.1" height="13.2" fill="#86806e" opacity="0.62"/><rect x="207.6" y="116.4" width="2.1" height="11.8" fill="#827a6a" opacity="0.68"/><rect x="229.9" y="89.6" width="1.9" height="8.8" fill="#86806e" opacity="0.85"/><rect x="235.1" y="119.5" width="1.9" height="8.5" fill="#86806e" opacity="0.84"/><rect x="208.6" y="115.0" width="1.1" height="7.1" fill="#767262" opacity="0.52"/><rect x="212.3" y="80.4" width="2.0" height="12.7" fill="#7e7666" opacity="0.63"/><rect x="205.5" y="92.4" width="0.9" height="13.4" fill="#827a6a" opacity="0.75"/><rect x="228.3" y="126.3" width="1.9" height="9.3" fill="#7e7666" opacity="0.76"/><rect x="208.6" y="59.2" width="1.0" height="5.1" fill="#86806e" opacity="0.72"/><rect x="200.9" y="43.7" width="1.8" height="12.1" fill="#767262" opacity="0.68"/><rect x="201.8" y="81.4" width="1.5" height="10.3" fill="#7e7666" opacity="0.68"/><rect x="230.7" y="123.2" width="1.7" height="13.0" fill="#7a7666" opacity="0.76"/><rect x="218.0" y="58.4" width="1.4" height="3.6" fill="#7c786a" opacity="0.72"/><rect x="242.1" y="123.2" width="1.1" height="9.5" fill="#827a6a" opacity="0.74"/><rect x="216.3" y="41.4" width="2.0" height="13.1" fill="#7c786a" opacity="0.77"/><rect x="214.7" y="134.1" width="0.9" height="3.7" fill="#7a7666" opacity="0.56"/><rect x="233.6" y="92.5" width="1.5" height="8.7" fill="#827a6a" opacity="0.62"/><rect x="198.1" y="109.9" width="1.5" height="6.9" fill="#86806e" opacity="0.63"/><rect x="225.1" y="130.8" width="2.2" height="7.7" fill="#827a6a" opacity="0.56"/><rect x="228.3" y="49.4" width="1.2" height="11.1" fill="#7e7666" opacity="0.78"/><rect x="227.1" y="124.1" width="1.9" height="8.0" fill="#827a6a" opacity="0.85"/><rect x="237.3" y="44.6" width="1.0" height="7.3" fill="#7e7666" opacity="0.77"/><rect x="223.4" y="79.9" width="1.6" height="10.0" fill="#7e7666" opacity="0.77"/><rect x="210.5" y="52.4" width="1.4" height="8.9" fill="#827a6a" opacity="0.67"/><rect x="223.5" y="131.7" width="2.1" height="8.4" fill="#7c786a" opacity="0.60"/><rect x="202.2" y="116.0" width="1.1" height="10.8" fill="#86806e" opacity="0.81"/><rect x="210.0" y="93.0" width="1.5" height="6.6" fill="#7a7666" opacity="0.83"/><rect x="220.4" y="116.0" width="1.3" height="6.2" fill="#7a7666" opacity="0.74"/><rect x="236.8" y="65.8" width="1.3" height="8.1" fill="#767262" opacity="0.74"/><rect x="233.7" y="49.4" width="2.2" height="12.4" fill="#86806e" opacity="0.83"/><rect x="210.6" y="122.3" width="1.2" height="6.6" fill="#767262" opacity="0.66"/><rect x="213.4" y="44.1" width="1.5" height="11.0" fill="#7c786a" opacity="0.57"/><rect x="215.8" y="122.2" width="2.0" height="13.6" fill="#767262" opacity="0.84"/><rect x="212.3" y="62.5" width="2.0" height="8.0" fill="#827a6a" opacity="0.65"/><rect x="215.1" y="72.1" width="1.1" height="4.0" fill="#767262" opacity="0.77"/><rect x="228.5" y="62.8" width="1.4" height="13.8" fill="#86806e" opacity="0.56"/><rect x="220.5" y="70.6" width="0.9" height="10.6" fill="#767262" opacity="0.69"/><rect x="198.9" y="63.5" width="1.2" height="6.2" fill="#827a6a" opacity="0.55"/><rect x="223.6" y="64.9" width="1.5" height="10.6" fill="#7c786a" opacity="0.70"/><rect x="198.2" y="111.2" width="2.0" height="10.3" fill="#7e7666" opacity="0.82"/><rect x="206.3" y="99.5" width="1.1" height="9.4" fill="#86806e" opacity="0.52"/><rect x="222.6" y="62.7" width="1.5" height="9.3" fill="#7e7666" opacity="0.65"/><rect x="208.7" y="76.2" width="1.1" height="10.5" fill="#7e7666" opacity="0.74"/><rect x="239.8" y="106.4" width="2.0" height="6.8" fill="#7c786a" opacity="0.83"/><rect x="231.5" y="123.6" width="1.7" height="3.5" fill="#86806e" opacity="0.78"/><rect x="217.2" y="45.4" width="1.8" height="11.3" fill="#7a7666" opacity="0.67"/><rect x="229.9" y="133.1" width="1.1" height="12.2" fill="#86806e" opacity="0.77"/><rect x="205.9" y="87.0" width="1.2" height="7.2" fill="#7a7666" opacity="0.70"/><rect x="241.0" y="67.7" width="0.9" height="12.4" fill="#7e7666" opacity="0.62"/><rect x="215.2" y="104.5" width="2.2" height="13.6" fill="#7a7666" opacity="0.54"/><rect x="224.1" y="124.0" width="1.8" height="13.2" fill="#767262" opacity="0.72"/><rect x="220.1" y="82.5" width="1.0" height="5.3" fill="#827a6a" opacity="0.81"/><rect x="230.3" y="80.4" width="1.4" height="4.1" fill="#7c786a" opacity="0.66"/><rect x="241.2" y="121.6" width="1.4" height="13.6" fill="#86806e" opacity="0.66"/><rect x="240.3" y="57.2" width="1.5" height="4.4" fill="#7e7666" opacity="0.53"/><rect x="226.6" y="81.5" width="1.8" height="4.2" fill="#7c786a" opacity="0.65"/><rect x="221.3" y="64.9" width="1.7" height="10.9" fill="#767262" opacity="0.64"/><rect x="215.9" y="104.1" width="1.6" height="7.5" fill="#7a7666" opacity="0.64"/><rect x="217.1" y="68.3" width="1.1" height="4.6" fill="#7e7666" opacity="0.59"/><rect x="226.6" y="89.6" width="1.5" height="13.7" fill="#7a7666" opacity="0.76"/><rect x="223.5" y="136.7" width="1.6" height="3.4" fill="#86806e" opacity="0.75"/><rect x="208.5" y="75.7" width="1.8" height="6.1" fill="#767262" opacity="0.52"/><rect x="214.6" y="115.9" width="1.7" height="9.4" fill="#7a7666" opacity="0.61"/><rect x="235.7" y="61.9" width="2.1" height="10.2" fill="#7a7666" opacity="0.66"/><rect x="202.6" y="130.5" width="1.1" height="10.1" fill="#7a7666" opacity="0.85"/><rect x="237.4" y="76.9" width="1.4" height="4.7" fill="#767262" opacity="0.79"/><rect x="199.5" y="47.7" width="1.1" height="6.0" fill="#7a7666" opacity="0.78"/><rect x="210.5" y="80.1" width="1.4" height="12.1" fill="#767262" opacity="0.81"/><rect x="243.1" y="132.2" width="0.8" height="8.3" fill="#827a6a" opacity="0.64"/><rect x="204.9" y="46.6" width="1.4" height="9.2" fill="#7e7666" opacity="0.52"/><rect x="232.1" y="102.1" width="1.9" height="9.0" fill="#767262" opacity="0.66"/><rect x="208.7" y="51.8" width="1.0" height="12.9" fill="#86806e" opacity="0.73"/><rect x="215.2" y="73.2" width="2.2" height="8.2" fill="#7a7666" opacity="0.75"/><rect x="225.6" y="118.8" width="1.4" height="8.9" fill="#767262" opacity="0.70"/><rect x="213.7" y="108.2" width="1.9" height="7.2" fill="#86806e" opacity="0.54"/><rect x="208.1" y="87.6" width="2.2" height="4.9" fill="#767262" opacity="0.63"/><rect x="198.2" y="46.0" width="2.1" height="4.4" fill="#7c786a" opacity="0.68"/><rect x="233.9" y="120.3" width="1.3" height="13.0" fill="#7a7666" opacity="0.81"/><rect x="240.0" y="92.0" width="1.9" height="9.9" fill="#86806e" opacity="0.73"/><rect x="239.2" y="64.0" width="1.8" height="9.0" fill="#7a7666" opacity="0.78"/><rect x="235.1" y="106.4" width="1.0" height="5.9" fill="#86806e" opacity="0.81"/><rect x="205.1" y="117.1" width="1.3" height="7.1" fill="#767262" opacity="0.63"/><rect x="233.5" y="80.5" width="1.7" height="9.7" fill="#767262" opacity="0.70"/><rect x="236.1" y="66.0" width="1.3" height="8.5" fill="#7e7666" opacity="0.62"/><rect x="213.4" y="127.2" width="1.6" height="4.0" fill="#827a6a" opacity="0.70"/><rect x="233.9" y="41.6" width="2.0" height="10.9" fill="#7e7666" opacity="0.74"/><rect x="203.5" y="98.8" width="1.6" height="6.6" fill="#7a7666" opacity="0.82"/><rect x="229.5" y="47.5" width="1.9" height="6.7" fill="#86806e" opacity="0.61"/><rect x="222.3" y="95.9" width="1.0" height="9.6" fill="#7a7666" opacity="0.60"/><rect x="227.4" y="129.2" width="1.6" height="4.1" fill="#7e7666" opacity="0.59"/><rect x="204.0" y="124.3" width="0.9" height="8.2" fill="#767262" opacity="0.80"/><rect x="198.9" y="74.3" width="1.0" height="5.3" fill="#7e7666" opacity="0.73"/><rect x="213.5" y="116.6" width="0.8" height="11.9" fill="#86806e" opacity="0.57"/><rect x="239.9" y="73.0" width="2.0" height="3.9" fill="#827a6a" opacity="0.79"/><rect x="208.5" y="126.6" width="1.2" height="6.2" fill="#7a7666" opacity="0.79"/><rect x="237.2" y="59.6" width="2.1" height="9.2" fill="#767262" opacity="0.82"/><rect x="215.1" y="132.8" width="1.8" height="10.5" fill="#7a7666" opacity="0.55"/><rect x="205.4" y="123.9" width="1.1" height="6.5" fill="#86806e" opacity="0.74"/><rect x="221.4" y="87.3" width="1.7" height="8.4" fill="#7e7666" opacity="0.76"/><rect x="199.2" y="78.1" width="1.9" height="11.9" fill="#767262" opacity="0.56"/><rect x="238.1" y="48.0" width="1.9" height="3.5" fill="#86806e" opacity="0.65"/><rect x="234.7" y="107.9" width="1.2" height="10.1" fill="#7e7666" opacity="0.66"/><rect x="204.4" y="68.6" width="1.3" height="3.5" fill="#86806e" opacity="0.56"/><rect x="200.4" y="113.8" width="1.1" height="13.4" fill="#827a6a" opacity="0.78"/><rect x="242.0" y="115.3" width="1.0" height="12.7" fill="#767262" opacity="0.62"/><rect x="198.9" y="93.4" width="1.9" height="7.8" fill="#7e7666" opacity="0.84"/><rect x="233.9" y="83.5" width="1.1" height="8.1" fill="#827a6a" opacity="0.60"/><rect x="200.0" y="61.2" width="1.6" height="11.5" fill="#767262" opacity="0.64"/><rect x="208.3" y="54.3" width="1.4" height="11.8" fill="#7c786a" opacity="0.80"/><rect x="232.0" y="128.4" width="1.6" height="6.5" fill="#827a6a" opacity="0.72"/><rect x="204.1" y="53.7" width="1.2" height="11.1" fill="#86806e" opacity="0.83"/><rect x="234.9" y="78.3" width="2.0" height="8.2" fill="#827a6a" opacity="0.59"/><rect x="199.9" y="83.9" width="1.4" height="10.7" fill="#7c786a" opacity="0.84"/><rect x="237.7" y="74.2" width="0.8" height="12.5" fill="#7e7666" opacity="0.59"/><rect x="229.8" y="43.7" width="0.9" height="9.7" fill="#7a7666" opacity="0.73"/><rect x="236.2" y="116.6" width="1.8" height="7.4" fill="#767262" opacity="0.80"/><rect x="215.3" y="78.0" width="1.2" height="7.7" fill="#7a7666" opacity="0.75"/><rect x="218.4" y="45.8" width="1.5" height="9.3" fill="#86806e" opacity="0.58"/><rect x="232.7" y="133.8" width="2.2" height="5.6" fill="#86806e" opacity="0.79"/><rect x="223.5" y="105.7" width="1.4" height="8.7" fill="#7a7666" opacity="0.77"/><rect x="159.8" y="127.9" width="0.8" height="10.3" fill="#827a6a" opacity="0.62"/><rect x="157.8" y="97.1" width="2.1" height="8.2" fill="#767262" opacity="0.75"/><rect x="156.6" y="99.7" width="1.9" height="11.2" fill="#86806e" opacity="0.47"/><rect x="168.1" y="110.5" width="0.9" height="12.0" fill="#7c786a" opacity="0.64"/><rect x="159.2" y="90.0" width="2.0" height="10.4" fill="#86806e" opacity="0.50"/><rect x="153.4" y="111.7" width="2.0" height="13.0" fill="#86806e" opacity="0.70"/><rect x="165.2" y="107.8" width="1.5" height="9.2" fill="#7a7666" opacity="0.61"/><rect x="196.8" y="90.1" width="1.1" height="12.0" fill="#767262" opacity="0.57"/><rect x="171.9" y="113.3" width="1.3" height="6.9" fill="#86806e" opacity="0.58"/><rect x="192.5" y="107.0" width="1.9" height="4.2" fill="#767262" opacity="0.74"/><rect x="157.7" y="107.6" width="1.8" height="4.7" fill="#827a6a" opacity="0.73"/><rect x="187.6" y="126.2" width="1.0" height="4.6" fill="#86806e" opacity="0.54"/><rect x="155.6" y="64.6" width="2.2" height="12.3" fill="#827a6a" opacity="0.58"/><rect x="144.4" y="121.3" width="0.8" height="13.7" fill="#86806e" opacity="0.46"/><rect x="144.3" y="107.0" width="1.0" height="12.6" fill="#7e7666" opacity="0.69"/><rect x="140.8" y="102.1" width="1.3" height="3.9" fill="#7c786a" opacity="0.73"/><rect x="158.3" y="79.7" width="1.2" height="12.2" fill="#7c786a" opacity="0.73"/><rect x="156.3" y="118.6" width="2.0" height="8.5" fill="#86806e" opacity="0.70"/><rect x="152.4" y="96.9" width="1.6" height="9.4" fill="#86806e" opacity="0.55"/><rect x="178.9" y="102.8" width="1.2" height="13.9" fill="#7a7666" opacity="0.61"/><rect x="147.0" y="66.8" width="1.1" height="11.0" fill="#86806e" opacity="0.54"/><rect x="183.4" y="133.2" width="0.9" height="3.8" fill="#767262" opacity="0.49"/><rect x="159.9" y="131.5" width="2.2" height="8.9" fill="#767262" opacity="0.70"/><rect x="155.3" y="106.2" width="1.1" height="7.5" fill="#827a6a" opacity="0.64"/><rect x="170.3" y="129.8" width="1.8" height="13.7" fill="#767262" opacity="0.66"/><rect x="164.4" y="86.6" width="1.4" height="12.5" fill="#7e7666" opacity="0.56"/><rect x="190.7" y="114.8" width="1.4" height="10.1" fill="#7c786a" opacity="0.48"/><rect x="192.3" y="102.6" width="1.3" height="7.2" fill="#7e7666" opacity="0.73"/><rect x="169.4" y="102.8" width="1.1" height="8.4" fill="#7e7666" opacity="0.49"/><rect x="143.1" y="123.2" width="2.2" height="11.5" fill="#7e7666" opacity="0.73"/><rect x="153.3" y="111.3" width="2.1" height="12.6" fill="#7e7666" opacity="0.75"/><rect x="176.6" y="67.4" width="1.5" height="10.1" fill="#86806e" opacity="0.71"/><rect x="149.2" y="126.0" width="0.9" height="10.7" fill="#7c786a" opacity="0.46"/><rect x="173.9" y="104.5" width="1.9" height="11.1" fill="#86806e" opacity="0.67"/><rect x="196.0" y="108.4" width="2.0" height="4.5" fill="#7a7666" opacity="0.61"/><rect x="156.1" y="62.6" width="1.4" height="5.9" fill="#7e7666" opacity="0.55"/><rect x="197.4" y="86.9" width="1.4" height="10.6" fill="#7a7666" opacity="0.73"/><rect x="154.2" y="61.5" width="1.3" height="11.8" fill="#86806e" opacity="0.49"/><rect x="150.2" y="106.0" width="2.0" height="8.7" fill="#7e7666" opacity="0.74"/><rect x="192.5" y="61.4" width="1.7" height="12.2" fill="#86806e" opacity="0.54"/><rect x="195.4" y="67.8" width="0.9" height="11.1" fill="#7e7666" opacity="0.63"/><rect x="173.6" y="92.2" width="0.8" height="3.4" fill="#7c786a" opacity="0.45"/><rect x="158.0" y="120.1" width="1.8" height="5.8" fill="#767262" opacity="0.67"/><rect x="171.0" y="84.9" width="1.2" height="10.4" fill="#767262" opacity="0.54"/><rect x="150.5" y="111.6" width="1.8" height="12.8" fill="#767262" opacity="0.46"/><rect x="186.3" y="78.8" width="1.1" height="10.6" fill="#7e7666" opacity="0.45"/><rect x="149.6" y="129.6" width="1.5" height="14.0" fill="#767262" opacity="0.66"/><rect x="191.6" y="106.9" width="0.9" height="11.4" fill="#767262" opacity="0.65"/><rect x="150.1" y="67.8" width="1.7" height="4.9" fill="#827a6a" opacity="0.49"/><rect x="177.2" y="109.9" width="0.9" height="13.7" fill="#7a7666" opacity="0.58"/><rect x="147.4" y="85.9" width="1.2" height="9.2" fill="#767262" opacity="0.70"/><rect x="187.4" y="132.3" width="2.0" height="3.0" fill="#7a7666" opacity="0.53"/><rect x="142.2" y="88.3" width="1.8" height="8.2" fill="#767262" opacity="0.72"/><rect x="174.5" y="81.7" width="1.0" height="6.2" fill="#7c786a" opacity="0.57"/><rect x="151.6" y="85.6" width="1.0" height="11.7" fill="#7e7666" opacity="0.62"/><rect x="174.3" y="132.7" width="1.0" height="3.3" fill="#827a6a" opacity="0.53"/><rect x="177.0" y="85.4" width="1.4" height="4.3" fill="#827a6a" opacity="0.68"/><rect x="166.6" y="62.2" width="1.8" height="8.4" fill="#7e7666" opacity="0.55"/><rect x="174.1" y="69.2" width="1.1" height="13.2" fill="#86806e" opacity="0.62"/><rect x="186.8" y="86.1" width="1.9" height="9.2" fill="#86806e" opacity="0.69"/><rect x="126.4" y="138.4" width="1.5" height="7.3" fill="#7c786a" opacity="0.73"/><rect x="123.8" y="140.8" width="1.8" height="5.8" fill="#7c786a" opacity="0.73"/><rect x="93.6" y="155.8" width="1.4" height="11.9" fill="#86806e" opacity="0.63"/><rect x="143.3" y="193.5" width="1.7" height="9.1" fill="#767262" opacity="0.49"/><rect x="134.7" y="187.5" width="1.6" height="3.0" fill="#7a7666" opacity="0.62"/><rect x="206.5" y="151.1" width="1.0" height="9.8" fill="#827a6a" opacity="0.47"/><rect x="123.9" y="147.9" width="1.7" height="7.1" fill="#827a6a" opacity="0.54"/><rect x="149.4" y="168.0" width="1.1" height="6.1" fill="#7c786a" opacity="0.65"/><rect x="114.2" y="155.6" width="2.1" height="8.6" fill="#86806e" opacity="0.56"/><rect x="165.7" y="144.5" width="1.1" height="9.4" fill="#827a6a" opacity="0.54"/><rect x="173.4" y="160.5" width="1.9" height="10.5" fill="#827a6a" opacity="0.66"/><rect x="96.4" y="177.7" width="1.8" height="9.7" fill="#827a6a" opacity="0.73"/><rect x="156.3" y="154.4" width="1.2" height="10.2" fill="#767262" opacity="0.58"/><rect x="164.4" y="174.6" width="2.1" height="10.9" fill="#86806e" opacity="0.56"/><rect x="119.8" y="176.4" width="1.5" height="3.9" fill="#7e7666" opacity="0.60"/><rect x="203.3" y="181.8" width="1.1" height="13.2" fill="#827a6a" opacity="0.55"/><rect x="100.4" y="170.7" width="1.9" height="10.7" fill="#7c786a" opacity="0.64"/><rect x="185.8" y="188.6" width="1.0" height="11.0" fill="#86806e" opacity="0.71"/><rect x="98.2" y="171.8" width="1.4" height="10.9" fill="#7e7666" opacity="0.66"/><rect x="161.4" y="190.4" width="1.2" height="9.3" fill="#767262" opacity="0.53"/><rect x="96.6" y="196.6" width="1.7" height="4.9" fill="#86806e" opacity="0.59"/><rect x="132.8" y="146.4" width="1.3" height="13.8" fill="#767262" opacity="0.61"/><rect x="110.1" y="196.1" width="1.1" height="7.9" fill="#7c786a" opacity="0.57"/><rect x="103.2" y="192.7" width="1.8" height="13.3" fill="#7a7666" opacity="0.53"/><rect x="153.6" y="135.5" width="1.8" height="3.4" fill="#7a7666" opacity="0.45"/><rect x="186.4" y="183.6" width="1.4" height="5.6" fill="#7a7666" opacity="0.61"/><rect x="103.6" y="156.2" width="1.4" height="4.1" fill="#767262" opacity="0.59"/><rect x="130.7" y="178.1" width="1.5" height="5.5" fill="#7c786a" opacity="0.45"/><rect x="201.7" y="149.8" width="1.6" height="13.8" fill="#827a6a" opacity="0.58"/><rect x="169.2" y="189.8" width="1.2" height="6.5" fill="#86806e" opacity="0.64"/><rect x="211.2" y="190.2" width="1.6" height="13.9" fill="#86806e" opacity="0.69"/><rect x="125.5" y="194.0" width="2.0" height="7.2" fill="#7a7666" opacity="0.67"/><rect x="117.1" y="165.9" width="1.7" height="3.9" fill="#86806e" opacity="0.64"/><rect x="177.1" y="164.5" width="1.0" height="5.6" fill="#7e7666" opacity="0.63"/><rect x="122.7" y="176.4" width="1.3" height="6.8" fill="#767262" opacity="0.61"/><rect x="123.7" y="155.5" width="1.4" height="5.3" fill="#86806e" opacity="0.52"/><rect x="157.0" y="172.9" width="1.2" height="7.9" fill="#827a6a" opacity="0.65"/><rect x="111.9" y="170.8" width="1.5" height="4.5" fill="#827a6a" opacity="0.70"/><rect x="145.2" y="159.4" width="1.4" height="12.3" fill="#767262" opacity="0.62"/><rect x="202.2" y="191.7" width="2.1" height="7.5" fill="#7a7666" opacity="0.55"/><rect x="202.1" y="182.1" width="1.7" height="7.2" fill="#7c786a" opacity="0.56"/><rect x="163.5" y="192.6" width="2.0" height="8.8" fill="#86806e" opacity="0.56"/><rect x="157.1" y="153.6" width="1.8" height="12.4" fill="#86806e" opacity="0.54"/><rect x="163.9" y="147.0" width="1.7" height="7.1" fill="#827a6a" opacity="0.47"/><rect x="203.7" y="179.9" width="1.8" height="8.5" fill="#86806e" opacity="0.72"/><rect x="106.0" y="140.5" width="1.6" height="11.1" fill="#7c786a" opacity="0.62"/><rect x="118.8" y="188.7" width="2.2" height="13.4" fill="#767262" opacity="0.73"/><rect x="144.9" y="147.9" width="1.5" height="11.1" fill="#86806e" opacity="0.61"/><rect x="151.6" y="148.3" width="1.7" height="13.4" fill="#7c786a" opacity="0.60"/><rect x="143.5" y="176.7" width="1.6" height="6.4" fill="#7a7666" opacity="0.59"/><rect x="133.2" y="178.9" width="0.9" height="10.5" fill="#827a6a" opacity="0.68"/><rect x="136.2" y="178.7" width="1.0" height="11.7" fill="#767262" opacity="0.56"/><rect x="206.7" y="193.7" width="1.1" height="6.0" fill="#7e7666" opacity="0.45"/><rect x="98.1" y="178.4" width="1.6" height="3.1" fill="#7a7666" opacity="0.71"/><rect x="136.6" y="189.4" width="2.1" height="8.1" fill="#767262" opacity="0.65"/><rect x="149.3" y="183.5" width="0.9" height="5.7" fill="#7a7666" opacity="0.65"/><rect x="141.4" y="149.6" width="2.0" height="8.5" fill="#86806e" opacity="0.61"/><rect x="202.5" y="177.2" width="1.6" height="13.3" fill="#827a6a" opacity="0.65"/><rect x="184.8" y="142.9" width="1.4" height="13.2" fill="#7c786a" opacity="0.70"/><rect x="111.1" y="193.2" width="1.2" height="12.1" fill="#767262" opacity="0.60"/><rect x="128.0" y="192.6" width="2.0" height="4.7" fill="#827a6a" opacity="0.50"/><rect x="188.9" y="150.5" width="1.7" height="5.0" fill="#7c786a" opacity="0.49"/><rect x="184.4" y="161.2" width="1.1" height="9.0" fill="#7a7666" opacity="0.49"/><rect x="135.9" y="175.8" width="1.2" height="6.6" fill="#86806e" opacity="0.49"/><rect x="128.8" y="160.4" width="0.9" height="10.4" fill="#827a6a" opacity="0.72"/><rect x="209.7" y="155.7" width="1.2" height="5.1" fill="#827a6a" opacity="0.50"/><rect x="184.6" y="146.3" width="0.8" height="9.5" fill="#7e7666" opacity="0.68"/><rect x="185.9" y="156.8" width="1.4" height="3.4" fill="#767262" opacity="0.51"/><rect x="155.0" y="135.3" width="2.1" height="3.4" fill="#7a7666" opacity="0.55"/><rect x="134.9" y="163.4" width="1.4" height="11.3" fill="#86806e" opacity="0.67"/><rect x="182.3" y="173.7" width="1.4" height="9.7" fill="#7e7666" opacity="0.52"/><rect x="131.9" y="137.0" width="1.0" height="13.7" fill="#827a6a" opacity="0.68"/><rect x="147.0" y="136.2" width="1.8" height="8.6" fill="#827a6a" opacity="0.53"/><rect x="207.6" y="163.8" width="0.9" height="11.2" fill="#827a6a" opacity="0.65"/><rect x="122.7" y="163.9" width="2.2" height="12.9" fill="#86806e" opacity="0.51"/><rect x="148.8" y="145.9" width="1.0" height="12.2" fill="#827a6a" opacity="0.75"/><rect x="109.5" y="150.1" width="1.7" height="9.5" fill="#767262" opacity="0.54"/><rect x="134.6" y="166.1" width="2.2" height="12.2" fill="#7c786a" opacity="0.73"/><rect x="116.9" y="139.1" width="2.0" height="8.4" fill="#7e7666" opacity="0.60"/><rect x="140.4" y="175.4" width="2.1" height="11.4" fill="#86806e" opacity="0.49"/><rect x="139.7" y="165.7" width="1.0" height="13.1" fill="#767262" opacity="0.57"/><rect x="138.9" y="187.5" width="0.8" height="10.9" fill="#7a7666" opacity="0.49"/><rect x="188.5" y="184.0" width="0.9" height="7.4" fill="#86806e" opacity="0.50"/><rect x="126.9" y="181.6" width="2.0" height="11.0" fill="#7e7666" opacity="0.52"/><rect x="141.2" y="158.2" width="1.4" height="6.8" fill="#767262" opacity="0.71"/><rect x="155.4" y="161.7" width="1.3" height="7.1" fill="#86806e" opacity="0.67"/><rect x="139.9" y="147.7" width="1.5" height="4.3" fill="#86806e" opacity="0.45"/><rect x="181.5" y="182.7" width="1.0" height="10.9" fill="#7e7666" opacity="0.67"/><rect x="147.0" y="152.7" width="1.3" height="7.7" fill="#7e7666" opacity="0.52"/><rect x="109.0" y="181.0" width="1.8" height="13.2" fill="#86806e" opacity="0.72"/><rect x="107.4" y="201.0" width="1.1" height="6.4" fill="#827a6a" opacity="0.62"/><rect x="94.1" y="184.9" width="1.3" height="3.7" fill="#827a6a" opacity="0.45"/><rect x="109.5" y="193.2" width="1.6" height="11.8" fill="#7e7666" opacity="0.73"/><rect x="144.1" y="188.5" width="1.4" height="11.7" fill="#767262" opacity="0.48"/><rect x="181.1" y="194.3" width="1.0" height="3.5" fill="#827a6a" opacity="0.69"/><rect x="161.2" y="166.4" width="1.4" height="4.8" fill="#7c786a" opacity="0.58"/><rect x="179.1" y="146.4" width="1.4" height="12.4" fill="#7e7666" opacity="0.47"/><rect x="173.7" y="165.5" width="2.0" height="13.8" fill="#7a7666" opacity="0.65"/><rect x="187.6" y="178.0" width="1.4" height="11.2" fill="#827a6a" opacity="0.51"/><rect x="97.9" y="162.8" width="1.8" height="10.3" fill="#7e7666" opacity="0.49"/><rect x="190.9" y="143.2" width="1.2" height="6.1" fill="#767262" opacity="0.74"/><rect x="180.3" y="163.1" width="1.0" height="13.9" fill="#7e7666" opacity="0.52"/><rect x="168.6" y="165.7" width="2.0" height="3.9" fill="#86806e" opacity="0.73"/><rect x="177.0" y="158.3" width="1.3" height="6.8" fill="#827a6a" opacity="0.46"/><rect x="165.9" y="157.4" width="1.5" height="6.3" fill="#7c786a" opacity="0.72"/><rect x="188.9" y="172.9" width="0.9" height="10.7" fill="#7e7666" opacity="0.47"/><rect x="198.5" y="180.8" width="1.2" height="11.3" fill="#827a6a" opacity="0.49"/><rect x="92.6" y="180.4" width="1.9" height="10.5" fill="#86806e" opacity="0.75"/><rect x="117.9" y="160.7" width="2.0" height="6.5" fill="#7a7666" opacity="0.60"/><rect x="130.7" y="160.0" width="1.5" height="11.5" fill="#7a7666" opacity="0.66"/><rect x="197.0" y="159.6" width="1.8" height="7.2" fill="#7e7666" opacity="0.72"/><rect x="149.8" y="174.7" width="0.8" height="9.1" fill="#827a6a" opacity="0.62"/><rect x="189.5" y="198.6" width="0.8" height="9.1" fill="#7e7666" opacity="0.52"/><rect x="153.2" y="188.8" width="0.9" height="3.9" fill="#7e7666" opacity="0.51"/><rect x="107.1" y="136.3" width="1.3" height="11.6" fill="#7e7666" opacity="0.70"/><rect x="109.7" y="161.7" width="1.9" height="7.4" fill="#7c786a" opacity="0.66"/><rect x="108.0" y="168.1" width="1.0" height="6.6" fill="#7e7666" opacity="0.46"/><rect x="178.7" y="181.3" width="1.8" height="6.3" fill="#827a6a" opacity="0.49"/><rect x="191.6" y="194.8" width="2.2" height="7.5" fill="#86806e" opacity="0.60"/><rect x="115.9" y="183.5" width="1.4" height="10.1" fill="#7c786a" opacity="0.67"/><rect x="118.5" y="185.7" width="1.4" height="10.3" fill="#7a7666" opacity="0.59"/><rect x="139.1" y="174.6" width="1.8" height="12.5" fill="#86806e" opacity="0.65"/><rect x="112.3" y="156.3" width="0.9" height="13.8" fill="#7a7666" opacity="0.73"/><rect x="103.7" y="153.1" width="1.1" height="10.6" fill="#86806e" opacity="0.53"/><rect x="97.1" y="145.3" width="1.8" height="10.9" fill="#767262" opacity="0.64"/><rect x="111.1" y="173.1" width="0.8" height="12.5" fill="#7a7666" opacity="0.61"/><rect x="100.2" y="136.9" width="1.9" height="14.0" fill="#86806e" opacity="0.73"/><rect x="126.2" y="168.7" width="1.1" height="11.7" fill="#827a6a" opacity="0.75"/><rect x="182.9" y="183.0" width="1.6" height="10.7" fill="#7e7666" opacity="0.48"/><rect x="166.3" y="192.4" width="1.4" height="6.9" fill="#86806e" opacity="0.47"/><rect x="199.6" y="202.6" width="1.0" height="3.2" fill="#767262" opacity="0.52"/><rect x="126.0" y="159.7" width="1.5" height="11.1" fill="#86806e" opacity="0.69"/><rect x="118.4" y="192.8" width="2.1" height="13.5" fill="#7e7666" opacity="0.59"/><rect x="134.4" y="171.3" width="1.4" height="11.2" fill="#7a7666" opacity="0.56"/><rect x="100.7" y="183.1" width="1.6" height="10.7" fill="#86806e" opacity="0.49"/><rect x="177.4" y="186.4" width="2.0" height="5.4" fill="#767262" opacity="0.53"/><rect x="121.2" y="141.9" width="1.6" height="4.3" fill="#7c786a" opacity="0.68"/><rect x="141.9" y="157.4" width="1.8" height="4.7" fill="#86806e" opacity="0.46"/><rect x="190.8" y="147.1" width="2.1" height="11.7" fill="#767262" opacity="0.53"/><rect x="125.3" y="165.0" width="1.0" height="10.7" fill="#767262" opacity="0.63"/><rect x="205.1" y="156.3" width="1.7" height="12.2" fill="#7c786a" opacity="0.54"/><rect x="197.3" y="158.2" width="0.9" height="9.5" fill="#7a7666" opacity="0.61"/><rect x="166.5" y="154.1" width="1.0" height="3.3" fill="#767262" opacity="0.71"/><rect x="162.4" y="195.6" width="2.0" height="12.8" fill="#827a6a" opacity="0.51"/><rect x="152.0" y="141.8" width="2.1" height="13.1" fill="#827a6a" opacity="0.49"/><rect x="176.3" y="186.2" width="0.8" height="6.6" fill="#767262" opacity="0.50"/><rect x="202.6" y="135.3" width="1.5" height="10.5" fill="#7e7666" opacity="0.56"/><rect x="160.5" y="182.4" width="2.0" height="11.3" fill="#7c786a" opacity="0.72"/><rect x="145.6" y="151.1" width="1.4" height="7.2" fill="#767262" opacity="0.74"/><rect x="162.2" y="191.9" width="1.9" height="3.5" fill="#827a6a" opacity="0.65"/><rect x="149.8" y="147.5" width="1.7" height="13.9" fill="#827a6a" opacity="0.51"/><rect x="184.3" y="187.5" width="2.0" height="13.2" fill="#7c786a" opacity="0.45"/><rect x="160.7" y="157.0" width="1.9" height="6.8" fill="#827a6a" opacity="0.45"/><rect x="157.1" y="175.2" width="1.7" height="6.0" fill="#767262" opacity="0.55"/><rect x="165.1" y="172.2" width="1.9" height="7.0" fill="#7c786a" opacity="0.55"/><rect x="124.5" y="152.8" width="1.5" height="11.8" fill="#767262" opacity="0.75"/><rect x="166.7" y="174.2" width="0.8" height="11.8" fill="#7e7666" opacity="0.62"/><rect x="137.8" y="151.9" width="1.6" height="3.5" fill="#7c786a" opacity="0.70"/><rect x="142.8" y="192.0" width="1.9" height="13.4" fill="#7c786a" opacity="0.66"/><rect x="187.4" y="173.7" width="1.3" height="6.3" fill="#7a7666" opacity="0.72"/><rect x="90.2" y="204.7" width="1.4" height="12.8" fill="#86806e" opacity="0.93"/><rect x="62.3" y="189.9" width="2.1" height="4.5" fill="#767262" opacity="0.84"/><rect x="25.4" y="159.1" width="1.2" height="8.5" fill="#767262" opacity="0.78"/><rect x="98.0" y="184.6" width="1.1" height="8.9" fill="#827a6a" opacity="0.65"/><rect x="45.5" y="190.5" width="0.9" height="7.5" fill="#7c786a" opacity="0.74"/><rect x="108.0" y="156.8" width="1.0" height="9.3" fill="#767262" opacity="0.79"/><rect x="28.8" y="223.1" width="1.0" height="5.9" fill="#767262" opacity="0.65"/><rect x="70.0" y="175.1" width="1.9" height="5.0" fill="#767262" opacity="0.87"/><rect x="117.1" y="173.0" width="1.2" height="3.9" fill="#767262" opacity="0.81"/><rect x="83.3" y="154.9" width="2.1" height="6.5" fill="#827a6a" opacity="0.60"/><rect x="120.9" y="229.6" width="2.1" height="7.3" fill="#7a7666" opacity="0.88"/><rect x="114.2" y="210.5" width="0.9" height="4.7" fill="#767262" opacity="0.82"/><rect x="127.8" y="183.8" width="1.4" height="4.3" fill="#7a7666" opacity="0.90"/><rect x="67.0" y="203.7" width="1.8" height="11.1" fill="#767262" opacity="0.74"/><rect x="57.8" y="200.1" width="1.7" height="13.5" fill="#827a6a" opacity="0.83"/><rect x="84.3" y="238.5" width="1.9" height="6.2" fill="#86806e" opacity="0.68"/><rect x="63.7" y="184.0" width="1.7" height="6.5" fill="#7a7666" opacity="0.68"/><rect x="75.9" y="216.2" width="1.2" height="6.9" fill="#86806e" opacity="0.88"/><rect x="39.9" y="183.8" width="1.2" height="7.8" fill="#7e7666" opacity="0.60"/><rect x="49.1" y="221.2" width="1.4" height="5.9" fill="#7c786a" opacity="0.83"/><rect x="126.3" y="189.5" width="1.8" height="6.7" fill="#767262" opacity="0.88"/><rect x="32.2" y="219.8" width="1.3" height="13.7" fill="#86806e" opacity="0.80"/><rect x="102.7" y="158.6" width="1.7" height="4.4" fill="#7c786a" opacity="0.90"/><rect x="77.6" y="231.3" width="1.3" height="11.9" fill="#7c786a" opacity="0.58"/><rect x="134.1" y="199.6" width="1.9" height="12.9" fill="#767262" opacity="0.89"/><rect x="81.9" y="170.2" width="2.0" height="12.3" fill="#827a6a" opacity="0.93"/><rect x="97.8" y="199.4" width="1.7" height="6.4" fill="#827a6a" opacity="0.90"/><rect x="28.1" y="229.5" width="1.3" height="5.8" fill="#7c786a" opacity="0.68"/><rect x="53.2" y="230.2" width="1.8" height="8.5" fill="#86806e" opacity="0.68"/><rect x="108.4" y="158.6" width="0.8" height="10.5" fill="#86806e" opacity="0.58"/><rect x="136.4" y="218.6" width="1.2" height="4.5" fill="#827a6a" opacity="0.60"/><rect x="122.8" y="221.9" width="1.3" height="12.3" fill="#767262" opacity="0.77"/><rect x="102.6" y="192.7" width="1.4" height="7.4" fill="#7c786a" opacity="0.89"/><rect x="50.3" y="188.6" width="1.1" height="6.1" fill="#7c786a" opacity="0.94"/><rect x="97.5" y="198.6" width="1.4" height="6.8" fill="#7c786a" opacity="0.66"/><rect x="137.3" y="151.2" width="0.8" height="9.9" fill="#7a7666" opacity="0.79"/><rect x="30.3" y="179.9" width="1.9" height="10.7" fill="#7a7666" opacity="0.86"/><rect x="63.2" y="200.0" width="2.1" height="9.5" fill="#827a6a" opacity="0.90"/><rect x="41.1" y="156.3" width="1.7" height="4.2" fill="#86806e" opacity="0.58"/><rect x="40.7" y="183.7" width="2.1" height="8.0" fill="#767262" opacity="0.75"/><rect x="118.5" y="205.8" width="0.9" height="7.3" fill="#86806e" opacity="0.59"/><rect x="132.6" y="152.8" width="1.1" height="6.3" fill="#7a7666" opacity="0.74"/><rect x="97.2" y="223.5" width="2.1" height="11.7" fill="#7e7666" opacity="0.71"/><rect x="70.2" y="185.5" width="1.3" height="7.0" fill="#7e7666" opacity="0.68"/><rect x="95.1" y="211.4" width="1.4" height="7.5" fill="#827a6a" opacity="0.95"/><rect x="131.3" y="235.1" width="1.2" height="8.4" fill="#7e7666" opacity="0.77"/><rect x="126.8" y="205.9" width="1.5" height="6.7" fill="#827a6a" opacity="0.57"/><rect x="101.5" y="189.7" width="1.2" height="12.3" fill="#7c786a" opacity="0.68"/><rect x="107.4" y="161.4" width="1.6" height="7.3" fill="#7e7666" opacity="0.66"/><rect x="128.0" y="233.2" width="1.4" height="10.2" fill="#827a6a" opacity="0.64"/><rect x="51.1" y="236.0" width="2.1" height="6.3" fill="#86806e" opacity="0.86"/><rect x="26.9" y="158.2" width="2.1" height="5.9" fill="#7c786a" opacity="0.86"/><rect x="117.2" y="182.8" width="0.9" height="7.5" fill="#7e7666" opacity="0.62"/><rect x="33.3" y="178.3" width="2.0" height="6.5" fill="#7a7666" opacity="0.70"/><rect x="89.0" y="169.7" width="1.5" height="5.2" fill="#86806e" opacity="0.61"/><rect x="31.0" y="164.9" width="2.2" height="9.0" fill="#827a6a" opacity="0.65"/><rect x="25.2" y="220.8" width="2.0" height="9.7" fill="#767262" opacity="0.78"/><rect x="43.4" y="224.1" width="0.9" height="4.3" fill="#7e7666" opacity="0.81"/><rect x="25.9" y="158.2" width="1.6" height="11.1" fill="#767262" opacity="0.62"/><rect x="96.6" y="175.9" width="1.5" height="11.9" fill="#7c786a" opacity="0.95"/><rect x="94.9" y="193.0" width="1.9" height="7.6" fill="#827a6a" opacity="0.90"/><rect x="46.4" y="192.9" width="1.0" height="4.9" fill="#7a7666" opacity="0.66"/><rect x="82.5" y="176.8" width="1.6" height="11.8" fill="#7a7666" opacity="0.78"/><rect x="70.8" y="160.4" width="1.6" height="10.7" fill="#86806e" opacity="0.90"/><rect x="86.9" y="194.9" width="1.5" height="10.8" fill="#7c786a" opacity="0.87"/><rect x="105.3" y="172.9" width="0.9" height="3.1" fill="#767262" opacity="0.61"/><rect x="115.2" y="199.5" width="1.0" height="9.6" fill="#827a6a" opacity="0.87"/><rect x="44.6" y="150.7" width="1.9" height="7.6" fill="#86806e" opacity="0.71"/><rect x="32.0" y="178.6" width="2.0" height="5.0" fill="#86806e" opacity="0.90"/><rect x="120.7" y="146.5" width="1.8" height="8.0" fill="#827a6a" opacity="0.71"/><rect x="61.1" y="190.8" width="1.9" height="11.9" fill="#827a6a" opacity="0.60"/><rect x="122.7" y="201.3" width="1.0" height="11.0" fill="#7e7666" opacity="0.85"/><rect x="76.4" y="236.5" width="1.9" height="7.6" fill="#767262" opacity="0.74"/><rect x="30.8" y="182.1" width="0.8" height="5.9" fill="#86806e" opacity="0.94"/><rect x="101.7" y="216.2" width="1.6" height="6.8" fill="#7a7666" opacity="0.72"/><rect x="37.8" y="201.3" width="1.8" height="5.1" fill="#767262" opacity="0.86"/><rect x="105.5" y="214.1" width="1.3" height="13.2" fill="#827a6a" opacity="0.70"/><rect x="38.1" y="214.9" width="0.9" height="5.9" fill="#7e7666" opacity="0.79"/><rect x="132.2" y="206.4" width="0.9" height="10.2" fill="#767262" opacity="0.91"/><rect x="36.8" y="155.5" width="1.9" height="12.7" fill="#827a6a" opacity="0.86"/><rect x="130.6" y="169.0" width="1.4" height="11.6" fill="#827a6a" opacity="0.69"/><rect x="105.5" y="166.0" width="1.1" height="8.7" fill="#767262" opacity="0.77"/><rect x="64.6" y="172.9" width="0.9" height="3.9" fill="#767262" opacity="0.88"/><rect x="130.1" y="214.6" width="0.8" height="13.8" fill="#7e7666" opacity="0.61"/><rect x="125.8" y="162.9" width="1.2" height="11.7" fill="#7e7666" opacity="0.91"/><rect x="51.5" y="229.5" width="1.5" height="10.3" fill="#767262" opacity="0.92"/><rect x="57.4" y="178.6" width="0.9" height="13.5" fill="#7a7666" opacity="0.73"/><rect x="31.6" y="150.1" width="2.1" height="3.7" fill="#827a6a" opacity="0.70"/><rect x="70.7" y="224.4" width="2.0" height="4.3" fill="#86806e" opacity="0.66"/><rect x="120.7" y="197.2" width="2.1" height="11.5" fill="#767262" opacity="0.89"/><rect x="133.2" y="148.7" width="1.6" height="4.5" fill="#827a6a" opacity="0.64"/><rect x="34.7" y="218.7" width="1.4" height="3.7" fill="#86806e" opacity="0.60"/><rect x="67.8" y="159.9" width="2.1" height="3.4" fill="#767262" opacity="0.84"/><rect x="53.2" y="218.5" width="1.5" height="6.0" fill="#767262" opacity="0.79"/><rect x="66.9" y="170.1" width="1.8" height="9.8" fill="#827a6a" opacity="0.82"/><rect x="96.8" y="167.0" width="2.0" height="10.9" fill="#767262" opacity="0.63"/><rect x="91.1" y="206.0" width="2.0" height="4.3" fill="#767262" opacity="0.77"/><rect x="126.0" y="163.8" width="1.9" height="3.8" fill="#767262" opacity="0.65"/><rect x="133.0" y="212.1" width="1.0" height="12.0" fill="#7e7666" opacity="0.63"/><rect x="125.2" y="238.9" width="1.8" height="7.1" fill="#827a6a" opacity="0.94"/><rect x="26.8" y="224.9" width="2.1" height="11.3" fill="#7e7666" opacity="0.61"/><rect x="115.0" y="164.2" width="1.0" height="5.0" fill="#827a6a" opacity="0.65"/><rect x="40.4" y="174.0" width="1.2" height="13.9" fill="#7e7666" opacity="0.71"/><rect x="133.5" y="241.5" width="1.9" height="5.0" fill="#7c786a" opacity="0.76"/><rect x="112.6" y="236.5" width="1.4" height="11.3" fill="#7e7666" opacity="0.66"/><rect x="42.2" y="212.4" width="1.0" height="5.7" fill="#7a7666" opacity="0.86"/><rect x="106.0" y="232.4" width="2.1" height="9.0" fill="#7c786a" opacity="0.89"/><rect x="83.1" y="214.1" width="1.1" height="5.3" fill="#827a6a" opacity="0.72"/><rect x="107.4" y="153.9" width="1.4" height="12.5" fill="#7c786a" opacity="0.67"/><rect x="97.0" y="182.0" width="1.8" height="5.2" fill="#7c786a" opacity="0.65"/><rect x="132.5" y="207.1" width="1.4" height="4.4" fill="#7c786a" opacity="0.85"/><rect x="96.2" y="210.8" width="1.6" height="3.4" fill="#827a6a" opacity="0.76"/><rect x="41.9" y="160.3" width="0.9" height="11.4" fill="#827a6a" opacity="0.70"/><rect x="83.2" y="228.0" width="1.8" height="3.9" fill="#7e7666" opacity="0.82"/><rect x="109.7" y="168.7" width="1.1" height="8.9" fill="#7c786a" opacity="0.77"/><rect x="125.7" y="151.9" width="1.8" height="4.2" fill="#767262" opacity="0.59"/><rect x="33.0" y="170.1" width="1.4" height="5.1" fill="#7c786a" opacity="0.77"/><rect x="106.5" y="185.5" width="1.6" height="12.8" fill="#7e7666" opacity="0.80"/><rect x="125.7" y="149.6" width="1.4" height="10.2" fill="#7a7666" opacity="0.69"/><rect x="111.8" y="233.4" width="1.7" height="4.2" fill="#86806e" opacity="0.61"/><rect x="85.7" y="155.1" width="0.9" height="10.5" fill="#86806e" opacity="0.91"/><rect x="116.7" y="216.0" width="2.0" height="12.0" fill="#7e7666" opacity="0.60"/><rect x="114.6" y="224.8" width="1.1" height="11.0" fill="#7a7666" opacity="0.86"/><rect x="99.6" y="220.0" width="1.2" height="12.8" fill="#827a6a" opacity="0.70"/><rect x="77.4" y="225.5" width="1.7" height="9.6" fill="#86806e" opacity="0.92"/><rect x="57.0" y="171.4" width="1.4" height="5.8" fill="#7e7666" opacity="0.82"/><rect x="74.7" y="190.0" width="2.2" height="10.9" fill="#767262" opacity="0.89"/><rect x="47.4" y="160.1" width="1.9" height="11.0" fill="#827a6a" opacity="0.84"/><rect x="98.5" y="184.4" width="2.1" height="8.8" fill="#827a6a" opacity="0.86"/><rect x="32.4" y="197.7" width="1.6" height="12.4" fill="#767262" opacity="0.75"/><rect x="137.0" y="199.5" width="1.3" height="12.0" fill="#7c786a" opacity="0.93"/><rect x="66.1" y="177.0" width="1.2" height="3.8" fill="#827a6a" opacity="0.59"/><rect x="109.2" y="229.9" width="1.6" height="7.9" fill="#7e7666" opacity="0.82"/><rect x="96.5" y="148.8" width="1.4" height="7.8" fill="#7e7666" opacity="0.71"/><rect x="82.6" y="212.7" width="0.8" height="3.4" fill="#7c786a" opacity="0.90"/><rect x="74.5" y="215.1" width="1.1" height="9.4" fill="#827a6a" opacity="0.82"/><rect x="88.0" y="161.8" width="0.9" height="7.4" fill="#7c786a" opacity="0.71"/><rect x="133.0" y="193.9" width="2.2" height="6.8" fill="#7e7666" opacity="0.82"/><rect x="68.7" y="173.5" width="1.0" height="12.0" fill="#7a7666" opacity="0.79"/><rect x="90.5" y="153.5" width="0.9" height="9.0" fill="#767262" opacity="0.72"/><rect x="63.9" y="227.7" width="2.0" height="8.9" fill="#7e7666" opacity="0.92"/><rect x="96.1" y="160.8" width="1.8" height="8.1" fill="#827a6a" opacity="0.69"/><rect x="129.0" y="195.5" width="1.9" height="4.6" fill="#86806e" opacity="0.67"/><rect x="40.0" y="231.8" width="1.2" height="9.4" fill="#767262" opacity="0.75"/><rect x="69.9" y="151.5" width="1.4" height="6.5" fill="#7e7666" opacity="0.93"/><rect x="50.6" y="212.9" width="0.8" height="10.2" fill="#827a6a" opacity="0.90"/><rect x="81.6" y="191.8" width="1.3" height="9.3" fill="#7c786a" opacity="0.64"/><rect x="51.1" y="182.7" width="1.4" height="6.6" fill="#7a7666" opacity="0.73"/><rect x="47.7" y="170.7" width="0.9" height="8.7" fill="#7e7666" opacity="0.90"/><rect x="91.8" y="178.3" width="1.4" height="7.6" fill="#827a6a" opacity="0.88"/><rect x="64.3" y="229.3" width="2.0" height="6.8" fill="#7c786a" opacity="0.89"/><rect x="101.0" y="227.7" width="1.5" height="5.3" fill="#767262" opacity="0.81"/><rect x="42.5" y="223.4" width="1.5" height="12.2" fill="#86806e" opacity="0.89"/><rect x="108.1" y="176.0" width="1.3" height="7.9" fill="#7c786a" opacity="0.85"/><rect x="121.4" y="194.3" width="1.5" height="8.1" fill="#767262" opacity="0.76"/><rect x="101.6" y="208.0" width="1.2" height="12.1" fill="#767262" opacity="0.90"/><rect x="132.2" y="195.2" width="0.8" height="11.7" fill="#7c786a" opacity="0.76"/><rect x="38.1" y="185.1" width="0.9" height="8.6" fill="#827a6a" opacity="0.81"/><rect x="78.3" y="205.9" width="1.5" height="11.4" fill="#86806e" opacity="0.66"/><rect x="63.8" y="226.9" width="2.1" height="4.5" fill="#7e7666" opacity="0.93"/><rect x="55.6" y="190.3" width="1.3" height="9.1" fill="#86806e" opacity="0.85"/><rect x="136.2" y="180.8" width="1.3" height="5.1" fill="#827a6a" opacity="0.68"/><rect x="33.2" y="183.3" width="1.9" height="12.1" fill="#7a7666" opacity="0.89"/><rect x="83.3" y="216.5" width="1.7" height="5.2" fill="#827a6a" opacity="0.77"/><rect x="34.1" y="215.1" width="1.9" height="11.4" fill="#827a6a" opacity="0.88"/><rect x="83.3" y="184.8" width="1.4" height="3.2" fill="#7c786a" opacity="0.94"/><rect x="72.5" y="216.8" width="2.2" height="7.5" fill="#827a6a" opacity="0.74"/><rect x="26.1" y="193.6" width="0.9" height="12.2" fill="#86806e" opacity="0.91"/><rect x="41.3" y="161.1" width="0.8" height="6.2" fill="#86806e" opacity="0.87"/><rect x="74.0" y="219.4" width="1.1" height="12.0" fill="#827a6a" opacity="0.86"/><rect x="111.5" y="172.8" width="1.5" height="10.5" fill="#86806e" opacity="0.61"/><rect x="123.9" y="206.6" width="1.5" height="8.1" fill="#86806e" opacity="0.77"/><rect x="122.7" y="201.7" width="2.1" height="7.9" fill="#827a6a" opacity="0.83"/><rect x="123.3" y="223.9" width="1.2" height="8.0" fill="#7a7666" opacity="0.90"/><rect x="25.4" y="201.3" width="0.9" height="9.9" fill="#827a6a" opacity="0.88"/><rect x="130.8" y="219.5" width="1.5" height="6.8" fill="#7a7666" opacity="0.87"/><rect x="83.9" y="145.8" width="1.8" height="9.0" fill="#767262" opacity="0.89"/><rect x="27.0" y="152.7" width="0.8" height="10.7" fill="#86806e" opacity="0.66"/><rect x="42.2" y="174.4" width="0.9" height="5.9" fill="#86806e" opacity="0.91"/><rect x="66.3" y="192.7" width="0.9" height="10.9" fill="#7c786a" opacity="0.72"/><rect x="116.1" y="165.4" width="2.2" height="9.0" fill="#86806e" opacity="0.95"/><rect x="137.6" y="201.5" width="2.2" height="3.6" fill="#86806e" opacity="0.89"/><rect x="55.7" y="233.4" width="1.7" height="5.3" fill="#827a6a" opacity="0.60"/><rect x="137.7" y="147.5" width="1.1" height="13.5" fill="#767262" opacity="0.94"/><rect x="48.3" y="179.8" width="2.1" height="7.0" fill="#7a7666" opacity="0.79"/><rect x="120.9" y="234.6" width="1.5" height="12.5" fill="#7c786a" opacity="0.64"/><rect x="60.9" y="218.4" width="1.4" height="5.7" fill="#827a6a" opacity="0.58"/><rect x="100.2" y="176.0" width="2.1" height="8.9" fill="#7c786a" opacity="0.81"/><rect x="112.3" y="158.8" width="1.3" height="13.5" fill="#7a7666" opacity="0.80"/><rect x="70.5" y="230.9" width="1.5" height="9.6" fill="#7e7666" opacity="0.83"/><rect x="56.5" y="222.4" width="1.1" height="8.7" fill="#7e7666" opacity="0.93"/><rect x="103.2" y="194.8" width="2.1" height="5.4" fill="#7e7666" opacity="0.72"/><rect x="111.2" y="155.7" width="1.6" height="12.3" fill="#7c786a" opacity="0.92"/><rect x="85.9" y="199.5" width="1.2" height="13.9" fill="#7a7666" opacity="0.71"/><rect x="54.4" y="152.8" width="0.8" height="12.9" fill="#827a6a" opacity="0.81"/><rect x="101.1" y="146.9" width="1.7" height="13.1" fill="#7e7666" opacity="0.74"/><rect x="125.8" y="145.1" width="2.0" height="10.5" fill="#7a7666" opacity="0.78"/><rect x="62.5" y="183.6" width="1.6" height="13.4" fill="#767262" opacity="0.70"/><rect x="110.0" y="215.4" width="1.1" height="10.6" fill="#7c786a" opacity="0.72"/><rect x="85.0" y="170.1" width="1.9" height="11.6" fill="#7a7666" opacity="0.79"/><rect x="30.1" y="184.8" width="2.0" height="6.4" fill="#7e7666" opacity="0.64"/><rect x="128.0" y="222.0" width="1.9" height="7.4" fill="#827a6a" opacity="0.58"/><rect x="104.6" y="165.8" width="1.6" height="8.4" fill="#7e7666" opacity="0.72"/><rect x="40.3" y="181.7" width="1.7" height="7.7" fill="#86806e" opacity="0.87"/><rect x="80.3" y="148.6" width="1.8" height="7.3" fill="#7c786a" opacity="0.79"/><rect x="118.3" y="230.3" width="1.0" height="5.3" fill="#86806e" opacity="0.79"/><rect x="81.4" y="239.5" width="1.0" height="5.0" fill="#86806e" opacity="0.87"/><rect x="118.3" y="170.1" width="0.9" height="4.3" fill="#7e7666" opacity="0.71"/><rect x="98.8" y="189.7" width="2.0" height="9.2" fill="#767262" opacity="0.91"/><rect x="98.9" y="172.2" width="0.8" height="12.6" fill="#7a7666" opacity="0.62"/><rect x="86.7" y="236.1" width="1.7" height="10.1" fill="#86806e" opacity="0.58"/><rect x="138.2" y="187.2" width="0.8" height="10.2" fill="#7c786a" opacity="0.60"/><rect x="62.4" y="216.1" width="1.8" height="6.0" fill="#767262" opacity="0.85"/><rect x="83.1" y="172.5" width="1.7" height="3.2" fill="#767262" opacity="0.94"/><rect x="80.1" y="208.3" width="1.7" height="7.7" fill="#767262" opacity="0.62"/><rect x="126.4" y="166.0" width="2.2" height="6.0" fill="#7e7666" opacity="0.82"/><rect x="74.6" y="162.8" width="1.3" height="4.5" fill="#7a7666" opacity="0.62"/><rect x="130.2" y="221.5" width="2.2" height="3.2" fill="#7e7666" opacity="0.83"/><rect x="113.8" y="182.1" width="2.0" height="7.7" fill="#7a7666" opacity="0.57"/><rect x="67.9" y="203.8" width="1.8" height="4.6" fill="#767262" opacity="0.62"/><rect x="121.9" y="192.4" width="1.5" height="6.1" fill="#7e7666" opacity="0.61"/><rect x="74.8" y="182.9" width="2.0" height="12.9" fill="#86806e" opacity="0.83"/><rect x="108.5" y="187.6" width="1.7" height="5.5" fill="#7c786a" opacity="0.88"/><rect x="124.8" y="158.1" width="1.3" height="13.9" fill="#86806e" opacity="0.93"/><rect x="76.5" y="158.2" width="1.6" height="8.3" fill="#827a6a" opacity="0.71"/><rect x="54.1" y="162.6" width="0.9" height="10.9" fill="#7c786a" opacity="0.78"/><rect x="132.9" y="145.7" width="1.1" height="7.7" fill="#7c786a" opacity="0.79"/><rect x="75.5" y="211.5" width="1.7" height="10.2" fill="#7c786a" opacity="0.61"/><rect x="87.3" y="226.1" width="1.3" height="13.7" fill="#767262" opacity="0.92"/><rect x="93.2" y="185.8" width="1.7" height="13.6" fill="#827a6a" opacity="0.63"/><rect x="68.3" y="214.5" width="1.0" height="8.1" fill="#827a6a" opacity="0.91"/><rect x="87.2" y="178.6" width="1.2" height="8.7" fill="#827a6a" opacity="0.64"/><rect x="111.8" y="176.0" width="1.4" height="9.0" fill="#7c786a" opacity="0.63"/><rect x="123.7" y="199.5" width="1.0" height="9.0" fill="#86806e" opacity="0.62"/><rect x="116.7" y="151.2" width="1.0" height="6.3" fill="#7a7666" opacity="0.93"/><rect x="88.2" y="155.8" width="2.1" height="8.8" fill="#86806e" opacity="0.58"/><rect x="87.7" y="198.5" width="1.4" height="8.7" fill="#86806e" opacity="0.93"/><rect x="37.1" y="189.6" width="0.8" height="5.1" fill="#7e7666" opacity="0.79"/><rect x="81.3" y="147.8" width="1.5" height="5.8" fill="#767262" opacity="0.84"/><rect x="94.0" y="190.8" width="1.6" height="6.3" fill="#7e7666" opacity="0.92"/><rect x="87.5" y="232.5" width="1.5" height="4.3" fill="#7a7666" opacity="0.94"/><rect x="100.0" y="193.1" width="1.1" height="12.3" fill="#7e7666" opacity="0.81"/><rect x="70.0" y="177.6" width="2.1" height="12.8" fill="#7e7666" opacity="0.68"/><rect x="44.0" y="179.0" width="1.9" height="13.6" fill="#767262" opacity="0.61"/><rect x="35.3" y="172.1" width="1.3" height="13.1" fill="#7a7666" opacity="0.85"/><rect x="27.8" y="224.3" width="0.9" height="11.0" fill="#767262" opacity="0.67"/><rect x="127.1" y="212.9" width="1.7" height="7.8" fill="#7a7666" opacity="0.83"/><rect x="76.3" y="156.6" width="1.4" height="8.5" fill="#767262" opacity="0.86"/><rect x="114.9" y="196.5" width="0.8" height="3.4" fill="#827a6a" opacity="0.89"/><rect x="106.1" y="228.7" width="1.2" height="10.7" fill="#7e7666" opacity="0.67"/><rect x="53.5" y="146.0" width="1.0" height="11.1" fill="#86806e" opacity="0.86"/><rect x="86.4" y="215.5" width="1.7" height="12.2" fill="#7e7666" opacity="0.84"/><rect x="130.3" y="161.9" width="2.0" height="5.6" fill="#7e7666" opacity="0.67"/><rect x="117.4" y="210.2" width="1.5" height="4.7" fill="#86806e" opacity="0.60"/><rect x="95.2" y="194.1" width="0.8" height="12.6" fill="#827a6a" opacity="0.95"/><rect x="117.9" y="204.3" width="1.3" height="8.7" fill="#7e7666" opacity="0.84"/><rect x="36.2" y="209.0" width="1.1" height="11.3" fill="#767262" opacity="0.88"/><rect x="125.9" y="231.3" width="0.9" height="4.4" fill="#827a6a" opacity="0.69"/><rect x="96.7" y="226.3" width="1.5" height="7.5" fill="#86806e" opacity="0.84"/><rect x="105.9" y="206.8" width="1.7" height="13.3" fill="#827a6a" opacity="0.86"/><rect x="138.1" y="146.6" width="1.7" height="6.7" fill="#767262" opacity="0.65"/><rect x="118.0" y="192.7" width="2.1" height="8.3" fill="#827a6a" opacity="0.83"/><rect x="47.2" y="195.4" width="1.7" height="8.2" fill="#7c786a" opacity="0.63"/><rect x="88.8" y="191.1" width="2.0" height="5.3" fill="#7c786a" opacity="0.85"/><rect x="81.6" y="153.5" width="2.0" height="12.9" fill="#767262" opacity="0.62"/><rect x="88.1" y="151.0" width="2.0" height="13.8" fill="#7c786a" opacity="0.79"/><rect x="27.8" y="180.3" width="1.3" height="6.4" fill="#7c786a" opacity="0.69"/><rect x="68.8" y="239.7" width="1.0" height="5.7" fill="#7e7666" opacity="0.67"/><rect x="112.9" y="198.2" width="1.9" height="10.5" fill="#7a7666" opacity="0.65"/><rect x="107.4" y="147.4" width="0.9" height="10.6" fill="#86806e" opacity="0.62"/><rect x="64.2" y="178.9" width="2.0" height="6.9" fill="#7c786a" opacity="0.72"/><rect x="35.6" y="152.0" width="1.9" height="7.4" fill="#7a7666" opacity="0.90"/><rect x="117.8" y="174.8" width="1.4" height="3.3" fill="#7a7666" opacity="0.88"/><rect x="64.7" y="201.8" width="1.8" height="3.9" fill="#7a7666" opacity="0.69"/><rect x="127.7" y="179.7" width="0.9" height="11.8" fill="#7a7666" opacity="0.89"/><rect x="87.9" y="183.9" width="1.8" height="12.1" fill="#7c786a" opacity="0.93"/><rect x="126.1" y="197.2" width="1.6" height="7.6" fill="#827a6a" opacity="0.60"/><rect x="131.9" y="165.0" width="1.3" height="11.6" fill="#7e7666" opacity="0.92"/><rect x="42.1" y="163.5" width="0.8" height="10.2" fill="#86806e" opacity="0.90"/><rect x="70.6" y="173.2" width="2.0" height="12.3" fill="#7a7666" opacity="0.84"/><rect x="47.2" y="153.1" width="1.6" height="8.7" fill="#767262" opacity="0.71"/><rect x="99.5" y="177.5" width="1.8" height="7.5" fill="#86806e" opacity="0.87"/><rect x="68.7" y="225.8" width="1.0" height="10.7" fill="#86806e" opacity="0.83"/><rect x="46.1" y="169.2" width="1.9" height="9.0" fill="#7c786a" opacity="0.74"/><rect x="64.0" y="215.3" width="2.0" height="6.8" fill="#7e7666" opacity="0.94"/><rect x="43.0" y="195.4" width="2.1" height="11.3" fill="#7c786a" opacity="0.89"/><rect x="76.5" y="211.7" width="1.3" height="7.4" fill="#7c786a" opacity="0.60"/><rect x="66.5" y="147.7" width="2.2" height="8.5" fill="#7a7666" opacity="0.77"/><rect x="58.0" y="203.1" width="1.3" height="9.4" fill="#7a7666" opacity="0.78"/><rect x="91.1" y="170.1" width="1.7" height="13.8" fill="#86806e" opacity="0.67"/><rect x="53.4" y="147.5" width="1.7" height="8.2" fill="#7c786a" opacity="0.68"/><rect x="51.5" y="228.7" width="1.1" height="8.9" fill="#827a6a" opacity="0.71"/><rect x="123.1" y="200.4" width="1.7" height="4.6" fill="#827a6a" opacity="0.65"/><rect x="66.6" y="147.8" width="1.1" height="12.7" fill="#767262" opacity="0.78"/><rect x="97.1" y="180.3" width="1.8" height="6.3" fill="#767262" opacity="0.76"/><rect x="134.2" y="179.5" width="1.8" height="5.3" fill="#827a6a" opacity="0.66"/><rect x="65.9" y="223.9" width="2.0" height="9.4" fill="#767262" opacity="0.59"/><rect x="102.4" y="180.8" width="1.8" height="9.2" fill="#767262" opacity="0.93"/><rect x="28.3" y="179.9" width="1.5" height="13.6" fill="#827a6a" opacity="0.89"/><rect x="113.8" y="165.3" width="2.0" height="6.8" fill="#7a7666" opacity="0.79"/><rect x="100.1" y="174.7" width="1.1" height="10.3" fill="#7c786a" opacity="0.79"/><rect x="62.2" y="197.0" width="2.1" height="8.2" fill="#86806e" opacity="0.60"/><rect x="93.5" y="201.3" width="1.8" height="9.3" fill="#827a6a" opacity="0.90"/><rect x="123.4" y="222.9" width="2.0" height="4.6" fill="#767262" opacity="0.74"/><rect x="127.6" y="196.0" width="1.7" height="10.5" fill="#827a6a" opacity="0.71"/><rect x="123.3" y="170.2" width="1.2" height="12.1" fill="#7c786a" opacity="0.75"/><rect x="114.4" y="205.2" width="1.4" height="6.3" fill="#827a6a" opacity="0.60"/><rect x="70.7" y="169.2" width="2.0" height="10.2" fill="#7a7666" opacity="0.81"/><rect x="26.3" y="152.8" width="0.9" height="8.3" fill="#767262" opacity="0.71"/><rect x="126.1" y="189.1" width="1.5" height="4.1" fill="#86806e" opacity="0.74"/><rect x="58.8" y="167.7" width="1.6" height="6.1" fill="#86806e" opacity="0.64"/><rect x="36.4" y="179.9" width="2.1" height="6.0" fill="#86806e" opacity="0.88"/><rect x="90.0" y="163.9" width="1.1" height="4.2" fill="#827a6a" opacity="0.86"/><rect x="93.0" y="204.2" width="2.1" height="11.3" fill="#7c786a" opacity="0.65"/><rect x="26.2" y="193.6" width="1.8" height="7.3" fill="#7e7666" opacity="0.70"/><rect x="33.1" y="229.1" width="1.8" height="7.9" fill="#7c786a" opacity="0.81"/><rect x="116.2" y="178.1" width="1.7" height="12.2" fill="#827a6a" opacity="0.82"/><rect x="27.0" y="175.2" width="1.3" height="5.6" fill="#7a7666" opacity="0.59"/><rect x="28.4" y="198.1" width="1.0" height="8.8" fill="#7a7666" opacity="0.70"/><rect x="35.0" y="145.3" width="0.9" height="9.1" fill="#7a7666" opacity="0.68"/><rect x="118.7" y="163.7" width="2.2" height="7.2" fill="#827a6a" opacity="0.75"/><rect x="48.2" y="164.4" width="1.3" height="11.2" fill="#86806e" opacity="0.94"/><rect x="79.9" y="203.2" width="0.9" height="9.6" fill="#7a7666" opacity="0.92"/><rect x="33.5" y="201.2" width="2.0" height="12.6" fill="#767262" opacity="0.69"/><rect x="104.0" y="175.6" width="1.1" height="4.0" fill="#767262" opacity="0.66"/><rect x="89.5" y="148.0" width="0.9" height="9.8" fill="#827a6a" opacity="0.70"/><rect x="62.9" y="173.8" width="1.2" height="3.4" fill="#7e7666" opacity="0.81"/><rect x="49.4" y="169.6" width="1.2" height="6.2" fill="#7c786a" opacity="0.74"/><rect x="128.5" y="226.1" width="1.7" height="5.4" fill="#7e7666" opacity="0.89"/><rect x="53.3" y="178.2" width="1.0" height="8.4" fill="#86806e" opacity="0.63"/><rect x="110.2" y="199.9" width="1.9" height="11.2" fill="#827a6a" opacity="0.80"/><rect x="83.0" y="156.9" width="1.6" height="12.1" fill="#827a6a" opacity="0.62"/><rect x="124.2" y="175.9" width="1.8" height="9.7" fill="#827a6a" opacity="0.94"/><rect x="85.7" y="221.8" width="1.8" height="10.4" fill="#7a7666" opacity="0.82"/><rect x="125.5" y="212.2" width="1.9" height="6.9" fill="#7a7666" opacity="0.74"/><rect x="125.0" y="192.8" width="1.9" height="12.2" fill="#767262" opacity="0.65"/><rect x="79.4" y="217.2" width="1.7" height="13.3" fill="#7c786a" opacity="0.94"/><rect x="50.1" y="148.8" width="1.8" height="9.6" fill="#767262" opacity="0.61"/><rect x="103.2" y="194.3" width="2.2" height="5.7" fill="#86806e" opacity="0.75"/><rect x="137.0" y="227.3" width="2.2" height="11.2" fill="#86806e" opacity="0.85"/><rect x="77.4" y="219.4" width="1.9" height="11.9" fill="#7e7666" opacity="0.65"/><rect x="61.2" y="161.7" width="2.1" height="10.6" fill="#827a6a" opacity="0.74"/><rect x="34.5" y="194.8" width="1.3" height="13.5" fill="#7a7666" opacity="0.93"/><rect x="89.0" y="180.6" width="2.0" height="11.1" fill="#7a7666" opacity="0.81"/><rect x="36.9" y="180.5" width="1.4" height="7.3" fill="#86806e" opacity="0.86"/><rect x="99.9" y="218.0" width="0.9" height="11.6" fill="#7a7666" opacity="0.77"/><rect x="122.8" y="236.2" width="0.8" height="8.1" fill="#86806e" opacity="0.69"/><rect x="92.9" y="185.0" width="1.3" height="8.0" fill="#86806e" opacity="0.79"/><rect x="53.3" y="151.8" width="1.3" height="10.7" fill="#86806e" opacity="0.57"/><rect x="76.1" y="199.5" width="1.8" height="4.6" fill="#827a6a" opacity="0.94"/><rect x="111.7" y="193.5" width="1.0" height="3.5" fill="#86806e" opacity="0.94"/><rect x="106.1" y="226.6" width="2.2" height="12.6" fill="#767262" opacity="0.62"/><rect x="72.4" y="150.3" width="1.3" height="12.6" fill="#7a7666" opacity="0.85"/><rect x="125.9" y="206.5" width="1.0" height="4.6" fill="#7a7666" opacity="0.90"/><rect x="127.3" y="202.9" width="1.1" height="10.7" fill="#7e7666" opacity="0.83"/><rect x="103.1" y="175.0" width="2.1" height="13.3" fill="#7e7666" opacity="0.71"/><rect x="84.5" y="177.4" width="1.1" height="13.4" fill="#7e7666" opacity="0.64"/><rect x="66.0" y="185.9" width="1.6" height="8.2" fill="#7c786a" opacity="0.87"/><rect x="115.4" y="181.3" width="1.3" height="10.3" fill="#7a7666" opacity="0.73"/><rect x="34.4" y="213.4" width="1.8" height="13.0" fill="#827a6a" opacity="0.71"/><rect x="94.1" y="166.9" width="1.4" height="12.7" fill="#7c786a" opacity="0.90"/><rect x="49.4" y="192.6" width="1.7" height="4.6" fill="#7e7666" opacity="0.80"/><rect x="43.7" y="192.6" width="1.6" height="12.4" fill="#827a6a" opacity="0.74"/><rect x="64.3" y="198.0" width="1.8" height="4.2" fill="#767262" opacity="0.59"/><rect x="135.8" y="209.3" width="0.8" height="7.9" fill="#767262" opacity="0.70"/><rect x="111.5" y="165.3" width="0.8" height="6.4" fill="#7e7666" opacity="0.86"/><rect x="109.8" y="195.9" width="1.1" height="10.2" fill="#7a7666" opacity="0.83"/><rect x="74.6" y="162.8" width="2.0" height="6.1" fill="#86806e" opacity="0.59"/><rect x="85.8" y="198.5" width="1.7" height="6.1" fill="#86806e" opacity="0.57"/><rect x="80.9" y="222.3" width="1.3" height="11.5" fill="#827a6a" opacity="0.68"/><rect x="59.1" y="190.6" width="1.1" height="12.6" fill="#7c786a" opacity="0.78"/><rect x="111.5" y="152.8" width="1.0" height="6.6" fill="#767262" opacity="0.71"/><rect x="57.9" y="188.6" width="1.7" height="13.6" fill="#7e7666" opacity="0.59"/><rect x="94.2" y="232.0" width="2.0" height="6.3" fill="#7c786a" opacity="0.93"/><rect x="87.6" y="158.8" width="1.2" height="7.1" fill="#7a7666" opacity="0.87"/><rect x="107.6" y="172.5" width="1.8" height="7.2" fill="#827a6a" opacity="0.65"/><rect x="34.3" y="218.4" width="2.1" height="13.0" fill="#827a6a" opacity="0.93"/><rect x="36.9" y="170.7" width="1.0" height="12.1" fill="#7c786a" opacity="0.72"/><rect x="56.4" y="181.6" width="1.2" height="6.5" fill="#7e7666" opacity="0.80"/><rect x="105.0" y="217.1" width="1.2" height="4.5" fill="#7e7666" opacity="0.83"/><rect x="118.5" y="213.3" width="0.8" height="6.0" fill="#86806e" opacity="0.92"/><rect x="101.6" y="161.3" width="1.1" height="3.3" fill="#7e7666" opacity="0.68"/><rect x="67.3" y="212.4" width="2.1" height="4.6" fill="#7e7666" opacity="0.88"/><rect x="126.0" y="236.1" width="1.2" height="11.0" fill="#7c786a" opacity="0.60"/><rect x="32.6" y="224.0" width="1.5" height="9.2" fill="#767262" opacity="0.61"/><rect x="69.5" y="190.7" width="1.1" height="9.6" fill="#827a6a" opacity="0.91"/><rect x="83.7" y="164.2" width="2.1" height="6.2" fill="#7c786a" opacity="0.66"/><rect x="83.5" y="177.1" width="1.8" height="4.1" fill="#86806e" opacity="0.81"/><rect x="31.1" y="208.6" width="0.8" height="6.1" fill="#7a7666" opacity="0.67"/><rect x="77.9" y="221.5" width="1.5" height="14.0" fill="#767262" opacity="0.65"/><rect x="54.5" y="150.1" width="1.2" height="7.5" fill="#767262" opacity="0.66"/><rect x="70.0" y="157.3" width="1.5" height="3.9" fill="#7c786a" opacity="0.89"/><rect x="53.5" y="200.9" width="1.2" height="7.5" fill="#7e7666" opacity="0.92"/><rect x="105.1" y="174.1" width="1.1" height="8.8" fill="#86806e" opacity="0.81"/><rect x="68.1" y="170.7" width="1.3" height="6.6" fill="#7c786a" opacity="0.91"/><rect x="39.9" y="151.7" width="2.1" height="9.8" fill="#7e7666" opacity="0.92"/><rect x="26.0" y="174.7" width="1.6" height="7.7" fill="#827a6a" opacity="0.89"/><rect x="63.6" y="207.1" width="1.9" height="11.4" fill="#7a7666" opacity="0.93"/><rect x="131.1" y="232.8" width="1.3" height="4.1" fill="#7c786a" opacity="0.71"/><rect x="58.1" y="226.4" width="1.3" height="13.1" fill="#7a7666" opacity="0.94"/><rect x="87.6" y="215.2" width="2.2" height="12.2" fill="#827a6a" opacity="0.72"/><rect x="108.8" y="179.9" width="1.5" height="12.9" fill="#767262" opacity="0.67"/><rect x="56.4" y="159.5" width="1.4" height="12.4" fill="#7c786a" opacity="0.89"/><rect x="65.6" y="150.6" width="0.9" height="5.7" fill="#827a6a" opacity="0.86"/><rect x="99.8" y="184.0" width="1.0" height="9.4" fill="#7e7666" opacity="0.65"/><rect x="133.5" y="236.0" width="1.9" height="3.8" fill="#7c786a" opacity="0.66"/><rect x="55.3" y="167.4" width="1.8" height="5.9" fill="#86806e" opacity="0.80"/><rect x="77.8" y="212.6" width="1.5" height="4.5" fill="#767262" opacity="0.64"/><rect x="68.5" y="165.4" width="2.0" height="9.2" fill="#827a6a" opacity="0.66"/><rect x="57.8" y="172.2" width="2.2" height="12.7" fill="#86806e" opacity="0.91"/><rect x="132.1" y="181.9" width="1.5" height="3.3" fill="#827a6a" opacity="0.69"/><rect x="126.3" y="184.9" width="1.8" height="8.8" fill="#7c786a" opacity="0.90"/><rect x="46.9" y="181.1" width="1.0" height="9.7" fill="#7c786a" opacity="0.83"/><rect x="129.8" y="148.7" width="2.1" height="9.9" fill="#827a6a" opacity="0.68"/><rect x="118.5" y="228.9" width="1.9" height="3.7" fill="#767262" opacity="0.95"/><rect x="56.6" y="224.7" width="1.5" height="5.2" fill="#86806e" opacity="0.73"/><rect x="126.1" y="175.7" width="1.9" height="11.5" fill="#767262" opacity="0.77"/><rect x="123.4" y="174.3" width="1.0" height="5.5" fill="#7a7666" opacity="0.78"/><rect x="107.4" y="182.3" width="0.8" height="7.7" fill="#767262" opacity="0.69"/><rect x="63.1" y="186.8" width="1.4" height="10.0" fill="#7e7666" opacity="0.80"/><rect x="81.6" y="226.0" width="1.1" height="13.5" fill="#7c786a" opacity="0.92"/><rect x="43.0" y="232.1" width="2.1" height="13.0" fill="#7a7666" opacity="0.85"/><rect x="117.8" y="172.0" width="1.6" height="5.5" fill="#86806e" opacity="0.93"/><rect x="25.2" y="197.7" width="1.4" height="8.2" fill="#7a7666" opacity="0.65"/><rect x="93.2" y="180.9" width="1.5" height="8.5" fill="#7a7666" opacity="0.91"/><rect x="128.8" y="168.1" width="2.2" height="12.1" fill="#7e7666" opacity="0.88"/><rect x="43.4" y="225.3" width="1.3" height="10.6" fill="#7c786a" opacity="0.67"/><rect x="29.8" y="151.5" width="1.1" height="13.4" fill="#86806e" opacity="0.57"/><rect x="54.2" y="196.9" width="1.6" height="8.5" fill="#827a6a" opacity="0.66"/><rect x="53.8" y="210.5" width="1.6" height="3.8" fill="#767262" opacity="0.62"/><rect x="82.7" y="233.2" width="2.1" height="7.6" fill="#86806e" opacity="0.76"/><rect x="129.8" y="193.7" width="1.2" height="9.9" fill="#767262" opacity="0.75"/><rect x="113.2" y="153.8" width="1.3" height="4.2" fill="#86806e" opacity="0.57"/><rect x="99.3" y="175.7" width="2.1" height="4.3" fill="#767262" opacity="0.77"/><rect x="66.7" y="191.9" width="1.1" height="10.4" fill="#767262" opacity="0.63"/><rect x="110.8" y="151.9" width="2.2" height="11.9" fill="#7c786a" opacity="0.72"/><rect x="99.7" y="231.7" width="0.8" height="9.6" fill="#7c786a" opacity="0.81"/><rect x="87.8" y="172.8" width="1.4" height="4.4" fill="#86806e" opacity="0.83"/><rect x="71.8" y="241.0" width="1.8" height="5.1" fill="#7e7666" opacity="0.79"/><rect x="129.7" y="197.0" width="1.0" height="14.0" fill="#7c786a" opacity="0.66"/><rect x="107.5" y="182.1" width="1.1" height="10.8" fill="#827a6a" opacity="0.92"/><rect x="81.4" y="163.7" width="0.9" height="6.1" fill="#827a6a" opacity="0.72"/><rect x="131.0" y="155.8" width="1.1" height="4.9" fill="#7a7666" opacity="0.93"/><rect x="124.9" y="217.1" width="0.8" height="12.5" fill="#86806e" opacity="0.85"/><rect x="68.0" y="193.2" width="1.7" height="11.0" fill="#7e7666" opacity="0.88"/><rect x="82.4" y="217.5" width="1.5" height="4.7" fill="#7a7666" opacity="0.67"/><rect x="125.6" y="230.1" width="0.9" height="5.0" fill="#86806e" opacity="0.70"/><rect x="100.0" y="184.9" width="2.1" height="4.2" fill="#827a6a" opacity="0.78"/><rect x="122.6" y="211.1" width="1.1" height="3.5" fill="#7e7666" opacity="0.95"/><rect x="54.1" y="155.9" width="1.8" height="9.1" fill="#86806e" opacity="0.80"/><rect x="60.1" y="161.3" width="1.7" height="13.5" fill="#7a7666" opacity="0.82"/><rect x="111.6" y="146.7" width="1.4" height="5.0" fill="#86806e" opacity="0.86"/><rect x="63.3" y="238.0" width="1.2" height="8.3" fill="#86806e" opacity="0.85"/><rect x="100.9" y="153.3" width="1.8" height="5.6" fill="#7e7666" opacity="0.70"/><rect x="94.1" y="211.9" width="1.2" height="12.5" fill="#7c786a" opacity="0.70"/><rect x="64.0" y="157.1" width="1.6" height="12.8" fill="#827a6a" opacity="0.91"/><rect x="56.9" y="146.9" width="1.9" height="8.4" fill="#767262" opacity="0.75"/><rect x="106.3" y="201.4" width="1.5" height="11.8" fill="#7e7666" opacity="0.86"/><rect x="52.1" y="148.9" width="1.9" height="8.3" fill="#7c786a" opacity="0.75"/><rect x="95.6" y="192.0" width="0.8" height="10.3" fill="#767262" opacity="0.73"/><rect x="41.7" y="178.0" width="1.2" height="11.1" fill="#7c786a" opacity="0.93"/><rect x="73.3" y="201.6" width="1.1" height="6.5" fill="#7e7666" opacity="0.84"/><rect x="35.0" y="171.3" width="1.3" height="9.5" fill="#7a7666" opacity="0.73"/><rect x="35.9" y="176.1" width="1.7" height="5.0" fill="#827a6a" opacity="0.61"/><rect x="51.3" y="224.8" width="1.9" height="4.2" fill="#86806e" opacity="0.90"/><rect x="76.1" y="196.5" width="0.8" height="11.0" fill="#7e7666" opacity="0.60"/><rect x="101.6" y="189.5" width="2.1" height="13.8" fill="#7c786a" opacity="0.71"/><rect x="83.8" y="154.8" width="1.3" height="8.8" fill="#7a7666" opacity="0.71"/><rect x="132.7" y="201.7" width="2.0" height="3.1" fill="#7e7666" opacity="0.65"/><rect x="108.8" y="187.4" width="2.0" height="12.6" fill="#7c786a" opacity="0.64"/><rect x="37.5" y="190.5" width="2.0" height="12.3" fill="#7e7666" opacity="0.95"/><rect x="87.7" y="177.0" width="2.2" height="7.4" fill="#7c786a" opacity="0.93"/><rect x="74.1" y="191.2" width="0.9" height="3.3" fill="#7e7666" opacity="0.92"/><rect x="96.3" y="203.9" width="1.3" height="6.0" fill="#827a6a" opacity="0.82"/><rect x="78.3" y="165.4" width="2.0" height="7.6" fill="#827a6a" opacity="0.61"/><rect x="133.3" y="222.5" width="2.0" height="10.3" fill="#86806e" opacity="0.88"/><rect x="103.2" y="165.3" width="1.5" height="6.3" fill="#767262" opacity="0.66"/><rect x="33.4" y="156.1" width="1.2" height="12.1" fill="#767262" opacity="0.81"/><rect x="107.3" y="170.2" width="1.7" height="12.3" fill="#7e7666" opacity="0.61"/><rect x="26.3" y="210.3" width="1.2" height="11.4" fill="#7a7666" opacity="0.77"/><rect x="95.9" y="152.6" width="1.9" height="3.2" fill="#86806e" opacity="0.81"/><rect x="101.1" y="163.7" width="1.9" height="6.8" fill="#86806e" opacity="0.75"/><rect x="41.5" y="170.7" width="0.9" height="8.7" fill="#7e7666" opacity="0.68"/><rect x="98.8" y="151.1" width="1.0" height="4.1" fill="#86806e" opacity="0.87"/><rect x="38.2" y="146.0" width="2.1" height="9.3" fill="#7c786a" opacity="0.69"/><rect x="66.0" y="189.9" width="2.0" height="11.3" fill="#767262" opacity="0.84"/><rect x="31.6" y="182.0" width="1.9" height="5.4" fill="#827a6a" opacity="0.77"/><rect x="110.3" y="175.5" width="1.4" height="5.8" fill="#7a7666" opacity="0.71"/><rect x="63.2" y="167.1" width="0.9" height="6.9" fill="#86806e" opacity="0.58"/><rect x="50.3" y="179.4" width="1.4" height="6.2" fill="#827a6a" opacity="0.93"/><rect x="46.8" y="234.6" width="1.2" height="6.1" fill="#7a7666" opacity="0.65"/><rect x="49.4" y="160.7" width="1.1" height="3.8" fill="#7a7666" opacity="0.90"/><rect x="34.9" y="164.2" width="1.5" height="8.0" fill="#827a6a" opacity="0.57"/><rect x="56.7" y="201.4" width="1.1" height="8.6" fill="#7c786a" opacity="0.90"/><rect x="73.6" y="203.7" width="2.1" height="12.9" fill="#7a7666" opacity="0.88"/><rect x="33.7" y="156.3" width="1.3" height="4.7" fill="#86806e" opacity="0.88"/><rect x="85.2" y="173.0" width="2.0" height="3.1" fill="#827a6a" opacity="0.61"/><rect x="81.9" y="204.4" width="1.3" height="11.0" fill="#7e7666" opacity="0.90"/><rect x="28.0" y="159.9" width="0.9" height="6.2" fill="#767262" opacity="0.60"/><rect x="78.6" y="215.6" width="2.0" height="9.7" fill="#7e7666" opacity="0.80"/><rect x="88.8" y="220.1" width="1.9" height="7.2" fill="#827a6a" opacity="0.76"/><rect x="93.6" y="206.6" width="1.5" height="12.6" fill="#7c786a" opacity="0.72"/><rect x="113.6" y="177.0" width="1.7" height="4.7" fill="#86806e" opacity="0.58"/><rect x="52.2" y="156.1" width="1.8" height="7.7" fill="#7a7666" opacity="0.91"/><rect x="50.2" y="212.4" width="1.0" height="12.0" fill="#7a7666" opacity="0.76"/><rect x="92.3" y="192.2" width="1.4" height="7.8" fill="#7c786a" opacity="0.66"/><rect x="109.0" y="149.9" width="1.5" height="13.3" fill="#86806e" opacity="0.70"/><rect x="120.5" y="170.8" width="2.0" height="8.1" fill="#767262" opacity="0.61"/><rect x="102.4" y="207.4" width="1.7" height="9.5" fill="#7c786a" opacity="0.93"/><rect x="71.4" y="164.7" width="2.1" height="13.2" fill="#767262" opacity="0.79"/><rect x="96.3" y="234.6" width="1.4" height="10.5" fill="#767262" opacity="0.78"/><rect x="111.8" y="181.5" width="1.0" height="10.0" fill="#7a7666" opacity="0.74"/><rect x="118.1" y="225.9" width="2.1" height="3.0" fill="#86806e" opacity="0.93"/><rect x="44.8" y="156.0" width="0.9" height="7.6" fill="#767262" opacity="0.84"/><rect x="67.7" y="228.6" width="1.8" height="4.9" fill="#86806e" opacity="0.91"/><rect x="119.9" y="182.6" width="1.8" height="8.6" fill="#767262" opacity="0.77"/><rect x="107.0" y="219.3" width="2.2" height="10.2" fill="#7c786a" opacity="0.63"/><rect x="120.6" y="206.0" width="1.6" height="12.5" fill="#7e7666" opacity="0.57"/><rect x="119.5" y="183.5" width="1.9" height="9.9" fill="#7e7666" opacity="0.77"/><rect x="115.1" y="161.7" width="2.2" height="5.6" fill="#767262" opacity="0.78"/><rect x="108.8" y="236.8" width="1.1" height="12.7" fill="#7a7666" opacity="0.75"/><rect x="89.3" y="183.8" width="1.3" height="13.9" fill="#7c786a" opacity="0.70"/><rect x="108.2" y="157.8" width="1.7" height="4.1" fill="#7c786a" opacity="0.83"/><rect x="50.7" y="191.2" width="1.1" height="11.5" fill="#827a6a" opacity="0.67"/><rect x="115.3" y="147.9" width="1.5" height="12.4" fill="#767262" opacity="0.57"/><rect x="95.9" y="214.1" width="2.0" height="8.9" fill="#827a6a" opacity="0.87"/><rect x="126.6" y="206.1" width="1.8" height="5.3" fill="#827a6a" opacity="0.92"/><rect x="69.3" y="240.9" width="2.0" height="5.7" fill="#7a7666" opacity="0.82"/><rect x="48.2" y="204.8" width="1.4" height="12.3" fill="#7a7666" opacity="0.80"/><rect x="46.4" y="211.3" width="1.1" height="8.3" fill="#767262" opacity="0.64"/><rect x="81.1" y="194.8" width="1.9" height="12.8" fill="#7a7666" opacity="0.74"/><rect x="132.6" y="185.1" width="1.2" height="12.5" fill="#7c786a" opacity="0.68"/><rect x="76.5" y="234.2" width="1.0" height="5.6" fill="#86806e" opacity="0.90"/><rect x="101.7" y="167.8" width="1.3" height="13.4" fill="#86806e" opacity="0.58"/><rect x="119.9" y="174.0" width="1.0" height="6.4" fill="#827a6a" opacity="0.91"/><rect x="97.0" y="222.1" width="1.9" height="13.4" fill="#7e7666" opacity="0.92"/><rect x="92.6" y="155.4" width="0.8" height="12.7" fill="#827a6a" opacity="0.81"/><rect x="111.5" y="214.4" width="0.9" height="3.1" fill="#767262" opacity="0.62"/><rect x="117.3" y="152.0" width="2.1" height="5.2" fill="#827a6a" opacity="0.81"/><rect x="90.2" y="172.9" width="2.0" height="10.4" fill="#7c786a" opacity="0.88"/><rect x="53.5" y="236.8" width="1.5" height="11.0" fill="#827a6a" opacity="0.60"/><rect x="39.3" y="186.5" width="1.6" height="9.7" fill="#7c786a" opacity="0.61"/><rect x="83.3" y="235.9" width="1.0" height="5.1" fill="#7c786a" opacity="0.79"/><rect x="133.8" y="235.7" width="1.3" height="9.8" fill="#7a7666" opacity="0.60"/><rect x="28.8" y="174.1" width="1.7" height="9.3" fill="#86806e" opacity="0.76"/><rect x="54.3" y="200.0" width="1.2" height="9.1" fill="#7a7666" opacity="0.74"/><rect x="59.1" y="228.4" width="1.2" height="13.9" fill="#767262" opacity="0.88"/><rect x="96.2" y="232.7" width="1.5" height="10.0" fill="#7c786a" opacity="0.73"/><rect x="52.8" y="172.8" width="0.9" height="10.5" fill="#7a7666" opacity="0.77"/><rect x="128.0" y="203.4" width="0.8" height="11.7" fill="#7e7666" opacity="0.67"/><rect x="99.5" y="219.8" width="1.4" height="11.5" fill="#767262" opacity="0.94"/><rect x="56.6" y="213.0" width="1.1" height="12.0" fill="#767262" opacity="0.64"/><rect x="38.4" y="207.8" width="2.1" height="12.8" fill="#827a6a" opacity="0.70"/><rect x="98.4" y="148.4" width="1.5" height="7.6" fill="#767262" opacity="0.84"/><rect x="55.8" y="166.0" width="1.5" height="10.2" fill="#767262" opacity="0.63"/><rect x="101.0" y="212.8" width="1.4" height="11.9" fill="#827a6a" opacity="0.77"/><rect x="58.8" y="229.8" width="1.5" height="12.4" fill="#767262" opacity="0.93"/><rect x="111.0" y="193.3" width="1.0" height="9.7" fill="#7e7666" opacity="0.82"/><rect x="118.3" y="161.4" width="1.9" height="3.1" fill="#86806e" opacity="0.76"/><rect x="72.4" y="155.7" width="1.4" height="11.3" fill="#7c786a" opacity="0.69"/><rect x="103.2" y="194.4" width="1.7" height="12.9" fill="#767262" opacity="0.58"/><rect x="61.2" y="201.3" width="1.3" height="11.2" fill="#7a7666" opacity="0.85"/><rect x="99.4" y="191.9" width="1.7" height="4.2" fill="#767262" opacity="0.88"/><rect x="70.1" y="226.2" width="1.6" height="11.9" fill="#827a6a" opacity="0.87"/><rect x="57.4" y="150.7" width="1.4" height="3.1" fill="#7e7666" opacity="0.67"/><rect x="130.8" y="172.9" width="1.1" height="8.1" fill="#7a7666" opacity="0.69"/><rect x="101.5" y="146.1" width="1.8" height="8.5" fill="#7e7666" opacity="0.74"/><rect x="45.4" y="185.3" width="1.6" height="3.5" fill="#7c786a" opacity="0.57"/><rect x="107.9" y="213.9" width="1.5" height="11.5" fill="#7e7666" opacity="0.72"/><rect x="111.3" y="224.1" width="1.5" height="6.2" fill="#86806e" opacity="0.84"/><rect x="89.6" y="167.0" width="1.6" height="9.6" fill="#767262" opacity="0.59"/><rect x="93.4" y="182.5" width="2.1" height="11.1" fill="#767262" opacity="0.86"/><rect x="45.9" y="182.8" width="1.1" height="9.0" fill="#827a6a" opacity="0.83"/><rect x="28.9" y="182.6" width="1.2" height="5.3" fill="#7a7666" opacity="0.67"/><rect x="132.8" y="163.7" width="0.9" height="3.9" fill="#827a6a" opacity="0.87"/><rect x="46.3" y="161.8" width="2.0" height="10.9" fill="#767262" opacity="0.89"/><rect x="116.7" y="173.6" width="1.1" height="12.2" fill="#767262" opacity="0.81"/><rect x="131.4" y="183.9" width="0.9" height="3.5" fill="#827a6a" opacity="0.66"/><rect x="63.7" y="175.8" width="1.7" height="10.7" fill="#767262" opacity="0.65"/><rect x="117.6" y="222.7" width="1.0" height="7.7" fill="#827a6a" opacity="0.59"/><rect x="138.5" y="221.0" width="1.2" height="11.3" fill="#86806e" opacity="0.62"/><rect x="43.4" y="203.0" width="1.1" height="5.1" fill="#827a6a" opacity="0.78"/><rect x="59.0" y="180.9" width="2.0" height="5.7" fill="#86806e" opacity="0.94"/><rect x="57.9" y="162.2" width="2.2" height="8.5" fill="#7c786a" opacity="0.82"/><rect x="62.1" y="226.4" width="1.7" height="11.6" fill="#7a7666" opacity="0.81"/><rect x="106.2" y="231.8" width="1.8" height="4.3" fill="#7c786a" opacity="0.73"/><rect x="54.7" y="204.2" width="2.1" height="5.0" fill="#7a7666" opacity="0.88"/><rect x="107.0" y="150.6" width="2.0" height="13.2" fill="#7c786a" opacity="0.83"/><rect x="40.1" y="236.2" width="1.3" height="6.8" fill="#7c786a" opacity="0.83"/><rect x="103.8" y="183.1" width="1.3" height="4.5" fill="#7a7666" opacity="0.87"/><rect x="32.8" y="169.4" width="1.6" height="7.2" fill="#7a7666" opacity="0.69"/><rect x="67.2" y="156.1" width="1.5" height="12.7" fill="#7a7666" opacity="0.83"/><rect x="41.3" y="164.1" width="1.1" height="13.8" fill="#7e7666" opacity="0.72"/><rect x="38.5" y="225.5" width="1.6" height="5.4" fill="#7a7666" opacity="0.57"/><rect x="65.7" y="173.8" width="1.3" height="11.3" fill="#767262" opacity="0.61"/><rect x="108.3" y="145.1" width="1.0" height="5.3" fill="#827a6a" opacity="0.90"/><rect x="40.8" y="199.3" width="1.8" height="13.4" fill="#7a7666" opacity="0.58"/><rect x="45.7" y="161.3" width="1.8" height="4.2" fill="#7e7666" opacity="0.90"/><rect x="131.8" y="232.9" width="0.9" height="7.1" fill="#7e7666" opacity="0.61"/><rect x="138.6" y="173.1" width="0.8" height="4.8" fill="#7e7666" opacity="0.82"/><rect x="93.1" y="236.3" width="1.2" height="6.9" fill="#767262" opacity="0.82"/><rect x="131.4" y="156.8" width="1.8" height="12.3" fill="#86806e" opacity="0.57"/><rect x="81.0" y="151.4" width="1.6" height="12.1" fill="#7a7666" opacity="0.83"/><rect x="134.9" y="209.1" width="1.0" height="7.7" fill="#767262" opacity="0.71"/><rect x="113.7" y="223.2" width="1.1" height="9.4" fill="#7a7666" opacity="0.86"/><rect x="49.2" y="196.7" width="1.1" height="13.3" fill="#767262" opacity="0.68"/><rect x="37.2" y="155.2" width="1.9" height="9.1" fill="#827a6a" opacity="0.94"/><rect x="49.2" y="228.3" width="1.9" height="14.0" fill="#7c786a" opacity="0.91"/><rect x="80.1" y="207.1" width="1.1" height="9.5" fill="#827a6a" opacity="0.79"/><rect x="125.8" y="166.8" width="1.3" height="10.9" fill="#7e7666" opacity="0.66"/><rect x="90.6" y="177.9" width="1.2" height="10.0" fill="#7a7666" opacity="0.75"/><rect x="51.7" y="188.3" width="1.7" height="6.2" fill="#7c786a" opacity="0.81"/><rect x="118.9" y="234.7" width="1.9" height="6.1" fill="#7a7666" opacity="0.67"/><rect x="47.7" y="217.4" width="1.1" height="6.8" fill="#7e7666" opacity="0.92"/><rect x="90.7" y="185.3" width="1.6" height="5.7" fill="#827a6a" opacity="0.63"/><rect x="115.1" y="179.8" width="1.9" height="9.3" fill="#7c786a" opacity="0.63"/><rect x="95.5" y="175.3" width="2.1" height="5.0" fill="#7c786a" opacity="0.61"/><rect x="65.7" y="225.4" width="1.0" height="7.2" fill="#7c786a" opacity="0.74"/><rect x="76.4" y="228.4" width="1.3" height="7.1" fill="#86806e" opacity="0.65"/><rect x="45.8" y="184.8" width="1.8" height="9.1" fill="#86806e" opacity="0.57"/><rect x="70.0" y="223.2" width="1.6" height="7.2" fill="#767262" opacity="0.64"/><rect x="126.0" y="192.3" width="1.6" height="9.9" fill="#7e7666" opacity="0.87"/><rect x="118.7" y="236.2" width="1.3" height="12.6" fill="#7a7666" opacity="0.77"/><rect x="103.9" y="238.2" width="1.4" height="8.1" fill="#827a6a" opacity="0.94"/><rect x="137.3" y="204.0" width="1.8" height="3.9" fill="#86806e" opacity="0.58"/><rect x="88.3" y="178.3" width="1.1" height="9.8" fill="#827a6a" opacity="0.65"/><rect x="62.5" y="216.7" width="2.2" height="12.3" fill="#7a7666" opacity="0.58"/><rect x="46.9" y="209.4" width="1.5" height="5.8" fill="#7c786a" opacity="0.70"/><rect x="28.7" y="179.7" width="1.1" height="11.8" fill="#827a6a" opacity="0.80"/><rect x="122.1" y="162.5" width="2.0" height="7.7" fill="#827a6a" opacity="0.92"/><rect x="42.5" y="149.6" width="1.2" height="10.8" fill="#7c786a" opacity="0.71"/><rect x="102.2" y="225.1" width="0.9" height="13.4" fill="#767262" opacity="0.81"/><rect x="131.3" y="154.6" width="1.4" height="11.6" fill="#7c786a" opacity="0.80"/><rect x="130.0" y="152.0" width="1.9" height="3.9" fill="#86806e" opacity="0.74"/><rect x="131.0" y="214.8" width="1.9" height="4.3" fill="#7a7666" opacity="0.73"/><rect x="125.1" y="152.7" width="1.1" height="7.3" fill="#86806e" opacity="0.57"/><rect x="35.5" y="166.9" width="1.1" height="4.1" fill="#767262" opacity="0.76"/><rect x="30.7" y="222.4" width="2.1" height="5.2" fill="#7c786a" opacity="0.75"/><rect x="132.1" y="221.6" width="1.0" height="8.4" fill="#767262" opacity="0.58"/><rect x="119.1" y="214.1" width="1.8" height="3.6" fill="#7e7666" opacity="0.66"/><rect x="41.7" y="195.4" width="1.5" height="7.3" fill="#7a7666" opacity="0.89"/><rect x="99.6" y="146.9" width="1.8" height="6.4" fill="#7a7666" opacity="0.59"/><rect x="38.3" y="188.8" width="0.8" height="4.4" fill="#7c786a" opacity="0.87"/><rect x="75.4" y="176.4" width="2.1" height="3.6" fill="#86806e" opacity="0.77"/><rect x="127.7" y="182.8" width="2.1" height="8.1" fill="#827a6a" opacity="0.74"/><rect x="83.7" y="177.6" width="1.3" height="4.8" fill="#7c786a" opacity="0.84"/><rect x="130.3" y="239.0" width="1.5" height="7.1" fill="#767262" opacity="0.89"/><rect x="118.6" y="203.8" width="1.1" height="4.9" fill="#7c786a" opacity="0.69"/><rect x="123.3" y="202.7" width="1.7" height="4.3" fill="#767262" opacity="0.83"/><rect x="79.6" y="227.9" width="1.4" height="6.8" fill="#86806e" opacity="0.77"/><rect x="43.1" y="145.7" width="1.5" height="7.4" fill="#7c786a" opacity="0.90"/><rect x="59.8" y="213.9" width="1.6" height="3.7" fill="#827a6a" opacity="0.77"/><rect x="37.8" y="208.8" width="1.1" height="9.2" fill="#7e7666" opacity="0.77"/><rect x="127.5" y="236.0" width="1.8" height="8.8" fill="#7e7666" opacity="0.59"/><rect x="122.3" y="226.5" width="2.1" height="4.3" fill="#7c786a" opacity="0.64"/><rect x="80.7" y="171.4" width="2.1" height="10.3" fill="#86806e" opacity="0.75"/><rect x="136.6" y="193.3" width="2.0" height="12.6" fill="#86806e" opacity="0.73"/><rect x="35.2" y="148.2" width="1.3" height="5.3" fill="#827a6a" opacity="0.89"/><rect x="84.4" y="177.1" width="1.3" height="4.2" fill="#86806e" opacity="0.65"/><rect x="120.6" y="160.0" width="1.0" height="13.8" fill="#7e7666" opacity="0.83"/><rect x="67.9" y="211.7" width="1.7" height="8.0" fill="#7e7666" opacity="0.82"/><rect x="87.2" y="152.0" width="1.6" height="6.0" fill="#767262" opacity="0.62"/><rect x="61.1" y="172.4" width="1.5" height="13.8" fill="#827a6a" opacity="0.76"/><rect x="25.6" y="204.1" width="1.5" height="8.9" fill="#7e7666" opacity="0.62"/><rect x="77.5" y="149.1" width="1.6" height="5.7" fill="#767262" opacity="0.89"/><rect x="111.9" y="169.9" width="1.7" height="5.9" fill="#86806e" opacity="0.85"/><rect x="84.7" y="165.9" width="2.1" height="9.0" fill="#86806e" opacity="0.68"/><rect x="50.7" y="181.7" width="1.7" height="7.4" fill="#86806e" opacity="0.69"/><rect x="77.1" y="211.9" width="2.0" height="10.3" fill="#7c786a" opacity="0.79"/><rect x="111.4" y="148.4" width="1.3" height="12.2" fill="#7c786a" opacity="0.70"/><rect x="59.3" y="166.4" width="2.1" height="10.4" fill="#7a7666" opacity="0.75"/><rect x="94.7" y="180.8" width="1.5" height="10.6" fill="#86806e" opacity="0.94"/><rect x="108.0" y="173.9" width="2.0" height="11.3" fill="#7c786a" opacity="0.92"/><rect x="118.0" y="161.8" width="1.3" height="4.2" fill="#767262" opacity="0.79"/><rect x="26.3" y="189.3" width="0.9" height="7.8" fill="#7a7666" opacity="0.79"/><rect x="122.7" y="192.2" width="1.2" height="4.1" fill="#86806e" opacity="0.76"/><rect x="56.6" y="196.9" width="2.1" height="13.1" fill="#7c786a" opacity="0.92"/><rect x="121.5" y="197.1" width="1.2" height="5.2" fill="#767262" opacity="0.74"/><rect x="49.7" y="189.5" width="1.5" height="13.5" fill="#7e7666" opacity="0.85"/><rect x="104.2" y="158.6" width="0.9" height="9.5" fill="#827a6a" opacity="0.89"/></g></g>
<path d="M375,1058 H490" stroke="#ff0000" stroke-width="5" stroke-linecap="round"/>
<g transform="translate(503,934)"><use href="#tissue"/><g clip-path="url(#tc)"><g filter="url(#gb10)"><path d="M195,-10 L254,-10 L254,60 L225,60 L200,35 Z" fill="#826e64" opacity="0.85"/><path d="M225,50 L254,50 L254,140 L230,140 Z" fill="#7a5a5a" opacity="0.45"/><path d="M0,150 L60,150 L140,200 L150,254 L0,254 Z" fill="#7e6e64" opacity="0.5"/><path d="M95,140 L200,150 L210,200 L140,205 Z" fill="#8a8070" opacity="0.4"/></g><g opacity="0.8"><circle cx="90.1" cy="166.0" r="0.7" fill="#c84858"/><circle cx="33.7" cy="177.5" r="1.3" fill="#e06070"/><circle cx="15.6" cy="199.8" r="1.2" fill="#c84858"/><circle cx="125.0" cy="167.4" r="1.3" fill="#e06070"/><circle cx="76.3" cy="158.0" r="1.0" fill="#d25064"/><circle cx="89.2" cy="191.5" r="1.3" fill="#c84858"/><circle cx="102.9" cy="199.4" r="1.4" fill="#e06070"/><circle cx="91.9" cy="213.0" r="1.2" fill="#d25064"/><circle cx="117.7" cy="185.5" r="1.2" fill="#d25064"/><circle cx="107.2" cy="190.5" r="1.1" fill="#e06070"/><circle cx="114.6" cy="184.2" r="0.7" fill="#d25064"/><circle cx="92.1" cy="190.7" r="1.2" fill="#c84858"/><circle cx="135.4" cy="222.1" r="1.2" fill="#e06070"/><circle cx="93.1" cy="194.2" r="1.4" fill="#c84858"/><circle cx="91.3" cy="231.6" r="1.0" fill="#c84858"/><circle cx="41.8" cy="169.3" r="0.8" fill="#c84858"/><circle cx="91.0" cy="200.2" r="1.5" fill="#e06070"/><circle cx="61.8" cy="238.1" r="1.1" fill="#d25064"/><circle cx="111.2" cy="199.2" r="0.9" fill="#e06070"/><circle cx="64.0" cy="233.4" r="1.3" fill="#d25064"/><circle cx="68.2" cy="212.3" r="0.8" fill="#d25064"/><circle cx="27.8" cy="206.4" r="1.1" fill="#c84858"/><circle cx="20.5" cy="186.6" r="0.8" fill="#d25064"/><circle cx="110.9" cy="150.4" r="0.7" fill="#e06070"/><circle cx="104.7" cy="189.0" r="0.9" fill="#d25064"/><circle cx="99.2" cy="228.3" r="1.0" fill="#c84858"/><circle cx="70.5" cy="225.8" r="0.8" fill="#e06070"/><circle cx="36.9" cy="219.6" r="1.2" fill="#e06070"/><circle cx="32.1" cy="224.3" r="0.7" fill="#e06070"/><circle cx="109.4" cy="237.0" r="1.3" fill="#c84858"/><circle cx="11.0" cy="176.0" r="1.1" fill="#d25064"/><circle cx="65.5" cy="238.7" r="0.8" fill="#d25064"/><circle cx="134.8" cy="210.0" r="1.3" fill="#e06070"/><circle cx="30.4" cy="214.8" r="0.7" fill="#d25064"/><circle cx="122.7" cy="155.7" r="1.3" fill="#d25064"/><circle cx="129.6" cy="162.8" r="1.3" fill="#c84858"/><circle cx="72.7" cy="232.7" r="1.2" fill="#e06070"/><circle cx="70.9" cy="224.1" r="1.1" fill="#c84858"/><circle cx="28.0" cy="150.8" r="0.8" fill="#c84858"/><circle cx="127.0" cy="164.2" r="1.6" fill="#e06070"/><circle cx="35.5" cy="158.4" r="1.6" fill="#c84858"/><circle cx="134.6" cy="152.9" r="1.4" fill="#c84858"/><circle cx="85.3" cy="165.2" r="1.1" fill="#e06070"/><circle cx="127.4" cy="232.5" r="0.9" fill="#c84858"/><circle cx="43.8" cy="235.1" r="0.8" fill="#c84858"/><circle cx="25.9" cy="226.5" r="1.3" fill="#c84858"/><circle cx="29.8" cy="156.3" r="0.8" fill="#d25064"/><circle cx="61.6" cy="210.0" r="1.5" fill="#e06070"/><circle cx="54.0" cy="194.4" r="0.7" fill="#e06070"/><circle cx="68.1" cy="169.6" r="0.9" fill="#c84858"/><circle cx="24.2" cy="214.9" r="0.8" fill="#e06070"/><circle cx="79.8" cy="217.9" r="0.9" fill="#c84858"/><circle cx="99.4" cy="243.4" r="0.7" fill="#d25064"/><circle cx="13.3" cy="160.6" r="1.5" fill="#e06070"/><circle cx="136.3" cy="155.3" r="1.1" fill="#e06070"/><circle cx="102.0" cy="155.6" r="1.6" fill="#d25064"/><circle cx="59.4" cy="226.4" r="1.0" fill="#c84858"/><circle cx="51.9" cy="225.6" r="0.8" fill="#c84858"/><circle cx="99.4" cy="236.1" r="1.6" fill="#d25064"/><circle cx="92.4" cy="176.7" r="1.4" fill="#d25064"/><circle cx="81.9" cy="226.8" r="0.7" fill="#e06070"/><circle cx="76.8" cy="168.1" r="0.9" fill="#d25064"/><circle cx="32.6" cy="170.6" r="0.6" fill="#c84858"/><circle cx="45.3" cy="235.0" r="1.2" fill="#d25064"/><circle cx="136.4" cy="191.3" r="1.6" fill="#e06070"/><circle cx="41.9" cy="205.0" r="1.3" fill="#d25064"/><circle cx="73.7" cy="198.1" r="1.3" fill="#c84858"/><circle cx="126.5" cy="197.4" r="0.6" fill="#c84858"/><circle cx="64.6" cy="223.5" r="0.8" fill="#c84858"/><circle cx="65.1" cy="219.6" r="1.6" fill="#e06070"/></g><g opacity="0.6"><circle cx="184.5" cy="127.2" r="1.1" fill="#a04858"/><circle cx="180.5" cy="124.2" r="0.9" fill="#a04858"/><circle cx="168.0" cy="84.6" r="1.3" fill="#b05060"/><circle cx="229.8" cy="63.9" r="0.9" fill="#a04858"/><circle cx="199.7" cy="123.7" r="0.7" fill="#a04858"/><circle cx="185.8" cy="88.0" r="1.5" fill="#a04858"/><circle cx="233.2" cy="116.7" r="1.4" fill="#b05060"/><circle cx="242.6" cy="133.3" r="1.4" fill="#b05060"/><circle cx="211.0" cy="130.7" r="0.9" fill="#a04858"/><circle cx="167.7" cy="119.9" r="0.9" fill="#a04858"/><circle cx="158.8" cy="108.1" r="1.0" fill="#b05060"/><circle cx="233.6" cy="87.9" r="0.8" fill="#b05060"/><circle cx="165.9" cy="83.3" r="1.6" fill="#b05060"/><circle cx="229.5" cy="95.9" r="1.1" fill="#a04858"/><circle cx="232.7" cy="100.2" r="0.9" fill="#a04858"/><circle cx="161.3" cy="133.3" r="0.6" fill="#a04858"/><circle cx="236.7" cy="50.7" r="1.4" fill="#b05060"/><circle cx="199.0" cy="64.4" r="1.4" fill="#a04858"/><circle cx="223.2" cy="93.0" r="1.2" fill="#a04858"/><circle cx="213.1" cy="123.7" r="0.8" fill="#b05060"/><circle cx="168.4" cy="68.1" r="1.5" fill="#a04858"/><circle cx="185.2" cy="117.6" r="1.1" fill="#b05060"/><circle cx="166.6" cy="56.7" r="1.1" fill="#a04858"/><circle cx="239.6" cy="111.2" r="0.7" fill="#b05060"/><circle cx="206.5" cy="124.4" r="0.9" fill="#a04858"/><circle cx="210.4" cy="107.4" r="0.8" fill="#b05060"/><circle cx="196.2" cy="109.4" r="0.8" fill="#a04858"/><circle cx="208.1" cy="58.3" r="1.3" fill="#b05060"/><circle cx="208.1" cy="112.2" r="0.9" fill="#b05060"/><circle cx="233.9" cy="133.4" r="1.5" fill="#b05060"/><circle cx="186.6" cy="59.6" r="1.3" fill="#b05060"/><circle cx="196.0" cy="124.9" r="1.6" fill="#a04858"/><circle cx="223.7" cy="134.7" r="0.7" fill="#a04858"/><circle cx="203.8" cy="130.0" r="1.5" fill="#a04858"/><circle cx="161.6" cy="117.5" r="1.0" fill="#b05060"/><circle cx="223.4" cy="54.0" r="1.4" fill="#b05060"/><circle cx="169.7" cy="90.8" r="1.0" fill="#b05060"/><circle cx="186.1" cy="75.5" r="1.1" fill="#b05060"/><circle cx="222.5" cy="67.1" r="1.3" fill="#b05060"/><circle cx="187.3" cy="108.1" r="0.8" fill="#b05060"/><circle cx="223.8" cy="76.8" r="1.2" fill="#b05060"/><circle cx="216.3" cy="95.2" r="1.2" fill="#b05060"/><circle cx="238.5" cy="69.0" r="0.8" fill="#a04858"/><circle cx="196.4" cy="124.5" r="1.4" fill="#a04858"/><circle cx="171.9" cy="138.1" r="1.4" fill="#a04858"/><circle cx="216.6" cy="114.5" r="1.3" fill="#a04858"/><circle cx="188.0" cy="106.6" r="1.1" fill="#b05060"/><circle cx="195.8" cy="123.8" r="1.2" fill="#a04858"/><circle cx="167.2" cy="50.5" r="0.8" fill="#b05060"/><circle cx="204.4" cy="97.3" r="0.8" fill="#a04858"/></g><g opacity="0.5"><circle cx="134.8" cy="166.2" r="0.9" fill="#6a5a5a"/><circle cx="55.8" cy="228.6" r="0.7" fill="#5a4a50"/><circle cx="174.0" cy="243.8" r="0.7" fill="#6a5a5a"/><circle cx="69.9" cy="164.3" r="0.5" fill="#5a4a50"/><circle cx="137.9" cy="171.6" r="0.6" fill="#6a5a5a"/><circle cx="152.0" cy="225.9" r="0.8" fill="#5a4a50"/><circle cx="148.1" cy="204.2" r="0.4" fill="#6a5a5a"/><circle cx="45.8" cy="240.0" r="0.5" fill="#6a5a5a"/><circle cx="157.1" cy="170.7" r="0.6" fill="#6a5a5a"/><circle cx="128.2" cy="228.1" r="0.5" fill="#6a5a5a"/><circle cx="93.0" cy="216.5" r="0.7" fill="#6a5a5a"/><circle cx="89.7" cy="232.7" r="0.6" fill="#5a4a50"/><circle cx="85.6" cy="234.6" r="0.5" fill="#6a5a5a"/><circle cx="129.6" cy="168.9" r="0.7" fill="#6a5a5a"/><circle cx="93.8" cy="188.5" r="0.8" fill="#6a5a5a"/><circle cx="94.2" cy="184.8" r="0.5" fill="#5a4a50"/><circle cx="112.8" cy="240.0" r="0.6" fill="#6a5a5a"/><circle cx="81.9" cy="161.9" r="0.4" fill="#6a5a5a"/><circle cx="195.0" cy="179.9" r="0.8" fill="#6a5a5a"/><circle cx="53.9" cy="205.0" r="0.5" fill="#6a5a5a"/><circle cx="97.4" cy="209.9" r="0.7" fill="#6a5a5a"/><circle cx="11.4" cy="161.0" r="0.4" fill="#6a5a5a"/><circle cx="179.1" cy="235.5" r="0.5" fill="#6a5a5a"/><circle cx="199.7" cy="236.8" r="0.5" fill="#6a5a5a"/><circle cx="106.8" cy="196.9" r="0.9" fill="#6a5a5a"/><circle cx="28.3" cy="187.0" r="0.8" fill="#6a5a5a"/><circle cx="82.0" cy="233.6" r="0.5" fill="#6a5a5a"/><circle cx="75.1" cy="208.7" r="0.9" fill="#6a5a5a"/><circle cx="170.3" cy="226.4" r="0.8" fill="#5a4a50"/><circle cx="165.9" cy="178.6" r="0.6" fill="#6a5a5a"/><circle cx="158.5" cy="236.7" r="0.5" fill="#6a5a5a"/><circle cx="36.5" cy="211.2" r="0.9" fill="#5a4a50"/><circle cx="157.6" cy="151.1" r="0.8" fill="#6a5a5a"/><circle cx="78.2" cy="226.0" r="0.7" fill="#5a4a50"/><circle cx="83.6" cy="150.8" r="0.4" fill="#6a5a5a"/><circle cx="150.3" cy="230.0" r="0.7" fill="#6a5a5a"/><circle cx="194.2" cy="167.5" r="0.5" fill="#6a5a5a"/><circle cx="114.9" cy="241.8" r="0.5" fill="#5a4a50"/><circle cx="63.2" cy="233.3" r="0.6" fill="#5a4a50"/><circle cx="11.9" cy="230.6" r="0.6" fill="#6a5a5a"/><circle cx="56.7" cy="204.6" r="0.8" fill="#5a4a50"/><circle cx="97.1" cy="214.9" r="0.5" fill="#6a5a5a"/><circle cx="182.6" cy="242.9" r="0.5" fill="#5a4a50"/><circle cx="117.2" cy="226.8" r="0.5" fill="#6a5a5a"/><circle cx="138.8" cy="203.1" r="0.8" fill="#5a4a50"/><circle cx="120.2" cy="169.8" r="0.6" fill="#5a4a50"/><circle cx="190.9" cy="177.8" r="0.8" fill="#5a4a50"/><circle cx="127.4" cy="220.1" r="0.7" fill="#5a4a50"/><circle cx="36.9" cy="175.6" r="0.7" fill="#5a4a50"/><circle cx="80.0" cy="219.0" r="0.6" fill="#6a5a5a"/></g></g></g>
<path d="M625,1058 H740" stroke="#ff0000" stroke-width="5" stroke-linecap="round"/>
<g transform="translate(753,934)"><use href="#tissue"/><g clip-path="url(#tc)"><g filter="url(#gb10)"><path d="M195,-10 L254,-10 L254,60 L225,60 L200,35 Z" fill="#826e64" opacity="0.85"/><path d="M225,50 L254,50 L254,140 L230,140 Z" fill="#7a5a5a" opacity="0.45"/><path d="M0,150 L60,150 L140,200 L150,254 L0,254 Z" fill="#7e6e64" opacity="0.5"/><path d="M95,140 L200,150 L210,200 L140,205 Z" fill="#8a8070" opacity="0.4"/></g><g opacity="0.8"><circle cx="69.3" cy="217.6" r="1.6" fill="#c84858"/><circle cx="99.6" cy="235.8" r="1.4" fill="#c84858"/><circle cx="59.7" cy="233.6" r="0.7" fill="#c84858"/><circle cx="20.7" cy="170.9" r="0.7" fill="#d25064"/><circle cx="135.0" cy="215.0" r="0.6" fill="#c84858"/><circle cx="33.8" cy="188.5" r="1.1" fill="#c84858"/><circle cx="97.5" cy="171.3" r="1.2" fill="#c84858"/><circle cx="117.5" cy="173.4" r="1.2" fill="#e06070"/><circle cx="38.4" cy="215.2" r="0.8" fill="#c84858"/><circle cx="42.6" cy="176.4" r="1.1" fill="#d25064"/><circle cx="78.7" cy="225.5" r="1.4" fill="#e06070"/><circle cx="102.1" cy="177.9" r="1.1" fill="#e06070"/><circle cx="27.1" cy="198.2" r="1.4" fill="#d25064"/><circle cx="55.2" cy="229.0" r="1.1" fill="#c84858"/><circle cx="21.7" cy="195.6" r="1.3" fill="#d25064"/><circle cx="83.2" cy="222.6" r="1.6" fill="#c84858"/><circle cx="12.6" cy="194.9" r="1.0" fill="#c84858"/><circle cx="116.5" cy="191.8" r="1.0" fill="#c84858"/><circle cx="33.0" cy="223.2" r="1.5" fill="#e06070"/><circle cx="123.4" cy="201.1" r="1.2" fill="#c84858"/><circle cx="38.5" cy="237.8" r="0.8" fill="#d25064"/><circle cx="94.0" cy="185.7" r="1.2" fill="#e06070"/><circle cx="21.6" cy="163.7" r="1.1" fill="#d25064"/><circle cx="99.0" cy="229.8" r="0.9" fill="#c84858"/><circle cx="69.3" cy="187.3" r="0.7" fill="#d25064"/><circle cx="57.2" cy="226.8" r="0.8" fill="#d25064"/><circle cx="93.0" cy="212.2" r="1.3" fill="#c84858"/><circle cx="54.9" cy="181.2" r="1.3" fill="#c84858"/><circle cx="119.8" cy="208.4" r="1.3" fill="#e06070"/><circle cx="31.2" cy="190.3" r="1.2" fill="#e06070"/><circle cx="115.5" cy="206.1" r="1.4" fill="#c84858"/><circle cx="63.8" cy="175.1" r="1.1" fill="#d25064"/><circle cx="87.2" cy="180.8" r="1.0" fill="#e06070"/><circle cx="69.6" cy="191.7" r="0.7" fill="#c84858"/><circle cx="95.8" cy="221.4" r="1.2" fill="#c84858"/><circle cx="73.4" cy="151.8" r="0.6" fill="#e06070"/><circle cx="88.0" cy="216.5" r="0.8" fill="#e06070"/><circle cx="43.9" cy="151.1" r="1.5" fill="#c84858"/><circle cx="81.5" cy="160.6" r="1.4" fill="#d25064"/><circle cx="28.9" cy="183.0" r="0.7" fill="#d25064"/><circle cx="114.7" cy="173.8" r="1.4" fill="#d25064"/><circle cx="138.3" cy="158.5" r="0.9" fill="#e06070"/><circle cx="85.3" cy="194.8" r="1.4" fill="#d25064"/><circle cx="130.7" cy="204.3" r="1.0" fill="#e06070"/><circle cx="137.3" cy="238.7" r="1.3" fill="#d25064"/><circle cx="97.3" cy="243.7" r="1.0" fill="#c84858"/><circle cx="131.0" cy="193.3" r="0.9" fill="#c84858"/><circle cx="46.3" cy="152.1" r="0.7" fill="#d25064"/><circle cx="133.9" cy="207.0" r="1.1" fill="#e06070"/><circle cx="96.1" cy="180.9" r="0.9" fill="#d25064"/><circle cx="94.5" cy="179.5" r="0.7" fill="#e06070"/><circle cx="130.3" cy="163.8" r="1.4" fill="#e06070"/><circle cx="103.0" cy="175.8" r="1.5" fill="#c84858"/><circle cx="24.3" cy="213.0" r="1.0" fill="#e06070"/><circle cx="105.3" cy="181.5" r="0.8" fill="#c84858"/><circle cx="116.6" cy="215.9" r="1.1" fill="#c84858"/><circle cx="101.2" cy="196.1" r="0.9" fill="#d25064"/><circle cx="136.8" cy="209.8" r="1.0" fill="#c84858"/><circle cx="93.1" cy="183.0" r="1.5" fill="#e06070"/><circle cx="55.9" cy="217.7" r="0.7" fill="#c84858"/><circle cx="95.6" cy="154.1" r="1.5" fill="#d25064"/><circle cx="139.7" cy="168.1" r="1.4" fill="#e06070"/><circle cx="44.0" cy="232.4" r="0.6" fill="#c84858"/><circle cx="90.2" cy="182.9" r="0.6" fill="#d25064"/><circle cx="49.2" cy="239.9" r="0.8" fill="#d25064"/><circle cx="85.8" cy="221.3" r="1.3" fill="#c84858"/><circle cx="115.5" cy="225.7" r="1.3" fill="#e06070"/><circle cx="111.0" cy="178.1" r="1.5" fill="#d25064"/><circle cx="34.1" cy="213.1" r="0.9" fill="#c84858"/><circle cx="50.2" cy="224.3" r="1.5" fill="#c84858"/></g><g opacity="0.6"><circle cx="243.9" cy="65.3" r="1.3" fill="#b05060"/><circle cx="161.1" cy="90.3" r="0.8" fill="#b05060"/><circle cx="180.0" cy="69.7" r="1.2" fill="#a04858"/><circle cx="200.3" cy="85.9" r="0.6" fill="#b05060"/><circle cx="242.9" cy="127.6" r="0.8" fill="#b05060"/><circle cx="172.4" cy="139.9" r="0.6" fill="#b05060"/><circle cx="172.6" cy="58.8" r="0.8" fill="#b05060"/><circle cx="194.3" cy="62.4" r="1.0" fill="#a04858"/><circle cx="154.8" cy="84.0" r="1.5" fill="#a04858"/><circle cx="211.4" cy="61.3" r="1.1" fill="#b05060"/><circle cx="225.4" cy="74.7" r="1.0" fill="#a04858"/><circle cx="215.1" cy="60.1" r="0.9" fill="#b05060"/><circle cx="240.6" cy="112.3" r="1.4" fill="#a04858"/><circle cx="243.0" cy="100.9" r="0.7" fill="#b05060"/><circle cx="200.2" cy="54.3" r="0.6" fill="#b05060"/><circle cx="223.4" cy="110.3" r="1.2" fill="#a04858"/><circle cx="220.2" cy="134.9" r="1.4" fill="#a04858"/><circle cx="185.7" cy="94.1" r="1.4" fill="#a04858"/><circle cx="220.4" cy="86.4" r="0.7" fill="#a04858"/><circle cx="233.9" cy="53.4" r="0.8" fill="#a04858"/><circle cx="231.7" cy="131.7" r="1.2" fill="#a04858"/><circle cx="237.7" cy="88.7" r="1.1" fill="#b05060"/><circle cx="240.0" cy="88.9" r="1.3" fill="#a04858"/><circle cx="195.7" cy="103.6" r="1.2" fill="#a04858"/><circle cx="235.4" cy="131.0" r="1.2" fill="#a04858"/><circle cx="207.1" cy="104.7" r="0.9" fill="#b05060"/><circle cx="232.8" cy="64.7" r="1.1" fill="#a04858"/><circle cx="215.0" cy="131.8" r="0.7" fill="#b05060"/><circle cx="206.2" cy="81.5" r="0.7" fill="#a04858"/><circle cx="238.6" cy="132.8" r="1.0" fill="#b05060"/><circle cx="238.4" cy="65.9" r="1.4" fill="#a04858"/><circle cx="241.1" cy="95.8" r="0.9" fill="#b05060"/><circle cx="228.2" cy="59.3" r="1.3" fill="#a04858"/><circle cx="165.5" cy="103.5" r="1.2" fill="#a04858"/><circle cx="204.5" cy="83.4" r="1.1" fill="#b05060"/><circle cx="237.7" cy="72.8" r="0.7" fill="#a04858"/><circle cx="208.1" cy="104.2" r="1.4" fill="#a04858"/><circle cx="198.9" cy="99.0" r="0.7" fill="#a04858"/><circle cx="240.6" cy="135.1" r="0.8" fill="#b05060"/><circle cx="194.8" cy="115.4" r="1.4" fill="#a04858"/><circle cx="197.5" cy="58.1" r="1.5" fill="#b05060"/><circle cx="203.8" cy="134.0" r="0.8" fill="#b05060"/><circle cx="228.8" cy="137.0" r="0.7" fill="#b05060"/><circle cx="222.3" cy="116.4" r="1.4" fill="#b05060"/><circle cx="229.6" cy="107.8" r="0.6" fill="#b05060"/><circle cx="218.0" cy="63.7" r="1.5" fill="#a04858"/><circle cx="194.6" cy="60.1" r="1.5" fill="#b05060"/><circle cx="232.4" cy="69.2" r="1.0" fill="#b05060"/><circle cx="180.4" cy="102.4" r="1.0" fill="#a04858"/><circle cx="192.0" cy="101.7" r="1.5" fill="#a04858"/></g><g opacity="0.5"><circle cx="179.1" cy="234.1" r="0.7" fill="#6a5a5a"/><circle cx="182.2" cy="240.5" r="0.7" fill="#6a5a5a"/><circle cx="152.3" cy="212.6" r="0.8" fill="#6a5a5a"/><circle cx="189.7" cy="234.7" r="0.6" fill="#5a4a50"/><circle cx="72.4" cy="221.3" r="0.8" fill="#6a5a5a"/><circle cx="144.0" cy="151.0" r="0.5" fill="#6a5a5a"/><circle cx="39.9" cy="175.6" r="0.8" fill="#6a5a5a"/><circle cx="62.0" cy="225.9" r="0.7" fill="#5a4a50"/><circle cx="169.5" cy="169.4" r="0.4" fill="#5a4a50"/><circle cx="29.8" cy="177.2" r="0.8" fill="#6a5a5a"/><circle cx="118.7" cy="171.4" r="0.7" fill="#5a4a50"/><circle cx="31.7" cy="152.5" r="0.5" fill="#6a5a5a"/><circle cx="126.9" cy="211.7" r="0.4" fill="#5a4a50"/><circle cx="121.9" cy="199.7" r="0.8" fill="#6a5a5a"/><circle cx="180.1" cy="173.2" r="0.7" fill="#5a4a50"/><circle cx="62.2" cy="194.2" r="0.6" fill="#5a4a50"/><circle cx="27.5" cy="175.6" r="0.4" fill="#5a4a50"/><circle cx="135.3" cy="184.5" r="0.6" fill="#5a4a50"/><circle cx="90.9" cy="232.3" r="0.6" fill="#6a5a5a"/><circle cx="50.1" cy="233.6" r="0.7" fill="#5a4a50"/><circle cx="164.1" cy="203.5" r="0.7" fill="#6a5a5a"/><circle cx="165.6" cy="218.7" r="0.9" fill="#6a5a5a"/><circle cx="96.0" cy="164.8" r="0.7" fill="#6a5a5a"/><circle cx="86.0" cy="174.9" r="0.7" fill="#5a4a50"/><circle cx="89.6" cy="158.7" r="0.9" fill="#5a4a50"/><circle cx="186.0" cy="192.3" r="0.6" fill="#5a4a50"/><circle cx="131.7" cy="182.0" r="0.6" fill="#6a5a5a"/><circle cx="163.1" cy="162.4" r="0.7" fill="#5a4a50"/><circle cx="152.1" cy="218.9" r="0.7" fill="#6a5a5a"/><circle cx="11.5" cy="172.0" r="0.7" fill="#5a4a50"/><circle cx="170.5" cy="152.0" r="0.8" fill="#6a5a5a"/><circle cx="144.1" cy="241.3" r="0.5" fill="#5a4a50"/><circle cx="149.7" cy="216.7" r="0.7" fill="#5a4a50"/><circle cx="67.0" cy="170.7" r="0.6" fill="#5a4a50"/><circle cx="90.4" cy="151.5" r="0.7" fill="#5a4a50"/><circle cx="139.6" cy="207.0" r="0.6" fill="#6a5a5a"/><circle cx="10.3" cy="159.6" r="0.4" fill="#6a5a5a"/><circle cx="139.3" cy="223.7" r="0.4" fill="#6a5a5a"/><circle cx="24.3" cy="238.8" r="0.9" fill="#6a5a5a"/><circle cx="64.8" cy="154.0" r="0.8" fill="#6a5a5a"/><circle cx="38.1" cy="202.4" r="0.4" fill="#5a4a50"/><circle cx="193.4" cy="242.3" r="0.8" fill="#5a4a50"/><circle cx="32.2" cy="150.0" r="0.5" fill="#6a5a5a"/><circle cx="32.3" cy="150.1" r="0.4" fill="#5a4a50"/><circle cx="141.5" cy="203.3" r="0.7" fill="#6a5a5a"/><circle cx="123.2" cy="174.5" r="0.7" fill="#6a5a5a"/><circle cx="168.8" cy="200.7" r="0.7" fill="#6a5a5a"/><circle cx="48.7" cy="187.8" r="0.7" fill="#5a4a50"/><circle cx="164.1" cy="222.4" r="0.9" fill="#6a5a5a"/><circle cx="125.5" cy="183.0" r="0.7" fill="#5a4a50"/></g></g></g>
<path d="M875,1058 H990" stroke="#ff0000" stroke-width="5" stroke-linecap="round"/>
<g transform="translate(1003,934)"><use href="#tissue"/><g clip-path="url(#tc)"><g filter="url(#gb6)"><path d="M198,-5 L250,-5 L250,45 L215,45 Z" fill="#847266" opacity="0.8"/></g><g opacity="0.45"><rect x="225.7" y="31.1" width="3.4" height="26.9" fill="#8e847a"/><rect x="232.0" y="132.8" width="1.5" height="9.0" fill="#857a70"/><rect x="221.5" y="48.0" width="3.3" height="8.8" fill="#7e746a"/><rect x="199.7" y="142.4" width="1.6" height="10.9" fill="#7e746a"/><rect x="187.3" y="63.9" width="1.8" height="13.2" fill="#857a70"/><rect x="217.4" y="14.5" width="2.0" height="10.3" fill="#7e746a"/><rect x="194.1" y="81.7" width="3.1" height="9.0" fill="#8e847a"/><rect x="240.2" y="28.6" width="3.3" height="14.4" fill="#857a70"/><rect x="231.3" y="76.1" width="1.6" height="22.0" fill="#7e746a"/><rect x="193.5" y="124.2" width="1.8" height="11.3" fill="#857a70"/><rect x="193.3" y="22.8" width="1.6" height="15.1" fill="#7e746a"/><rect x="189.1" y="18.9" width="2.4" height="7.5" fill="#7e746a"/><rect x="220.4" y="104.9" width="2.0" height="7.7" fill="#7e746a"/><rect x="195.5" y="60.9" width="3.2" height="17.5" fill="#857a70"/><rect x="232.9" y="123.5" width="3.2" height="22.7" fill="#8e847a"/><rect x="226.4" y="81.5" width="2.5" height="18.5" fill="#857a70"/><rect x="229.4" y="129.2" width="2.0" height="6.5" fill="#857a70"/><rect x="218.8" y="113.9" width="1.7" height="19.9" fill="#7e746a"/><rect x="229.9" y="24.4" width="2.8" height="8.5" fill="#857a70"/><rect x="223.5" y="31.0" width="3.2" height="6.3" fill="#857a70"/><rect x="198.6" y="26.1" width="2.3" height="19.0" fill="#857a70"/><rect x="223.4" y="102.7" width="3.2" height="20.2" fill="#7e746a"/><rect x="198.1" y="74.8" width="1.6" height="18.1" fill="#857a70"/><rect x="185.4" y="120.1" width="2.5" height="23.0" fill="#8e847a"/><rect x="216.0" y="134.8" width="2.6" height="15.5" fill="#8e847a"/><rect x="238.2" y="84.4" width="1.6" height="24.7" fill="#7e746a"/><rect x="214.0" y="73.6" width="2.4" height="7.7" fill="#857a70"/><rect x="210.7" y="1.5" width="3.1" height="28.0" fill="#7e746a"/><rect x="199.9" y="72.0" width="2.0" height="27.3" fill="#8e847a"/><rect x="194.6" y="115.6" width="1.6" height="10.3" fill="#8e847a"/><rect x="202.3" y="9.3" width="3.0" height="7.5" fill="#8e847a"/><rect x="213.0" y="50.6" width="1.7" height="25.2" fill="#7e746a"/><rect x="190.3" y="47.2" width="3.1" height="7.6" fill="#8e847a"/><rect x="225.4" y="68.3" width="2.4" height="27.1" fill="#857a70"/><rect x="216.9" y="23.1" width="2.7" height="11.6" fill="#7e746a"/><rect x="209.0" y="81.1" width="2.1" height="21.8" fill="#857a70"/><rect x="233.6" y="13.5" width="3.1" height="28.9" fill="#7e746a"/><rect x="193.2" y="33.4" width="3.0" height="19.8" fill="#857a70"/><rect x="197.1" y="102.9" width="3.1" height="13.9" fill="#8e847a"/><rect x="196.8" y="78.5" width="2.9" height="17.1" fill="#8e847a"/><rect x="201.9" y="103.8" width="1.8" height="28.3" fill="#7e746a"/><rect x="220.0" y="34.7" width="1.6" height="16.0" fill="#8e847a"/><rect x="221.9" y="118.1" width="2.2" height="11.9" fill="#857a70"/><rect x="191.6" y="70.0" width="2.5" height="29.5" fill="#7e746a"/><rect x="199.9" y="93.7" width="2.1" height="26.4" fill="#8e847a"/><rect x="210.5" y="39.5" width="2.4" height="7.4" fill="#7e746a"/><rect x="207.4" y="92.5" width="2.7" height="24.7" fill="#7e746a"/><rect x="206.7" y="131.3" width="3.1" height="24.8" fill="#8e847a"/><rect x="220.8" y="18.5" width="3.1" height="19.0" fill="#857a70"/><rect x="216.5" y="27.4" width="2.1" height="17.8" fill="#8e847a"/><rect x="227.5" y="129.9" width="2.7" height="24.9" fill="#8e847a"/><rect x="189.5" y="99.6" width="1.7" height="8.0" fill="#7e746a"/><rect x="196.5" y="52.2" width="2.3" height="9.7" fill="#857a70"/><rect x="191.7" y="37.0" width="3.3" height="14.6" fill="#857a70"/><rect x="198.2" y="109.5" width="1.7" height="8.9" fill="#7e746a"/><rect x="200.8" y="26.1" width="3.5" height="6.9" fill="#7e746a"/><rect x="232.3" y="98.3" width="1.7" height="18.0" fill="#857a70"/><rect x="197.3" y="136.4" width="1.9" height="20.6" fill="#8e847a"/><rect x="225.9" y="32.8" width="2.7" height="19.2" fill="#7e746a"/><rect x="238.8" y="15.2" width="2.9" height="8.8" fill="#7e746a"/></g><g filter="url(#gb10)"><path d="M10,150 L60,150 L140,200 L150,254 L10,254 Z" fill="#7e6e64" opacity="0.3"/></g><g opacity="0.55"><rect x="83.1" y="156.5" width="2.8" height="24.8" fill="#857a70"/><rect x="133.3" y="213.3" width="3.3" height="26.4" fill="#7e746a"/><rect x="112.5" y="211.0" width="1.9" height="24.2" fill="#7e746a"/><rect x="54.1" y="190.9" width="3.3" height="27.3" fill="#857a70"/><rect x="51.3" y="224.3" width="1.9" height="18.8" fill="#857a70"/><rect x="55.3" y="166.4" width="2.7" height="35.5" fill="#7e746a"/><rect x="71.8" y="155.7" width="3.0" height="31.2" fill="#7e746a"/><rect x="91.5" y="188.3" width="2.5" height="15.9" fill="#7e746a"/><rect x="108.5" y="176.1" width="1.9" height="19.2" fill="#857a70"/><rect x="91.6" y="171.7" width="2.8" height="34.6" fill="#8e847a"/><rect x="135.4" y="181.9" width="1.7" height="26.6" fill="#857a70"/><rect x="66.0" y="155.7" width="2.4" height="35.8" fill="#7e746a"/><rect x="42.4" y="157.1" width="2.1" height="20.9" fill="#8e847a"/><rect x="115.6" y="178.7" width="2.4" height="24.6" fill="#8e847a"/><rect x="43.4" y="152.0" width="2.1" height="14.2" fill="#8e847a"/><rect x="88.1" y="155.3" width="2.6" height="39.4" fill="#8e847a"/><rect x="56.3" y="233.0" width="2.3" height="10.5" fill="#7e746a"/><rect x="95.7" y="171.7" width="3.4" height="17.1" fill="#7e746a"/><rect x="50.3" y="227.2" width="3.3" height="10.3" fill="#7e746a"/><rect x="94.1" y="217.8" width="3.2" height="11.9" fill="#7e746a"/><rect x="53.8" y="184.8" width="3.3" height="11.9" fill="#857a70"/><rect x="44.6" y="224.4" width="2.6" height="20.8" fill="#7e746a"/><rect x="105.2" y="218.4" width="1.6" height="37.0" fill="#8e847a"/><rect x="74.5" y="202.7" width="3.1" height="32.3" fill="#7e746a"/><rect x="95.1" y="179.3" width="2.0" height="33.6" fill="#8e847a"/><rect x="136.1" y="192.3" width="2.0" height="37.3" fill="#7e746a"/><rect x="129.6" y="177.2" width="1.7" height="35.7" fill="#8e847a"/><rect x="31.2" y="188.6" width="3.2" height="24.6" fill="#857a70"/><rect x="104.1" y="210.8" width="2.2" height="24.0" fill="#8e847a"/><rect x="82.2" y="203.6" width="2.5" height="27.7" fill="#857a70"/><rect x="39.2" y="170.5" width="2.0" height="20.9" fill="#857a70"/><rect x="55.8" y="180.1" width="2.9" height="24.4" fill="#857a70"/><rect x="67.4" y="219.7" width="2.6" height="20.2" fill="#857a70"/><rect x="38.1" y="164.8" width="3.1" height="20.7" fill="#857a70"/><rect x="45.7" y="220.4" width="3.4" height="14.1" fill="#7e746a"/><rect x="45.9" y="218.5" width="1.5" height="13.2" fill="#8e847a"/><rect x="85.7" y="162.8" width="2.9" height="25.3" fill="#7e746a"/><rect x="59.6" y="172.4" width="3.4" height="24.5" fill="#7e746a"/><rect x="114.4" y="166.7" width="3.0" height="36.4" fill="#8e847a"/><rect x="90.0" y="154.4" width="2.5" height="38.3" fill="#857a70"/><rect x="64.1" y="175.5" width="2.7" height="37.5" fill="#7e746a"/><rect x="129.1" y="157.7" width="1.5" height="38.8" fill="#857a70"/><rect x="98.3" y="174.6" width="2.8" height="33.9" fill="#8e847a"/><rect x="96.1" y="227.2" width="1.8" height="16.3" fill="#857a70"/><rect x="124.7" y="210.1" width="3.4" height="23.6" fill="#8e847a"/><rect x="74.9" y="204.5" width="2.5" height="26.0" fill="#8e847a"/><rect x="116.6" y="152.8" width="3.0" height="16.9" fill="#7e746a"/><rect x="97.8" y="207.5" width="2.9" height="19.0" fill="#8e847a"/><rect x="113.2" y="187.9" width="2.9" height="29.9" fill="#8e847a"/><rect x="100.3" y="170.6" width="3.0" height="26.4" fill="#7e746a"/><rect x="49.8" y="153.0" width="2.2" height="32.1" fill="#8e847a"/><rect x="85.1" y="184.0" width="1.7" height="35.3" fill="#7e746a"/><rect x="76.2" y="176.7" width="1.9" height="18.8" fill="#7e746a"/><rect x="94.3" y="219.6" width="2.9" height="38.6" fill="#857a70"/><rect x="87.0" y="201.6" width="2.6" height="34.3" fill="#857a70"/><rect x="117.0" y="155.9" width="1.5" height="35.2" fill="#7e746a"/><rect x="66.9" y="173.6" width="3.3" height="20.1" fill="#8e847a"/><rect x="133.5" y="187.5" width="2.9" height="14.2" fill="#857a70"/><rect x="43.7" y="182.9" width="3.3" height="29.7" fill="#8e847a"/><rect x="137.5" y="178.6" width="2.3" height="29.7" fill="#8e847a"/><rect x="91.9" y="195.9" width="3.4" height="28.9" fill="#7e746a"/><rect x="94.8" y="222.9" width="2.1" height="28.7" fill="#8e847a"/><rect x="71.7" y="166.7" width="1.7" height="13.8" fill="#857a70"/><rect x="103.4" y="212.0" width="2.5" height="10.2" fill="#8e847a"/><rect x="79.7" y="167.7" width="2.4" height="32.1" fill="#8e847a"/><rect x="104.2" y="195.2" width="1.7" height="39.6" fill="#7e746a"/><rect x="79.7" y="181.2" width="3.0" height="14.5" fill="#8e847a"/><rect x="37.1" y="154.0" width="2.3" height="38.5" fill="#8e847a"/><rect x="77.7" y="150.3" width="2.1" height="37.1" fill="#8e847a"/><rect x="74.8" y="158.7" width="2.1" height="12.4" fill="#7e746a"/><rect x="79.5" y="186.1" width="2.3" height="31.1" fill="#8e847a"/><rect x="72.7" y="168.1" width="1.7" height="13.7" fill="#8e847a"/><rect x="76.5" y="203.7" width="3.2" height="10.0" fill="#7e746a"/><rect x="77.8" y="186.7" width="3.0" height="37.5" fill="#7e746a"/><rect x="68.7" y="227.5" width="2.6" height="17.0" fill="#8e847a"/><rect x="104.5" y="165.9" width="2.8" height="38.4" fill="#857a70"/><rect x="82.0" y="175.5" width="3.1" height="39.4" fill="#8e847a"/><rect x="40.1" y="222.5" width="3.1" height="11.9" fill="#857a70"/><rect x="64.6" y="209.1" width="1.8" height="31.9" fill="#857a70"/><rect x="56.1" y="208.4" width="3.2" height="32.7" fill="#8e847a"/><rect x="43.6" y="213.0" width="3.4" height="38.0" fill="#7e746a"/><rect x="90.3" y="231.5" width="2.1" height="22.5" fill="#8e847a"/><rect x="77.6" y="174.1" width="3.0" height="19.1" fill="#7e746a"/><rect x="63.5" y="176.3" width="2.4" height="39.8" fill="#7e746a"/><rect x="58.0" y="191.5" width="3.1" height="31.3" fill="#7e746a"/><rect x="35.3" y="183.9" width="1.6" height="28.2" fill="#7e746a"/><rect x="102.9" y="216.6" width="2.9" height="29.8" fill="#8e847a"/><rect x="75.3" y="176.0" width="2.6" height="11.9" fill="#8e847a"/><rect x="76.2" y="168.6" width="2.9" height="38.5" fill="#857a70"/><rect x="129.1" y="159.1" width="2.5" height="16.2" fill="#7e746a"/><rect x="92.8" y="160.9" width="2.8" height="39.1" fill="#857a70"/><rect x="89.4" y="151.4" width="3.3" height="38.0" fill="#7e746a"/><rect x="55.2" y="195.5" width="3.0" height="20.4" fill="#8e847a"/><rect x="111.4" y="204.2" width="3.2" height="40.0" fill="#7e746a"/><rect x="31.4" y="211.8" width="2.6" height="20.5" fill="#8e847a"/><rect x="36.5" y="156.2" width="2.2" height="26.9" fill="#857a70"/><rect x="103.7" y="191.6" width="1.8" height="16.0" fill="#7e746a"/><rect x="57.6" y="160.0" width="3.3" height="26.2" fill="#857a70"/><rect x="116.0" y="210.5" width="1.9" height="23.6" fill="#8e847a"/><rect x="70.1" y="178.0" width="2.5" height="37.0" fill="#7e746a"/><rect x="104.3" y="214.3" width="3.5" height="16.5" fill="#8e847a"/><rect x="130.0" y="199.2" width="1.8" height="31.5" fill="#857a70"/><rect x="55.7" y="154.3" width="2.2" height="11.5" fill="#7e746a"/><rect x="99.5" y="224.3" width="2.1" height="15.7" fill="#7e746a"/><rect x="89.6" y="178.7" width="3.3" height="11.1" fill="#8e847a"/><rect x="94.7" y="165.2" width="1.9" height="19.6" fill="#7e746a"/><rect x="35.5" y="212.5" width="2.8" height="32.6" fill="#8e847a"/><rect x="35.0" y="220.9" width="2.4" height="17.3" fill="#8e847a"/><rect x="122.4" y="171.9" width="3.1" height="28.5" fill="#857a70"/><rect x="116.7" y="180.7" width="1.7" height="18.6" fill="#857a70"/><rect x="53.8" y="150.7" width="3.5" height="34.4" fill="#857a70"/><rect x="110.2" y="194.4" width="3.2" height="28.1" fill="#857a70"/><rect x="92.3" y="153.7" width="3.3" height="25.5" fill="#857a70"/><rect x="135.3" y="170.5" width="1.8" height="22.2" fill="#7e746a"/><rect x="30.5" y="165.5" width="2.7" height="20.6" fill="#8e847a"/><rect x="68.5" y="195.6" width="2.1" height="33.9" fill="#857a70"/><rect x="36.7" y="208.7" width="3.5" height="31.9" fill="#8e847a"/><rect x="119.7" y="182.9" width="3.4" height="38.4" fill="#8e847a"/><rect x="55.9" y="234.6" width="2.6" height="18.7" fill="#857a70"/><rect x="35.5" y="171.8" width="3.5" height="19.9" fill="#8e847a"/><rect x="85.0" y="186.3" width="2.1" height="39.6" fill="#857a70"/><rect x="97.5" y="206.8" width="2.9" height="23.4" fill="#8e847a"/><rect x="71.1" y="198.4" width="1.6" height="29.7" fill="#857a70"/><rect x="34.8" y="225.1" width="2.6" height="29.5" fill="#857a70"/><rect x="47.9" y="212.4" width="3.4" height="32.4" fill="#8e847a"/><rect x="67.7" y="159.5" width="2.9" height="25.4" fill="#857a70"/><rect x="33.4" y="168.8" width="2.2" height="25.0" fill="#8e847a"/><rect x="59.0" y="223.5" width="2.1" height="29.6" fill="#7e746a"/><rect x="127.9" y="205.8" width="1.8" height="30.3" fill="#7e746a"/><rect x="59.7" y="205.4" width="2.0" height="19.4" fill="#7e746a"/><rect x="36.9" y="222.0" width="2.7" height="24.0" fill="#8e847a"/><rect x="40.2" y="200.8" width="1.7" height="20.9" fill="#857a70"/><rect x="116.6" y="198.2" width="2.0" height="26.6" fill="#857a70"/><rect x="114.6" y="205.7" width="2.2" height="37.5" fill="#857a70"/><rect x="134.7" y="219.7" width="3.5" height="21.7" fill="#8e847a"/><rect x="63.3" y="174.4" width="2.6" height="34.2" fill="#7e746a"/><rect x="135.5" y="158.4" width="2.8" height="36.9" fill="#7e746a"/><rect x="89.6" y="193.6" width="3.2" height="14.3" fill="#7e746a"/><rect x="111.5" y="204.4" width="3.5" height="11.2" fill="#7e746a"/><rect x="64.9" y="199.0" width="1.6" height="29.7" fill="#8e847a"/><rect x="127.0" y="224.7" width="3.2" height="18.1" fill="#857a70"/><rect x="134.0" y="159.9" width="3.4" height="30.2" fill="#857a70"/><rect x="39.9" y="191.4" width="1.6" height="17.8" fill="#7e746a"/><rect x="58.7" y="213.6" width="2.7" height="14.7" fill="#7e746a"/><rect x="64.7" y="155.9" width="3.1" height="29.9" fill="#857a70"/><rect x="117.3" y="213.3" width="3.4" height="30.8" fill="#8e847a"/><rect x="126.0" y="168.4" width="2.0" height="37.5" fill="#7e746a"/><rect x="122.3" y="218.2" width="1.7" height="32.8" fill="#857a70"/><rect x="89.1" y="202.6" width="2.2" height="21.4" fill="#7e746a"/><rect x="54.8" y="222.3" width="2.7" height="24.2" fill="#7e746a"/></g><g opacity="0.35"><rect x="130.5" y="139.9" width="2.3" height="29.7" fill="#8e847a"/><rect x="164.0" y="144.5" width="1.7" height="19.7" fill="#857a70"/><rect x="146.8" y="146.7" width="1.7" height="14.9" fill="#857a70"/><rect x="155.0" y="171.9" width="1.5" height="6.2" fill="#8e847a"/><rect x="124.1" y="133.8" width="3.1" height="19.2" fill="#857a70"/><rect x="174.7" y="189.6" width="2.1" height="11.7" fill="#857a70"/><rect x="166.0" y="137.9" width="3.3" height="11.0" fill="#8e847a"/><rect x="126.7" y="147.3" width="2.8" height="20.0" fill="#857a70"/><rect x="168.3" y="152.2" width="2.7" height="22.3" fill="#8e847a"/><rect x="147.8" y="163.6" width="3.3" height="24.4" fill="#857a70"/><rect x="154.9" y="154.5" width="3.2" height="25.9" fill="#857a70"/><rect x="147.2" y="152.6" width="2.0" height="9.0" fill="#857a70"/><rect x="125.7" y="154.0" width="2.8" height="26.7" fill="#8e847a"/><rect x="136.6" y="173.4" width="1.7" height="26.8" fill="#8e847a"/><rect x="183.2" y="133.9" width="1.6" height="21.6" fill="#857a70"/><rect x="133.5" y="181.7" width="2.0" height="23.9" fill="#857a70"/><rect x="167.8" y="138.4" width="2.4" height="27.5" fill="#857a70"/><rect x="121.4" y="135.9" width="2.7" height="7.2" fill="#8e847a"/><rect x="163.9" y="189.1" width="3.1" height="16.5" fill="#8e847a"/><rect x="123.2" y="182.8" width="3.0" height="17.5" fill="#8e847a"/><rect x="145.9" y="151.6" width="3.5" height="19.1" fill="#8e847a"/><rect x="160.8" y="140.7" width="3.1" height="12.9" fill="#8e847a"/><rect x="187.0" y="183.9" width="1.6" height="17.4" fill="#857a70"/><rect x="124.8" y="190.9" width="1.9" height="7.2" fill="#8e847a"/><rect x="194.8" y="131.8" width="2.7" height="10.1" fill="#8e847a"/><rect x="117.5" y="145.3" width="2.3" height="18.0" fill="#857a70"/><rect x="140.5" y="151.8" width="3.4" height="29.6" fill="#857a70"/><rect x="116.9" y="135.7" width="2.2" height="24.2" fill="#8e847a"/><rect x="156.4" y="175.1" width="1.8" height="29.9" fill="#857a70"/><rect x="178.2" y="162.4" width="3.1" height="14.3" fill="#857a70"/><rect x="119.0" y="174.7" width="2.5" height="29.7" fill="#8e847a"/><rect x="136.4" y="174.0" width="2.9" height="17.6" fill="#8e847a"/><rect x="115.2" y="163.9" width="1.6" height="26.7" fill="#8e847a"/><rect x="141.7" y="182.0" width="3.5" height="16.1" fill="#8e847a"/><rect x="178.4" y="158.8" width="1.9" height="27.4" fill="#857a70"/><rect x="163.4" y="171.9" width="3.3" height="17.9" fill="#8e847a"/><rect x="185.2" y="181.7" width="2.8" height="10.7" fill="#857a70"/><rect x="156.7" y="173.2" width="2.6" height="20.9" fill="#8e847a"/><rect x="121.1" y="169.3" width="3.0" height="23.9" fill="#8e847a"/><rect x="158.9" y="148.5" width="1.6" height="27.3" fill="#8e847a"/></g></g></g>
<path d="M1125,1058 H1240" stroke="#ff0000" stroke-width="5" stroke-linecap="round"/>
<g transform="translate(1253,934)"><use href="#tissue"/><g clip-path="url(#tc)"></g></g>
<path d="M1375,1058 H1490" stroke="#ff0000" stroke-width="5" stroke-linecap="round"/>
<g fill="#000" font-size="49.5" stroke="#fff" stroke-width="1.1" font-family="'Liberation Sans', sans-serif">
<text x="94.5" y="1226" textLength="62" lengthAdjust="spacingAndGlyphs">GT</text>
<text x="277" y="1226" textLength="194" lengthAdjust="spacingAndGlyphs">segment</text>
<text x="598.5" y="1226" textLength="53" lengthAdjust="spacingAndGlyphs">ns</text>
<text x="821" y="1226" textLength="107" lengthAdjust="spacingAndGlyphs">telea</text>
<text x="1046" y="1226" textLength="28" lengthAdjust="spacingAndGlyphs">P</text>
<text x="1099" y="1226" textLength="108" lengthAdjust="spacingAndGlyphs">conv</text>
<text x="1299" y="1226" textLength="152" lengthAdjust="spacingAndGlyphs">PatNet</text>
<rect x="1079.2" y="1211" width="14.7" height="3.6" fill="#000"/>
</g>
</svg>
</body></html>
